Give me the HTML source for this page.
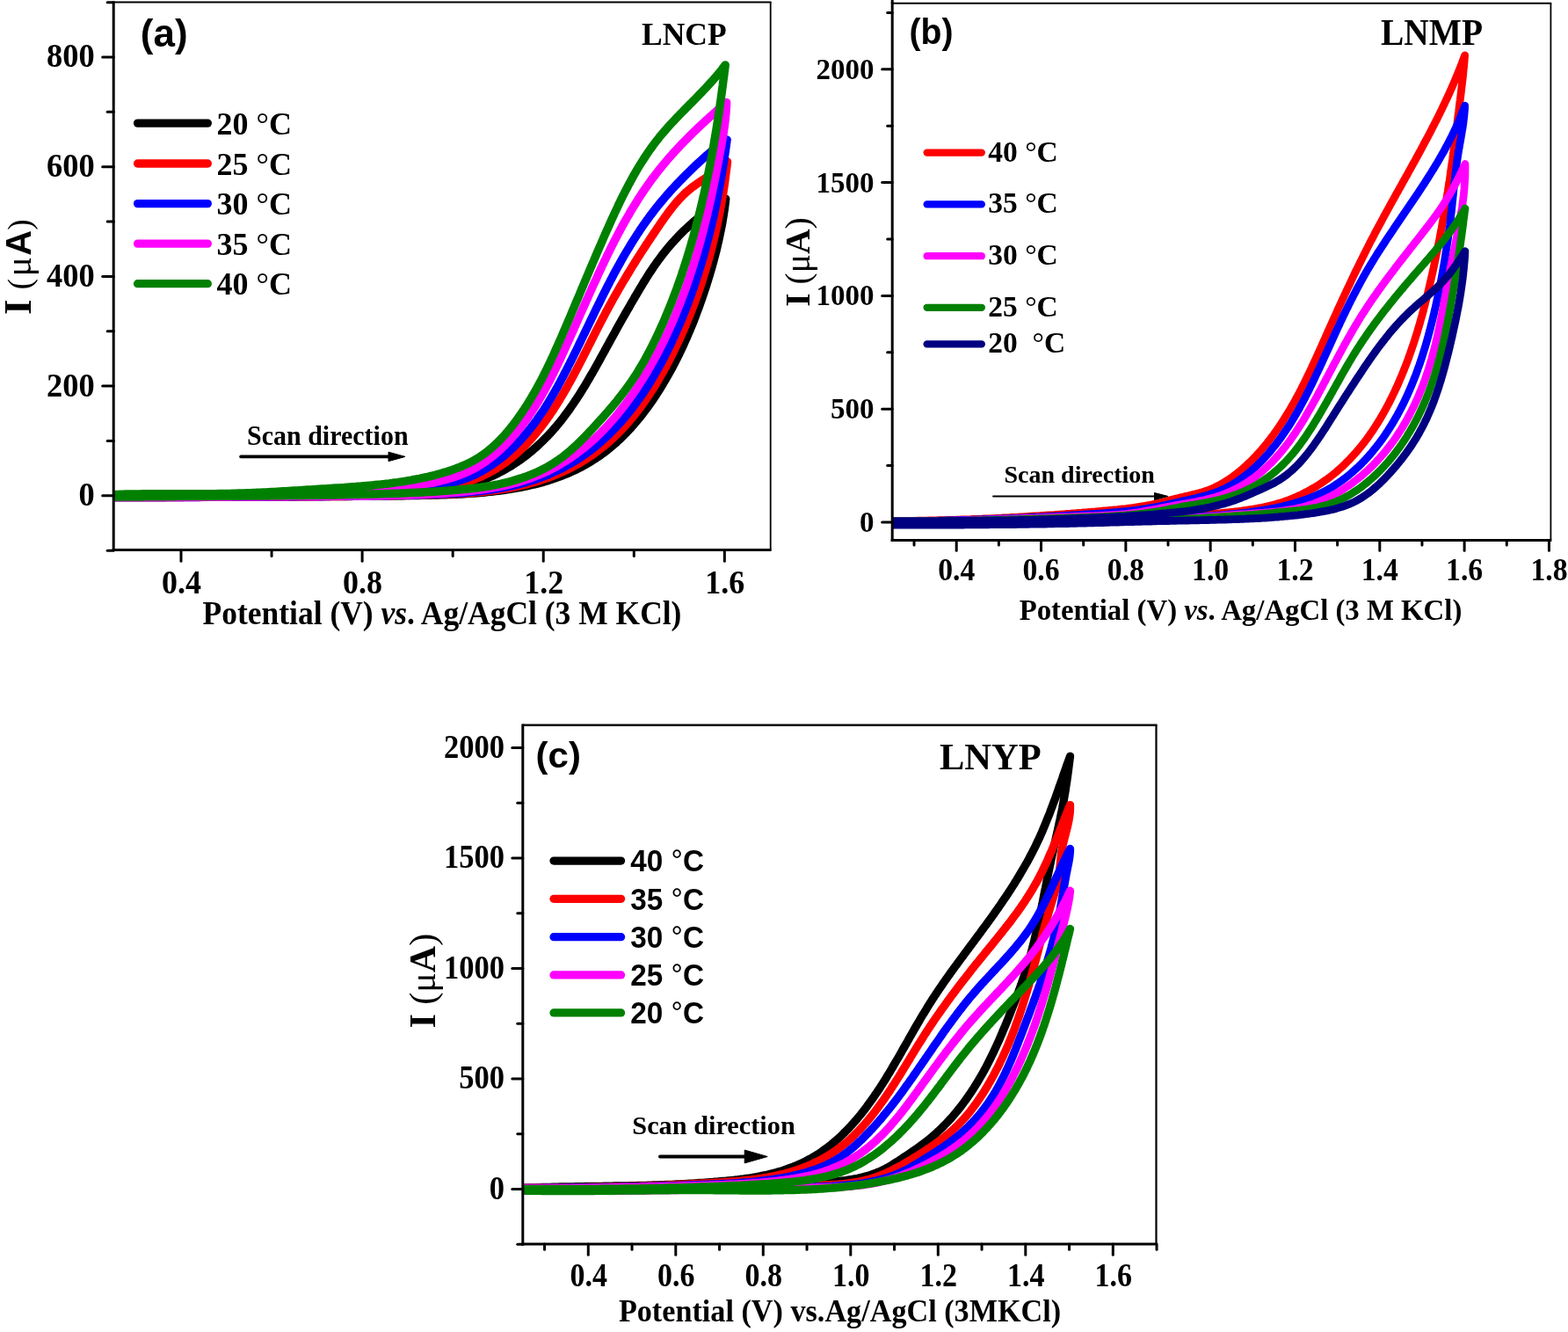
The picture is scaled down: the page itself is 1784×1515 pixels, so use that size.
<!DOCTYPE html>
<html><head><meta charset="utf-8"><title>CV plots</title>
<style>
html,body{margin:0;padding:0;background:#fff;}
body{width:1784px;height:1515px;overflow:hidden;}
svg{display:block;}
</style></head><body>
<svg width="1784" height="1515" viewBox="0 0 1784 1515">
<rect x="0" y="0" width="1784" height="1515" fill="#fff"/>
<clipPath id="clp1"><rect x="129.2" y="2.5" width="747.5" height="623.0"/></clipPath>
<g clip-path="url(#clp1)">
<path d="M130.5,565.0 L133.3,565.0 L136.2,565.0 L139.0,565.0 L141.9,565.0 L144.7,565.0 L147.6,565.0 L150.4,565.0 L153.3,565.0 L156.1,565.0 L159.0,565.0 L161.8,565.0 L164.7,565.0 L167.5,565.0 L170.4,565.0 L173.2,565.0 L176.1,565.0 L178.9,565.0 L181.8,565.0 L184.6,565.0 L187.5,565.0 L190.3,565.0 L193.2,565.0 L196.0,564.9 L198.9,564.9 L201.7,564.9 L204.6,564.9 L207.4,564.9 L210.3,564.9 L213.1,564.9 L216.0,564.9 L218.8,564.9 L221.7,564.9 L224.5,564.9 L227.4,564.9 L230.2,564.8 L233.1,564.8 L235.9,564.8 L238.8,564.8 L241.6,564.8 L244.5,564.8 L247.3,564.8 L250.2,564.8 L253.0,564.7 L255.9,564.7 L258.7,564.7 L261.6,564.7 L264.4,564.7 L267.3,564.7 L270.1,564.6 L273.0,564.6 L275.8,564.6 L278.7,564.6 L281.5,564.6 L284.4,564.6 L287.2,564.5 L290.1,564.5 L292.9,564.5 L295.8,564.5 L298.6,564.4 L301.5,564.4 L304.3,564.4 L307.2,564.4 L310.0,564.3 L312.9,564.3 L315.7,564.3 L318.6,564.3 L321.4,564.2 L324.3,564.2 L327.1,564.2 L330.0,564.1 L332.8,564.1 L335.7,564.1 L338.5,564.0 L341.4,564.0 L344.2,564.0 L347.1,563.9 L349.9,563.9 L352.8,563.9 L355.6,563.8 L358.4,563.8 L361.3,563.7 L364.1,563.7 L367.0,563.7 L369.8,563.6 L372.7,563.6 L375.5,563.5 L378.4,563.5 L381.2,563.4 L384.1,563.4 L386.9,563.3 L389.8,563.3 L392.6,563.2 L395.5,563.2 L398.3,563.1 L401.2,563.1 L404.0,563.0 L406.9,562.9 L409.7,562.9 L412.6,562.8 L415.4,562.7 L418.3,562.7 L421.1,562.6 L424.0,562.5 L426.8,562.4 L429.7,562.4 L432.5,562.3 L435.4,562.2 L438.2,562.1 L441.1,562.0 L443.9,561.9 L446.8,561.8 L449.6,561.7 L452.5,561.6 L455.3,561.5 L458.2,561.4 L461.0,561.3 L463.9,561.2 L466.7,561.0 L469.6,560.9 L472.4,560.8 L475.3,560.6 L478.1,560.4 L481.0,560.3 L483.8,560.1 L486.6,559.8 L489.5,559.6 L492.3,559.3 L495.1,559.0 L497.9,558.7 L500.8,558.4 L503.6,558.0 L506.4,557.6 L509.2,557.1 L512.0,556.6 L514.8,556.1 L517.5,555.5 L520.3,554.9 L523.1,554.3 L525.8,553.6 L528.6,552.8 L531.3,552.1 L534.0,551.3 L536.7,550.4 L539.4,549.6 L542.1,548.6 L544.8,547.7 L547.5,546.7 L550.1,545.7 L552.8,544.6 L555.4,543.5 L558.0,542.3 L560.6,541.1 L563.2,539.9 L565.7,538.7 L568.2,537.4 L570.8,536.0 L573.3,534.7 L575.8,533.3 L578.2,531.8 L580.7,530.4 L583.1,528.9 L585.5,527.3 L587.9,525.8 L590.2,524.2 L592.6,522.5 L594.9,520.8 L597.2,519.1 L599.4,517.4 L601.7,515.6 L603.9,513.8 L606.1,512.0 L608.2,510.1 L610.4,508.3 L612.5,506.3 L614.5,504.4 L616.6,502.4 L618.6,500.4 L620.6,498.4 L622.6,496.4 L624.6,494.3 L626.5,492.2 L628.4,490.1 L630.3,487.9 L632.1,485.8 L634.0,483.6 L635.8,481.4 L637.6,479.2 L639.4,477.0 L641.1,474.7 L642.8,472.4 L644.5,470.2 L646.2,467.9 L647.9,465.6 L649.5,463.2 L651.1,460.9 L652.7,458.6 L654.3,456.2 L655.9,453.8 L657.4,451.5 L659.0,449.1 L660.5,446.7 L662.0,444.2 L663.5,441.8 L665.0,439.4 L666.5,437.0 L667.9,434.5 L669.4,432.1 L670.8,429.6 L672.2,427.1 L673.7,424.7 L675.1,422.2 L676.5,419.7 L677.9,417.2 L679.3,414.7 L680.7,412.2 L682.1,409.7 L683.4,407.2 L684.8,404.7 L686.2,402.2 L687.6,399.7 L688.9,397.2 L690.3,394.7 L691.7,392.2 L693.1,389.7 L694.4,387.2 L695.8,384.7 L697.2,382.2 L698.6,379.7 L700.0,377.2 L701.3,374.8 L702.7,372.3 L704.1,369.8 L705.5,367.3 L706.9,364.8 L708.3,362.3 L709.7,359.9 L711.1,357.4 L712.5,354.9 L714.0,352.4 L715.4,350.0 L716.8,347.5 L718.2,345.0 L719.6,342.6 L721.1,340.1 L722.5,337.6 L724.0,335.2 L725.4,332.7 L726.9,330.3 L728.3,327.8 L729.8,325.4 L731.3,322.9 L732.7,320.5 L734.3,318.1 L735.8,315.6 L737.3,313.2 L738.8,310.8 L740.4,308.5 L742.0,306.1 L743.6,303.7 L745.2,301.4 L746.8,299.1 L748.5,296.8 L750.2,294.5 L751.9,292.2 L753.6,289.9 L755.3,287.7 L757.1,285.5 L758.9,283.3 L760.7,281.1 L762.6,278.9 L764.4,276.8 L766.3,274.7 L768.2,272.6 L770.2,270.5 L772.1,268.4 L774.1,266.4 L776.1,264.4 L778.1,262.4 L780.2,260.4 L782.3,258.5 L784.4,256.6 L786.5,254.7 L788.6,252.8 L790.8,250.9 L793.0,249.1 L795.2,247.3 L797.4,245.5 L799.6,243.8 L801.9,242.1 L804.2,240.3 L806.5,238.7 L808.8,237.0 L811.2,235.4 L813.5,233.8 L815.9,232.2 L818.3,230.7 L820.8,229.2 L823.2,227.7 L825.7,226.2 L825.3,229.2 L825.0,232.2 L824.6,235.1 L824.2,238.1 L823.7,241.1 L823.3,244.0 L822.8,247.0 L822.3,249.9 L821.8,252.9 L821.3,255.8 L820.7,258.7 L820.1,261.7 L819.5,264.6 L818.9,267.5 L818.3,270.4 L817.7,273.3 L817.0,276.2 L816.3,279.1 L815.7,282.0 L815.0,284.9 L814.2,287.8 L813.5,290.7 L812.7,293.6 L812.0,296.4 L811.2,299.3 L810.4,302.2 L809.6,305.0 L808.7,307.9 L807.9,310.7 L807.1,313.6 L806.2,316.4 L805.3,319.3 L804.4,322.1 L803.5,325.0 L802.6,327.8 L801.6,330.6 L800.7,333.5 L799.7,336.3 L798.8,339.1 L797.8,341.9 L796.8,344.8 L795.8,347.6 L794.8,350.4 L793.7,353.2 L792.7,356.0 L791.6,358.8 L790.6,361.6 L789.5,364.4 L788.4,367.1 L787.3,369.9 L786.1,372.7 L785.0,375.4 L783.8,378.2 L782.6,381.0 L781.5,383.7 L780.2,386.4 L779.0,389.2 L777.8,391.9 L776.5,394.6 L775.3,397.3 L774.0,400.0 L772.7,402.7 L771.3,405.4 L770.0,408.1 L768.6,410.8 L767.3,413.4 L765.9,416.1 L764.5,418.7 L763.0,421.4 L761.6,424.0 L760.1,426.6 L758.6,429.2 L757.1,431.9 L755.6,434.4 L754.1,437.0 L752.5,439.6 L750.9,442.2 L749.3,444.7 L747.7,447.2 L746.0,449.8 L744.4,452.3 L742.7,454.8 L741.0,457.2 L739.3,459.7 L737.5,462.2 L735.7,464.6 L733.9,467.0 L732.1,469.4 L730.3,471.8 L728.4,474.1 L726.5,476.4 L724.6,478.7 L722.7,481.0 L720.7,483.3 L718.8,485.5 L716.8,487.7 L714.7,489.9 L712.7,492.1 L710.6,494.2 L708.5,496.3 L706.4,498.4 L704.2,500.4 L702.1,502.4 L699.9,504.4 L697.6,506.3 L695.4,508.2 L693.1,510.1 L690.8,512.0 L688.5,513.8 L686.1,515.5 L683.7,517.3 L681.3,519.0 L678.9,520.6 L676.4,522.3 L673.9,523.8 L671.4,525.4 L668.8,526.9 L666.3,528.4 L663.7,529.8 L661.1,531.2 L658.4,532.6 L655.8,533.9 L653.1,535.2 L650.4,536.4 L647.7,537.6 L645.0,538.8 L642.2,539.9 L639.4,541.0 L636.7,542.1 L633.9,543.1 L631.1,544.1 L628.2,545.1 L625.4,546.0 L622.5,546.9 L619.7,547.7 L616.8,548.6 L613.9,549.3 L611.0,550.1 L608.1,550.8 L605.2,551.5 L602.2,552.2 L599.3,552.8 L596.4,553.4 L593.4,554.0 L590.5,554.6 L587.5,555.1 L584.6,555.6 L581.6,556.1 L578.6,556.6 L575.7,557.0 L572.7,557.5 L569.7,557.9 L566.7,558.2 L563.8,558.6 L560.8,559.0 L557.8,559.3 L554.8,559.6 L551.8,559.9 L548.9,560.2 L545.9,560.4 L542.9,560.7 L539.9,560.9 L536.9,561.1 L533.9,561.3 L530.9,561.5 L527.9,561.7 L524.9,561.9 L522.0,562.0 L519.0,562.2 L516.0,562.3 L513.0,562.4 L510.0,562.5 L507.0,562.7 L504.0,562.8 L501.0,562.8 L498.0,562.9 L495.0,563.0 L492.0,563.1 L489.0,563.2 L486.0,563.2 L483.0,563.3 L480.0,563.3 L477.1,563.4 L474.1,563.4 L471.1,563.5 L468.1,563.5 L465.1,563.6 L462.1,563.6 L459.1,563.7 L456.1,563.7 L453.1,563.7 L450.1,563.8 L447.2,563.8 L444.2,563.9 L441.2,563.9 L438.2,563.9 L435.2,564.0 L432.2,564.0 L429.2,564.1 L426.3,564.1 L423.3,564.1 L420.3,564.2 L417.3,564.2 L414.3,564.2 L411.3,564.3 L408.4,564.3 L405.4,564.3 L402.4,564.3 L399.4,564.4 L396.4,564.4 L393.5,564.4 L390.5,564.5 L387.5,564.5 L384.5,564.5 L381.5,564.5 L378.5,564.6 L375.6,564.6 L372.6,564.6 L369.6,564.6 L366.6,564.7 L363.6,564.7 L360.6,564.7 L357.7,564.7 L354.7,564.7 L351.7,564.8 L348.7,564.8 L345.7,564.8 L342.7,564.8 L339.7,564.8 L336.8,564.9 L333.8,564.9 L330.8,564.9 L327.8,564.9 L324.8,564.9 L321.8,564.9 L318.8,564.9 L315.8,565.0 L312.9,565.0 L309.9,565.0 L306.9,565.0 L303.9,565.0 L300.9,565.0 L297.9,565.0 L294.9,565.1 L291.9,565.1 L288.9,565.1 L285.9,565.1 L283.0,565.1 L280.0,565.1 L277.0,565.1 L274.0,565.1 L271.0,565.1 L268.0,565.1 L265.0,565.2 L262.0,565.2 L259.0,565.2 L256.0,565.2 L253.0,565.2 L250.0,565.2 L247.1,565.2 L244.1,565.2 L241.1,565.2 L238.1,565.2 L235.1,565.2 L232.1,565.3 L229.1,565.3 L226.1,565.3 L223.1,565.3 L220.1,565.3 L217.1,565.3 L214.2,565.3 L211.2,565.3 L208.2,565.3 L205.2,565.3 L202.2,565.3 L199.2,565.3 L196.2,565.3 L193.2,565.3 L190.2,565.3 L187.2,565.4 L184.3,565.4 L181.3,565.4 L178.3,565.4 L175.3,565.4 L172.3,565.4 L169.3,565.4 L166.3,565.4 L163.3,565.4 L160.4,565.4 L157.4,565.4 L154.4,565.4 L151.4,565.4 L148.4,565.4 L145.4,565.5 L142.4,565.5 L139.5,565.5 L136.5,565.5 L133.5,565.5 L130.5,565.5" fill="none" stroke="#000000" stroke-width="9.5" stroke-linejoin="round" stroke-linecap="round"/>
<path d="M130.5,564.5 L133.5,564.5 L136.4,564.5 L139.4,564.5 L142.3,564.5 L145.3,564.4 L148.2,564.4 L151.2,564.4 L154.1,564.4 L157.1,564.4 L160.0,564.4 L163.0,564.4 L165.9,564.4 L168.9,564.4 L171.8,564.4 L174.8,564.4 L177.7,564.4 L180.7,564.4 L183.6,564.4 L186.6,564.4 L189.5,564.4 L192.5,564.4 L195.4,564.4 L198.4,564.4 L201.3,564.4 L204.3,564.4 L207.2,564.4 L210.2,564.4 L213.1,564.4 L216.1,564.4 L219.0,564.4 L222.0,564.4 L224.9,564.4 L227.9,564.4 L230.8,564.4 L233.8,564.4 L236.7,564.4 L239.7,564.4 L242.6,564.4 L245.6,564.3 L248.5,564.3 L251.5,564.3 L254.4,564.3 L257.4,564.3 L260.3,564.3 L263.3,564.3 L266.2,564.3 L269.2,564.3 L272.1,564.3 L275.1,564.2 L278.0,564.2 L281.0,564.2 L283.9,564.2 L286.9,564.2 L289.8,564.2 L292.8,564.1 L295.7,564.1 L298.7,564.1 L301.6,564.1 L304.6,564.0 L307.5,564.0 L310.5,564.0 L313.4,563.9 L316.4,563.9 L319.3,563.9 L322.3,563.8 L325.2,563.8 L328.2,563.7 L331.1,563.7 L334.1,563.6 L337.0,563.6 L340.0,563.5 L342.9,563.5 L345.9,563.4 L348.8,563.4 L351.8,563.3 L354.7,563.2 L357.7,563.2 L360.6,563.1 L363.6,563.0 L366.5,562.9 L369.5,562.9 L372.4,562.8 L375.4,562.7 L378.3,562.6 L381.3,562.5 L384.2,562.4 L387.2,562.3 L390.1,562.2 L393.1,562.1 L396.0,562.0 L398.9,561.9 L401.9,561.8 L404.8,561.7 L407.8,561.6 L410.7,561.5 L413.7,561.4 L416.6,561.2 L419.6,561.1 L422.5,561.0 L425.5,560.8 L428.4,560.7 L431.4,560.5 L434.3,560.4 L437.3,560.2 L440.2,560.1 L443.2,559.9 L446.1,559.8 L449.1,559.6 L452.0,559.4 L454.9,559.3 L457.9,559.1 L460.8,558.9 L463.8,558.7 L466.7,558.5 L469.7,558.4 L472.6,558.2 L475.6,558.0 L478.5,557.7 L481.4,557.5 L484.4,557.2 L487.3,557.0 L490.2,556.7 L493.2,556.3 L496.1,556.0 L499.0,555.6 L501.9,555.2 L504.8,554.7 L507.7,554.2 L510.6,553.7 L513.5,553.1 L516.3,552.5 L519.2,551.8 L522.1,551.1 L524.9,550.3 L527.8,549.4 L530.6,548.5 L533.4,547.6 L536.2,546.6 L539.0,545.5 L541.7,544.4 L544.4,543.3 L547.2,542.1 L549.9,540.8 L552.5,539.5 L555.2,538.2 L557.8,536.8 L560.4,535.4 L562.9,533.9 L565.5,532.4 L567.9,530.8 L570.4,529.2 L572.8,527.5 L575.2,525.8 L577.6,524.1 L579.9,522.3 L582.2,520.5 L584.4,518.6 L586.7,516.7 L588.9,514.8 L591.0,512.8 L593.1,510.8 L595.2,508.7 L597.3,506.7 L599.4,504.6 L601.4,502.4 L603.4,500.3 L605.3,498.1 L607.2,495.9 L609.2,493.6 L611.0,491.3 L612.9,489.0 L614.7,486.7 L616.5,484.4 L618.3,482.0 L620.1,479.6 L621.8,477.2 L623.5,474.8 L625.2,472.4 L626.9,469.9 L628.5,467.5 L630.2,465.0 L631.8,462.5 L633.4,460.0 L634.9,457.5 L636.5,454.9 L638.0,452.4 L639.6,449.8 L641.1,447.3 L642.5,444.7 L644.0,442.2 L645.5,439.6 L646.9,437.0 L648.4,434.4 L649.8,431.9 L651.2,429.3 L652.6,426.7 L654.0,424.1 L655.4,421.5 L656.7,418.9 L658.1,416.2 L659.5,413.6 L660.8,411.0 L662.2,408.4 L663.5,405.8 L664.8,403.2 L666.2,400.5 L667.5,397.9 L668.8,395.3 L670.1,392.7 L671.5,390.1 L672.8,387.4 L674.1,384.8 L675.4,382.2 L676.8,379.6 L678.1,376.9 L679.4,374.3 L680.8,371.7 L682.1,369.1 L683.5,366.5 L684.8,363.9 L686.2,361.3 L687.6,358.7 L688.9,356.1 L690.3,353.5 L691.7,350.9 L693.1,348.3 L694.6,345.7 L696.0,343.1 L697.4,340.5 L698.9,337.9 L700.3,335.4 L701.8,332.8 L703.3,330.2 L704.7,327.7 L706.2,325.1 L707.7,322.6 L709.2,320.0 L710.8,317.5 L712.3,315.0 L713.8,312.4 L715.4,309.9 L716.9,307.4 L718.4,304.8 L720.0,302.3 L721.6,299.8 L723.1,297.3 L724.7,294.8 L726.3,292.3 L727.9,289.8 L729.5,287.3 L731.1,284.8 L732.7,282.4 L734.3,279.9 L735.9,277.4 L737.6,274.9 L739.2,272.5 L740.8,270.0 L742.5,267.6 L744.1,265.1 L745.8,262.7 L747.4,260.2 L749.1,257.8 L750.7,255.4 L752.4,252.9 L754.1,250.5 L755.8,248.1 L757.5,245.7 L759.2,243.4 L760.9,241.0 L762.7,238.7 L764.5,236.4 L766.3,234.1 L768.1,231.9 L770.0,229.7 L772.0,227.5 L773.9,225.4 L776.0,223.3 L778.0,221.2 L780.1,219.2 L782.3,217.3 L784.6,215.4 L786.9,213.6 L789.2,211.8 L791.6,210.1 L794.0,208.4 L796.5,206.7 L799.0,205.0 L801.5,203.4 L804.0,201.8 L806.5,200.1 L809.0,198.4 L811.5,196.8 L813.9,195.1 L816.3,193.3 L818.7,191.5 L821.0,189.7 L823.2,187.8 L825.4,185.8 L827.5,183.8 L827.2,186.9 L826.8,190.0 L826.4,193.1 L826.0,196.2 L825.6,199.3 L825.2,202.4 L824.8,205.5 L824.4,208.6 L823.9,211.7 L823.5,214.7 L823.0,217.8 L822.5,220.9 L822.0,224.0 L821.5,227.0 L820.9,230.1 L820.4,233.1 L819.8,236.2 L819.3,239.2 L818.7,242.3 L818.1,245.3 L817.5,248.4 L816.9,251.4 L816.2,254.4 L815.6,257.5 L814.9,260.5 L814.2,263.5 L813.5,266.5 L812.8,269.5 L812.1,272.6 L811.4,275.6 L810.6,278.6 L809.9,281.6 L809.1,284.6 L808.3,287.5 L807.5,290.5 L806.7,293.5 L805.8,296.5 L805.0,299.5 L804.1,302.4 L803.3,305.4 L802.4,308.4 L801.5,311.3 L800.5,314.3 L799.6,317.2 L798.7,320.2 L797.7,323.1 L796.7,326.0 L795.7,329.0 L794.7,331.9 L793.7,334.8 L792.6,337.7 L791.6,340.6 L790.5,343.5 L789.4,346.4 L788.3,349.3 L787.2,352.2 L786.1,355.1 L785.0,358.0 L783.8,360.9 L782.6,363.8 L781.4,366.6 L780.2,369.5 L779.0,372.3 L777.8,375.2 L776.5,378.1 L775.3,380.9 L774.0,383.7 L772.7,386.6 L771.4,389.4 L770.0,392.2 L768.7,395.0 L767.3,397.9 L765.9,400.7 L764.6,403.5 L763.1,406.3 L761.7,409.1 L760.3,411.8 L758.8,414.6 L757.3,417.4 L755.8,420.1 L754.3,422.9 L752.8,425.6 L751.2,428.3 L749.7,431.1 L748.1,433.8 L746.5,436.4 L744.8,439.1 L743.2,441.8 L741.5,444.4 L739.8,447.0 L738.1,449.6 L736.3,452.2 L734.6,454.8 L732.8,457.4 L731.0,459.9 L729.2,462.4 L727.3,464.9 L725.4,467.4 L723.5,469.8 L721.6,472.3 L719.6,474.7 L717.6,477.0 L715.6,479.4 L713.6,481.7 L711.5,484.0 L709.4,486.3 L707.3,488.6 L705.2,490.8 L703.0,493.0 L700.8,495.1 L698.5,497.3 L696.3,499.4 L694.0,501.4 L691.7,503.5 L689.3,505.5 L687.0,507.5 L684.6,509.4 L682.1,511.3 L679.7,513.2 L677.2,515.0 L674.7,516.8 L672.2,518.6 L669.6,520.3 L667.0,522.0 L664.4,523.6 L661.8,525.3 L659.1,526.8 L656.4,528.4 L653.7,529.9 L651.0,531.3 L648.3,532.7 L645.5,534.1 L642.7,535.4 L639.9,536.7 L637.1,537.9 L634.3,539.1 L631.4,540.3 L628.5,541.5 L625.6,542.5 L622.7,543.6 L619.8,544.6 L616.9,545.6 L613.9,546.6 L610.9,547.5 L608.0,548.4 L605.0,549.2 L602.0,550.0 L599.0,550.8 L596.0,551.5 L593.0,552.2 L589.9,552.9 L586.9,553.6 L583.9,554.2 L580.8,554.8 L577.8,555.3 L574.7,555.9 L571.6,556.4 L568.6,556.8 L565.5,557.3 L562.4,557.7 L559.3,558.1 L556.2,558.5 L553.1,558.9 L550.0,559.2 L546.9,559.5 L543.8,559.8 L540.7,560.1 L537.6,560.4 L534.5,560.6 L531.4,560.9 L528.3,561.1 L525.1,561.3 L522.0,561.5 L518.9,561.6 L515.8,561.8 L512.6,561.9 L509.5,562.1 L506.4,562.2 L503.3,562.3 L500.1,562.4 L497.0,562.6 L493.9,562.7 L490.8,562.7 L487.6,562.8 L484.5,562.9 L481.4,563.0 L478.3,563.1 L475.2,563.2 L472.1,563.2 L468.9,563.3 L465.8,563.4 L462.7,563.4 L459.6,563.5 L456.5,563.6 L453.4,563.6 L450.3,563.7 L447.2,563.7 L444.1,563.8 L441.0,563.8 L437.9,563.9 L434.8,563.9 L431.7,564.0 L428.6,564.0 L425.5,564.0 L422.4,564.1 L419.3,564.1 L416.2,564.1 L413.1,564.2 L410.0,564.2 L406.9,564.2 L403.8,564.3 L400.7,564.3 L397.6,564.3 L394.5,564.4 L391.4,564.4 L388.3,564.4 L385.2,564.4 L382.1,564.5 L379.0,564.5 L375.9,564.5 L372.8,564.5 L369.7,564.5 L366.7,564.6 L363.6,564.6 L360.5,564.6 L357.3,564.6 L354.2,564.7 L351.1,564.7 L348.0,564.7 L344.9,564.7 L341.8,564.7 L338.7,564.8 L335.6,564.8 L332.5,564.8 L329.4,564.8 L326.3,564.8 L323.2,564.8 L320.1,564.9 L317.0,564.9 L313.9,564.9 L310.8,564.9 L307.7,564.9 L304.6,565.0 L301.4,565.0 L298.3,565.0 L295.2,565.0 L292.1,565.0 L289.0,565.0 L285.9,565.0 L282.8,565.1 L279.7,565.1 L276.6,565.1 L273.5,565.1 L270.3,565.1 L267.2,565.1 L264.1,565.2 L261.0,565.2 L257.9,565.2 L254.8,565.2 L251.7,565.2 L248.6,565.2 L245.5,565.2 L242.3,565.2 L239.2,565.3 L236.1,565.3 L233.0,565.3 L229.9,565.3 L226.8,565.3 L223.7,565.3 L220.6,565.3 L217.5,565.3 L214.3,565.3 L211.2,565.3 L208.1,565.4 L205.0,565.4 L201.9,565.4 L198.8,565.4 L195.7,565.4 L192.6,565.4 L189.5,565.4 L186.4,565.4 L183.3,565.4 L180.2,565.4 L177.0,565.4 L173.9,565.4 L170.8,565.4 L167.7,565.5 L164.6,565.5 L161.5,565.5 L158.4,565.5 L155.3,565.5 L152.2,565.5 L149.1,565.5 L146.0,565.5 L142.9,565.5 L139.8,565.5 L136.7,565.5 L133.6,565.5 L130.5,565.5" fill="none" stroke="#ff0000" stroke-width="9.5" stroke-linejoin="round" stroke-linecap="round"/>
<path d="M130.5,564.0 L133.5,564.0 L136.5,564.0 L139.5,564.0 L142.5,564.0 L145.5,564.0 L148.5,564.0 L151.5,564.0 L154.5,564.0 L157.5,564.0 L160.5,564.0 L163.5,564.0 L166.5,564.0 L169.5,564.0 L172.5,564.0 L175.5,564.0 L178.5,564.0 L181.5,564.0 L184.5,564.0 L187.5,564.0 L190.5,564.0 L193.5,564.0 L196.5,564.0 L199.5,564.0 L202.5,564.0 L205.5,564.0 L208.5,564.0 L211.5,564.0 L214.5,564.0 L217.5,564.0 L220.5,564.0 L223.5,564.0 L226.5,563.9 L229.5,563.9 L232.5,563.9 L235.5,563.9 L238.5,563.9 L241.5,563.9 L244.5,563.9 L247.5,563.9 L250.5,563.9 L253.5,563.9 L256.5,563.8 L259.5,563.8 L262.5,563.8 L265.5,563.8 L268.5,563.8 L271.5,563.7 L274.5,563.7 L277.5,563.7 L280.5,563.7 L283.5,563.6 L286.5,563.6 L289.5,563.6 L292.5,563.6 L295.5,563.5 L298.5,563.5 L301.5,563.5 L304.5,563.4 L307.5,563.4 L310.5,563.3 L313.5,563.3 L316.5,563.3 L319.5,563.2 L322.5,563.2 L325.5,563.1 L328.5,563.1 L331.5,563.0 L334.5,562.9 L337.5,562.9 L340.5,562.8 L343.5,562.8 L346.5,562.7 L349.5,562.6 L352.5,562.6 L355.5,562.5 L358.5,562.4 L361.5,562.3 L364.5,562.3 L367.5,562.2 L370.4,562.1 L373.4,562.0 L376.4,561.9 L379.4,561.8 L382.4,561.7 L385.4,561.6 L388.4,561.5 L391.4,561.4 L394.4,561.3 L397.4,561.2 L400.4,561.0 L403.4,560.9 L406.4,560.8 L409.4,560.6 L412.4,560.5 L415.4,560.3 L418.4,560.2 L421.4,560.0 L424.4,559.8 L427.4,559.7 L430.4,559.5 L433.4,559.3 L436.4,559.1 L439.4,558.9 L442.3,558.6 L445.3,558.4 L448.3,558.2 L451.3,557.9 L454.3,557.7 L457.3,557.4 L460.3,557.1 L463.3,556.8 L466.3,556.5 L469.3,556.2 L472.3,555.9 L475.2,555.6 L478.2,555.3 L481.2,554.9 L484.2,554.5 L487.2,554.1 L490.2,553.7 L493.1,553.3 L496.1,552.8 L499.0,552.3 L502.0,551.8 L504.9,551.2 L507.8,550.6 L510.7,549.9 L513.6,549.2 L516.5,548.5 L519.4,547.7 L522.2,546.8 L525.1,545.9 L527.9,544.9 L530.7,543.9 L533.5,542.8 L536.2,541.6 L539.0,540.4 L541.7,539.1 L544.3,537.7 L547.0,536.3 L549.6,534.8 L552.2,533.3 L554.8,531.8 L557.4,530.1 L559.9,528.5 L562.4,526.8 L564.8,525.0 L567.3,523.2 L569.7,521.4 L572.0,519.5 L574.3,517.6 L576.6,515.6 L578.9,513.6 L581.1,511.6 L583.3,509.6 L585.4,507.5 L587.5,505.4 L589.6,503.2 L591.7,501.1 L593.7,498.9 L595.7,496.6 L597.6,494.4 L599.5,492.1 L601.4,489.8 L603.3,487.5 L605.1,485.1 L607.0,482.8 L608.7,480.4 L610.5,478.0 L612.2,475.5 L613.9,473.1 L615.6,470.6 L617.3,468.1 L619.0,465.6 L620.6,463.1 L622.2,460.5 L623.8,458.0 L625.3,455.4 L626.9,452.8 L628.4,450.2 L629.9,447.6 L631.4,445.0 L632.9,442.4 L634.4,439.8 L635.8,437.1 L637.3,434.5 L638.7,431.8 L640.1,429.2 L641.5,426.5 L642.9,423.8 L644.3,421.2 L645.7,418.5 L647.0,415.8 L648.4,413.1 L649.7,410.4 L651.1,407.8 L652.4,405.1 L653.7,402.4 L655.1,399.7 L656.4,397.0 L657.7,394.3 L659.0,391.6 L660.3,388.9 L661.6,386.2 L662.9,383.5 L664.2,380.8 L665.5,378.1 L666.8,375.4 L668.1,372.7 L669.4,370.0 L670.7,367.3 L672.0,364.6 L673.3,361.9 L674.6,359.2 L675.9,356.5 L677.2,353.8 L678.5,351.1 L679.8,348.5 L681.2,345.8 L682.5,343.1 L683.8,340.4 L685.1,337.7 L686.5,335.0 L687.8,332.4 L689.2,329.7 L690.5,327.0 L691.9,324.3 L693.3,321.7 L694.6,319.0 L696.0,316.4 L697.4,313.7 L698.8,311.1 L700.3,308.4 L701.7,305.8 L703.1,303.2 L704.6,300.6 L706.1,297.9 L707.5,295.3 L709.0,292.7 L710.5,290.1 L712.0,287.5 L713.6,285.0 L715.1,282.4 L716.7,279.8 L718.2,277.3 L719.8,274.7 L721.4,272.2 L723.0,269.7 L724.6,267.2 L726.3,264.7 L727.9,262.2 L729.6,259.7 L731.3,257.2 L733.0,254.8 L734.7,252.3 L736.5,249.9 L738.2,247.5 L740.0,245.0 L741.8,242.7 L743.6,240.3 L745.5,237.9 L747.3,235.5 L749.2,233.2 L751.1,230.9 L753.0,228.6 L755.0,226.3 L756.9,224.0 L758.9,221.7 L760.9,219.5 L762.9,217.2 L764.9,215.0 L767.0,212.8 L769.0,210.6 L771.1,208.4 L773.2,206.2 L775.3,204.1 L777.4,201.9 L779.5,199.8 L781.6,197.7 L783.8,195.6 L785.9,193.5 L788.1,191.4 L790.2,189.3 L792.4,187.3 L794.6,185.2 L796.8,183.2 L799.0,181.2 L801.2,179.2 L803.4,177.2 L805.7,175.3 L808.0,173.3 L810.3,171.4 L812.6,169.5 L814.9,167.7 L817.3,165.9 L819.7,164.1 L822.1,162.3 L824.6,160.6 L827.1,158.9 L826.7,162.0 L826.2,165.2 L825.8,168.3 L825.4,171.5 L824.9,174.6 L824.4,177.7 L824.0,180.9 L823.5,184.0 L823.0,187.1 L822.5,190.3 L822.0,193.4 L821.5,196.5 L820.9,199.6 L820.4,202.8 L819.8,205.9 L819.3,209.0 L818.7,212.1 L818.1,215.2 L817.6,218.3 L817.0,221.4 L816.4,224.5 L815.7,227.6 L815.1,230.7 L814.5,233.8 L813.8,236.9 L813.2,240.0 L812.5,243.1 L811.8,246.2 L811.1,249.3 L810.4,252.4 L809.7,255.4 L809.0,258.5 L808.2,261.6 L807.5,264.6 L806.7,267.7 L805.9,270.8 L805.1,273.8 L804.3,276.9 L803.5,279.9 L802.7,283.0 L801.9,286.0 L801.0,289.1 L800.2,292.1 L799.3,295.1 L798.4,298.2 L797.5,301.2 L796.6,304.2 L795.6,307.2 L794.7,310.2 L793.7,313.2 L792.8,316.2 L791.8,319.2 L790.8,322.2 L789.8,325.2 L788.8,328.2 L787.7,331.2 L786.7,334.2 L785.6,337.1 L784.5,340.1 L783.4,343.1 L782.3,346.0 L781.2,349.0 L780.0,351.9 L778.9,354.9 L777.7,357.8 L776.5,360.7 L775.3,363.7 L774.1,366.6 L772.8,369.5 L771.6,372.4 L770.3,375.3 L769.0,378.2 L767.7,381.1 L766.4,384.0 L765.1,386.9 L763.7,389.8 L762.4,392.7 L761.0,395.5 L759.6,398.4 L758.2,401.2 L756.7,404.1 L755.3,406.9 L753.8,409.7 L752.3,412.6 L750.8,415.4 L749.2,418.2 L747.7,420.9 L746.1,423.7 L744.5,426.5 L742.9,429.2 L741.3,431.9 L739.6,434.7 L737.9,437.4 L736.2,440.1 L734.5,442.7 L732.8,445.4 L731.0,448.0 L729.2,450.6 L727.4,453.2 L725.5,455.8 L723.7,458.4 L721.8,460.9 L719.9,463.5 L717.9,466.0 L716.0,468.4 L714.0,470.9 L712.0,473.3 L709.9,475.7 L707.9,478.1 L705.8,480.5 L703.6,482.8 L701.5,485.2 L699.3,487.5 L697.1,489.7 L694.9,492.0 L692.6,494.2 L690.3,496.4 L688.0,498.5 L685.7,500.6 L683.3,502.7 L680.9,504.8 L678.5,506.8 L676.0,508.8 L673.6,510.8 L671.1,512.7 L668.5,514.6 L666.0,516.4 L663.4,518.2 L660.8,520.0 L658.2,521.7 L655.5,523.4 L652.9,525.1 L650.1,526.7 L647.4,528.2 L644.7,529.7 L641.9,531.2 L639.1,532.7 L636.3,534.1 L633.4,535.4 L630.6,536.7 L627.7,538.0 L624.8,539.3 L621.9,540.5 L619.0,541.6 L616.1,542.7 L613.1,543.8 L610.1,544.9 L607.1,545.9 L604.1,546.8 L601.1,547.7 L598.1,548.6 L595.1,549.5 L592.0,550.3 L589.0,551.0 L585.9,551.8 L582.9,552.5 L579.8,553.2 L576.7,553.8 L573.6,554.4 L570.5,555.0 L567.4,555.5 L564.2,556.1 L561.1,556.5 L558.0,557.0 L554.8,557.5 L551.7,557.9 L548.5,558.3 L545.4,558.6 L542.2,559.0 L539.0,559.3 L535.9,559.6 L532.7,559.9 L529.5,560.2 L526.3,560.4 L523.2,560.7 L520.0,560.9 L516.8,561.1 L513.6,561.3 L510.4,561.5 L507.2,561.6 L504.0,561.8 L500.8,562.0 L497.7,562.1 L494.5,562.2 L491.3,562.4 L488.1,562.5 L484.9,562.6 L481.7,562.7 L478.6,562.8 L475.4,562.9 L472.2,563.0 L469.0,563.1 L465.9,563.2 L462.7,563.2 L459.5,563.3 L456.4,563.4 L453.2,563.5 L450.0,563.5 L446.9,563.6 L443.7,563.6 L440.5,563.7 L437.4,563.7 L434.2,563.8 L431.1,563.8 L427.9,563.9 L424.8,563.9 L421.6,564.0 L418.5,564.0 L415.3,564.0 L412.1,564.1 L409.0,564.1 L405.8,564.1 L402.7,564.2 L399.5,564.2 L396.4,564.2 L393.2,564.2 L390.1,564.3 L386.9,564.3 L383.8,564.3 L380.6,564.3 L377.4,564.3 L374.3,564.4 L371.1,564.4 L368.0,564.4 L364.8,564.4 L361.7,564.5 L358.5,564.5 L355.3,564.5 L352.2,564.5 L349.0,564.5 L345.9,564.6 L342.7,564.6 L339.5,564.6 L336.4,564.6 L333.2,564.7 L330.0,564.7 L326.9,564.7 L323.7,564.7 L320.5,564.8 L317.4,564.8 L314.2,564.8 L311.0,564.8 L307.9,564.8 L304.7,564.9 L301.5,564.9 L298.4,564.9 L295.2,564.9 L292.0,565.0 L288.9,565.0 L285.7,565.0 L282.5,565.0 L279.4,565.0 L276.2,565.1 L273.0,565.1 L269.8,565.1 L266.7,565.1 L263.5,565.1 L260.3,565.2 L257.2,565.2 L254.0,565.2 L250.8,565.2 L247.6,565.2 L244.5,565.3 L241.3,565.3 L238.1,565.3 L235.0,565.3 L231.8,565.3 L228.6,565.3 L225.5,565.4 L222.3,565.4 L219.1,565.4 L215.9,565.4 L212.8,565.4 L209.6,565.4 L206.4,565.4 L203.3,565.4 L200.1,565.5 L196.9,565.5 L193.8,565.5 L190.6,565.5 L187.4,565.5 L184.3,565.5 L181.1,565.5 L177.9,565.5 L174.8,565.5 L171.6,565.5 L168.4,565.5 L165.3,565.5 L162.1,565.5 L158.9,565.5 L155.8,565.5 L152.6,565.5 L149.5,565.5 L146.3,565.5 L143.1,565.5 L140.0,565.5 L136.8,565.5 L133.7,565.5 L130.5,565.5" fill="none" stroke="#0000ff" stroke-width="9.5" stroke-linejoin="round" stroke-linecap="round"/>
<path d="M130.5,563.5 L133.6,563.5 L136.7,563.6 L139.8,563.6 L142.9,563.6 L146.0,563.7 L149.1,563.7 L152.2,563.7 L155.3,563.7 L158.4,563.7 L161.5,563.8 L164.6,563.8 L167.7,563.8 L170.8,563.8 L173.9,563.8 L177.0,563.8 L180.1,563.8 L183.2,563.8 L186.3,563.8 L189.4,563.8 L192.5,563.8 L195.6,563.8 L198.7,563.8 L201.8,563.8 L204.9,563.8 L208.0,563.8 L211.1,563.8 L214.2,563.8 L217.3,563.8 L220.4,563.7 L223.4,563.7 L226.5,563.7 L229.6,563.7 L232.7,563.7 L235.8,563.6 L238.9,563.6 L242.0,563.6 L245.1,563.5 L248.2,563.5 L251.3,563.5 L254.4,563.4 L257.5,563.4 L260.6,563.3 L263.7,563.3 L266.8,563.3 L269.9,563.2 L273.0,563.2 L276.1,563.1 L279.1,563.1 L282.2,563.0 L285.3,562.9 L288.4,562.9 L291.5,562.8 L294.6,562.8 L297.7,562.7 L300.8,562.6 L303.9,562.6 L307.0,562.5 L310.1,562.4 L313.2,562.3 L316.3,562.3 L319.4,562.2 L322.5,562.1 L325.6,562.0 L328.7,562.0 L331.8,561.9 L334.9,561.8 L338.0,561.7 L341.1,561.6 L344.2,561.5 L347.2,561.4 L350.3,561.3 L353.4,561.2 L356.5,561.1 L359.6,561.0 L362.7,560.9 L365.8,560.8 L368.9,560.7 L372.0,560.6 L375.1,560.5 L378.2,560.4 L381.3,560.3 L384.4,560.2 L387.5,560.0 L390.6,559.9 L393.7,559.8 L396.8,559.6 L399.9,559.5 L403.0,559.3 L406.1,559.2 L409.2,559.0 L412.3,558.8 L415.4,558.6 L418.5,558.4 L421.6,558.2 L424.7,558.0 L427.8,557.8 L430.9,557.5 L434.0,557.3 L437.1,557.0 L440.1,556.7 L443.2,556.4 L446.3,556.1 L449.4,555.8 L452.5,555.4 L455.5,555.0 L458.6,554.6 L461.7,554.2 L464.8,553.8 L467.8,553.4 L470.9,552.9 L473.9,552.4 L477.0,551.9 L480.0,551.4 L483.1,550.8 L486.1,550.2 L489.2,549.6 L492.2,549.0 L495.3,548.3 L498.3,547.7 L501.3,546.9 L504.3,546.2 L507.3,545.4 L510.3,544.5 L513.2,543.7 L516.2,542.7 L519.1,541.7 L522.0,540.7 L524.9,539.6 L527.7,538.5 L530.5,537.3 L533.3,536.0 L536.1,534.7 L538.8,533.3 L541.5,531.8 L544.2,530.3 L546.8,528.7 L549.4,527.0 L551.9,525.3 L554.5,523.5 L556.9,521.7 L559.4,519.8 L561.8,517.8 L564.2,515.8 L566.5,513.8 L568.9,511.7 L571.1,509.6 L573.4,507.4 L575.6,505.2 L577.7,503.0 L579.9,500.7 L582.0,498.4 L584.0,496.1 L586.0,493.7 L588.0,491.3 L590.0,488.9 L591.9,486.5 L593.8,484.1 L595.7,481.6 L597.5,479.1 L599.3,476.6 L601.1,474.1 L602.8,471.5 L604.5,469.0 L606.2,466.4 L607.9,463.8 L609.5,461.2 L611.1,458.5 L612.7,455.9 L614.3,453.2 L615.9,450.5 L617.4,447.8 L618.9,445.1 L620.4,442.4 L621.9,439.7 L623.3,436.9 L624.7,434.2 L626.2,431.4 L627.6,428.6 L629.0,425.9 L630.3,423.1 L631.7,420.3 L633.1,417.5 L634.4,414.7 L635.7,411.9 L637.1,409.1 L638.4,406.3 L639.7,403.4 L641.0,400.6 L642.3,397.8 L643.6,395.0 L644.8,392.1 L646.1,389.3 L647.4,386.5 L648.7,383.6 L649.9,380.8 L651.2,378.0 L652.5,375.2 L653.7,372.3 L655.0,369.5 L656.2,366.7 L657.5,363.8 L658.7,361.0 L660.0,358.2 L661.2,355.4 L662.5,352.5 L663.7,349.7 L665.0,346.9 L666.3,344.0 L667.5,341.2 L668.8,338.4 L670.0,335.6 L671.3,332.8 L672.6,329.9 L673.8,327.1 L675.1,324.3 L676.4,321.5 L677.7,318.7 L679.0,315.9 L680.2,313.1 L681.5,310.2 L682.9,307.4 L684.2,304.6 L685.5,301.8 L686.8,299.1 L688.1,296.3 L689.5,293.5 L690.8,290.7 L692.2,287.9 L693.6,285.1 L694.9,282.3 L696.3,279.6 L697.7,276.8 L699.1,274.0 L700.6,271.3 L702.0,268.5 L703.4,265.8 L704.9,263.1 L706.4,260.3 L707.8,257.6 L709.3,254.9 L710.8,252.2 L712.4,249.5 L713.9,246.8 L715.5,244.1 L717.0,241.4 L718.6,238.8 L720.2,236.1 L721.8,233.5 L723.4,230.9 L725.1,228.2 L726.7,225.6 L728.4,223.0 L730.1,220.5 L731.8,217.9 L733.6,215.3 L735.3,212.8 L737.1,210.2 L738.9,207.7 L740.7,205.2 L742.6,202.7 L744.4,200.3 L746.3,197.8 L748.2,195.4 L750.1,192.9 L752.1,190.5 L754.0,188.1 L756.0,185.7 L758.0,183.4 L760.0,181.0 L762.0,178.7 L764.1,176.4 L766.2,174.0 L768.3,171.7 L770.4,169.5 L772.5,167.2 L774.6,164.9 L776.8,162.7 L778.9,160.5 L781.1,158.3 L783.3,156.1 L785.5,153.9 L787.7,151.7 L789.9,149.5 L792.2,147.4 L794.4,145.2 L796.7,143.1 L798.9,141.0 L801.2,138.9 L803.5,136.8 L805.8,134.7 L808.1,132.6 L810.4,130.6 L812.7,128.5 L815.0,126.5 L817.3,124.4 L819.6,122.4 L821.9,120.4 L824.3,118.4 L826.6,116.4 L826.5,119.7 L826.3,122.9 L826.1,126.2 L825.8,129.5 L825.5,132.7 L825.2,136.0 L824.8,139.2 L824.4,142.5 L823.9,145.7 L823.5,148.9 L823.0,152.2 L822.4,155.4 L821.9,158.6 L821.3,161.8 L820.8,165.1 L820.2,168.3 L819.6,171.5 L819.0,174.7 L818.4,178.0 L817.8,181.2 L817.2,184.4 L816.6,187.6 L815.9,190.8 L815.3,194.1 L814.7,197.3 L814.1,200.5 L813.4,203.7 L812.8,206.9 L812.1,210.1 L811.4,213.3 L810.8,216.6 L810.1,219.8 L809.4,223.0 L808.7,226.2 L808.0,229.4 L807.2,232.6 L806.5,235.8 L805.8,239.0 L805.0,242.2 L804.3,245.4 L803.5,248.6 L802.7,251.7 L801.9,254.9 L801.1,258.1 L800.3,261.3 L799.5,264.5 L798.7,267.6 L797.8,270.8 L797.0,274.0 L796.1,277.1 L795.2,280.3 L794.3,283.4 L793.4,286.6 L792.5,289.7 L791.6,292.9 L790.6,296.0 L789.6,299.1 L788.7,302.3 L787.7,305.4 L786.7,308.5 L785.7,311.6 L784.6,314.7 L783.6,317.8 L782.5,320.9 L781.5,324.0 L780.4,327.1 L779.3,330.2 L778.2,333.3 L777.0,336.4 L775.9,339.4 L774.7,342.5 L773.5,345.5 L772.3,348.6 L771.1,351.6 L769.9,354.7 L768.6,357.7 L767.4,360.7 L766.1,363.8 L764.8,366.8 L763.5,369.8 L762.1,372.8 L760.8,375.8 L759.4,378.7 L758.0,381.7 L756.6,384.7 L755.2,387.6 L753.8,390.6 L752.3,393.5 L750.8,396.4 L749.3,399.3 L747.8,402.2 L746.3,405.1 L744.7,408.0 L743.1,410.9 L741.5,413.7 L739.9,416.6 L738.3,419.4 L736.6,422.3 L734.9,425.1 L733.2,427.9 L731.5,430.7 L729.7,433.4 L728.0,436.2 L726.2,438.9 L724.4,441.7 L722.5,444.4 L720.7,447.1 L718.8,449.8 L716.9,452.4 L715.0,455.1 L713.0,457.7 L711.1,460.4 L709.1,463.0 L707.1,465.5 L705.0,468.1 L703.0,470.7 L700.9,473.2 L698.8,475.7 L696.6,478.2 L694.4,480.7 L692.2,483.1 L690.0,485.5 L687.8,487.9 L685.5,490.2 L683.2,492.6 L680.8,494.9 L678.5,497.2 L676.1,499.4 L673.6,501.6 L671.2,503.8 L668.7,505.9 L666.1,508.0 L663.6,510.1 L661.0,512.1 L658.4,514.1 L655.7,516.1 L653.1,518.0 L650.4,519.9 L647.7,521.8 L644.9,523.6 L642.1,525.3 L639.3,527.0 L636.5,528.7 L633.7,530.3 L630.8,531.9 L627.9,533.4 L625.0,534.8 L622.1,536.3 L619.1,537.6 L616.1,538.9 L613.1,540.2 L610.1,541.4 L607.1,542.6 L604.0,543.7 L601.0,544.8 L597.9,545.8 L594.8,546.8 L591.7,547.7 L588.6,548.6 L585.4,549.5 L582.3,550.3 L579.1,551.1 L575.9,551.8 L572.7,552.5 L569.5,553.2 L566.3,553.8 L563.1,554.4 L559.9,555.0 L556.6,555.5 L553.4,556.0 L550.1,556.5 L546.9,557.0 L543.6,557.4 L540.3,557.8 L537.1,558.2 L533.8,558.5 L530.5,558.9 L527.2,559.2 L523.9,559.5 L520.6,559.8 L517.3,560.1 L514.0,560.3 L510.7,560.6 L507.4,560.8 L504.2,561.0 L500.9,561.2 L497.6,561.4 L494.3,561.6 L491.0,561.8 L487.7,561.9 L484.4,562.1 L481.1,562.2 L477.9,562.4 L474.6,562.5 L471.3,562.6 L468.0,562.8 L464.7,562.9 L461.5,563.0 L458.2,563.1 L454.9,563.2 L451.6,563.3 L448.4,563.3 L445.1,563.4 L441.8,563.5 L438.6,563.6 L435.3,563.6 L432.0,563.7 L428.8,563.7 L425.5,563.8 L422.2,563.8 L418.9,563.9 L415.7,563.9 L412.4,563.9 L409.1,564.0 L405.9,564.0 L402.6,564.0 L399.3,564.1 L396.1,564.1 L392.8,564.1 L389.5,564.2 L386.3,564.2 L383.0,564.2 L379.7,564.2 L376.4,564.3 L373.2,564.3 L369.9,564.3 L366.6,564.3 L363.4,564.4 L360.1,564.4 L356.8,564.4 L353.5,564.4 L350.3,564.5 L347.0,564.5 L343.7,564.5 L340.4,564.6 L337.1,564.6 L333.9,564.6 L330.6,564.6 L327.3,564.7 L324.0,564.7 L320.7,564.7 L317.5,564.7 L314.2,564.8 L310.9,564.8 L307.6,564.8 L304.3,564.8 L301.1,564.9 L297.8,564.9 L294.5,564.9 L291.2,565.0 L287.9,565.0 L284.6,565.0 L281.4,565.0 L278.1,565.0 L274.8,565.1 L271.5,565.1 L268.2,565.1 L264.9,565.1 L261.7,565.2 L258.4,565.2 L255.1,565.2 L251.8,565.2 L248.5,565.2 L245.2,565.3 L242.0,565.3 L238.7,565.3 L235.4,565.3 L232.1,565.3 L228.8,565.4 L225.5,565.4 L222.3,565.4 L219.0,565.4 L215.7,565.4 L212.4,565.4 L209.1,565.4 L205.9,565.5 L202.6,565.5 L199.3,565.5 L196.0,565.5 L192.7,565.5 L189.5,565.5 L186.2,565.5 L182.9,565.5 L179.6,565.5 L176.3,565.5 L173.1,565.5 L169.8,565.5 L166.5,565.5 L163.2,565.5 L160.0,565.5 L156.7,565.5 L153.4,565.5 L150.1,565.5 L146.9,565.5 L143.6,565.5 L140.3,565.5 L137.0,565.5 L133.8,565.5 L130.5,565.5" fill="none" stroke="#ff00ff" stroke-width="9.5" stroke-linejoin="round" stroke-linecap="round"/>
<path d="M130.5,562.5 L133.7,562.4 L136.9,562.3 L140.0,562.2 L143.2,562.1 L146.4,562.1 L149.6,562.0 L152.8,562.0 L156.0,561.9 L159.2,561.9 L162.4,561.8 L165.5,561.8 L168.7,561.8 L171.9,561.8 L175.1,561.8 L178.3,561.8 L181.5,561.8 L184.7,561.8 L187.9,561.8 L191.1,561.8 L194.3,561.8 L197.5,561.8 L200.7,561.8 L203.9,561.8 L207.0,561.8 L210.2,561.8 L213.4,561.8 L216.6,561.8 L219.8,561.8 L223.0,561.8 L226.2,561.8 L229.4,561.8 L232.6,561.8 L235.8,561.8 L239.0,561.7 L242.2,561.7 L245.4,561.7 L248.5,561.6 L251.7,561.6 L254.9,561.5 L258.1,561.5 L261.3,561.4 L264.5,561.3 L267.7,561.2 L270.9,561.1 L274.0,561.0 L277.2,560.9 L280.4,560.8 L283.6,560.7 L286.8,560.6 L289.9,560.4 L293.1,560.3 L296.3,560.2 L299.5,560.0 L302.7,559.9 L305.9,559.7 L309.0,559.5 L312.2,559.4 L315.4,559.2 L318.6,559.0 L321.8,558.8 L324.9,558.7 L328.1,558.5 L331.3,558.3 L334.5,558.1 L337.7,557.9 L340.8,557.7 L344.0,557.5 L347.2,557.3 L350.4,557.1 L353.6,556.9 L356.7,556.7 L359.9,556.5 L363.1,556.3 L366.3,556.1 L369.5,555.9 L372.7,555.7 L375.9,555.5 L379.0,555.3 L382.2,555.1 L385.4,554.9 L388.6,554.7 L391.8,554.5 L395.0,554.2 L398.2,554.0 L401.3,553.8 L404.5,553.6 L407.7,553.3 L410.9,553.1 L414.1,552.8 L417.3,552.5 L420.4,552.2 L423.6,551.9 L426.8,551.6 L430.0,551.3 L433.2,551.0 L436.3,550.6 L439.5,550.2 L442.7,549.9 L445.8,549.5 L449.0,549.0 L452.1,548.6 L455.3,548.1 L458.4,547.7 L461.6,547.2 L464.7,546.6 L467.9,546.1 L471.0,545.5 L474.2,544.9 L477.3,544.3 L480.4,543.6 L483.5,543.0 L486.6,542.3 L489.8,541.5 L492.9,540.8 L496.0,540.0 L499.1,539.2 L502.2,538.3 L505.2,537.4 L508.3,536.5 L511.3,535.5 L514.4,534.5 L517.4,533.4 L520.4,532.3 L523.4,531.2 L526.3,529.9 L529.2,528.7 L532.1,527.3 L534.9,525.9 L537.7,524.5 L540.5,522.9 L543.2,521.3 L545.8,519.7 L548.4,517.9 L551.0,516.1 L553.5,514.2 L556.0,512.2 L558.4,510.2 L560.8,508.1 L563.2,506.0 L565.5,503.8 L567.7,501.6 L569.9,499.3 L572.1,497.0 L574.3,494.6 L576.4,492.2 L578.4,489.8 L580.5,487.3 L582.5,484.8 L584.4,482.3 L586.4,479.7 L588.3,477.1 L590.1,474.5 L592.0,471.9 L593.8,469.3 L595.6,466.7 L597.3,464.0 L599.1,461.3 L600.8,458.6 L602.4,455.9 L604.1,453.2 L605.7,450.4 L607.3,447.7 L608.9,444.9 L610.5,442.1 L612.0,439.3 L613.5,436.5 L615.0,433.7 L616.5,430.9 L618.0,428.0 L619.4,425.2 L620.8,422.3 L622.2,419.5 L623.6,416.6 L625.0,413.7 L626.4,410.8 L627.7,407.9 L629.1,405.0 L630.4,402.1 L631.7,399.2 L633.0,396.3 L634.3,393.4 L635.6,390.4 L636.9,387.5 L638.2,384.6 L639.5,381.6 L640.7,378.7 L642.0,375.8 L643.3,372.8 L644.5,369.9 L645.8,367.0 L647.0,364.0 L648.3,361.1 L649.5,358.2 L650.7,355.2 L652.0,352.3 L653.2,349.4 L654.4,346.4 L655.7,343.5 L656.9,340.6 L658.2,337.6 L659.4,334.7 L660.6,331.8 L661.8,328.8 L663.1,325.9 L664.3,323.0 L665.5,320.0 L666.8,317.1 L668.0,314.2 L669.3,311.2 L670.5,308.3 L671.7,305.4 L673.0,302.5 L674.2,299.5 L675.5,296.6 L676.7,293.7 L678.0,290.8 L679.2,287.8 L680.5,284.9 L681.7,282.0 L683.0,279.1 L684.3,276.1 L685.6,273.2 L686.8,270.3 L688.1,267.4 L689.4,264.4 L690.7,261.5 L692.0,258.6 L693.3,255.7 L694.6,252.8 L695.9,249.8 L697.3,246.9 L698.6,244.0 L699.9,241.1 L701.3,238.2 L702.7,235.3 L704.0,232.4 L705.4,229.5 L706.8,226.7 L708.2,223.8 L709.7,220.9 L711.1,218.1 L712.6,215.2 L714.1,212.4 L715.5,209.6 L717.1,206.8 L718.6,204.0 L720.1,201.2 L721.7,198.4 L723.3,195.6 L724.9,192.9 L726.5,190.2 L728.2,187.4 L729.9,184.7 L731.6,182.1 L733.3,179.4 L735.0,176.8 L736.8,174.1 L738.6,171.5 L740.5,168.9 L742.3,166.4 L744.2,163.8 L746.1,161.3 L748.1,158.8 L750.0,156.3 L752.0,153.8 L754.1,151.4 L756.2,149.0 L758.3,146.6 L760.4,144.2 L762.5,141.8 L764.7,139.5 L766.9,137.2 L769.0,134.9 L771.3,132.5 L773.5,130.2 L775.7,128.0 L778.0,125.7 L780.2,123.4 L782.5,121.1 L784.7,118.8 L787.0,116.6 L789.2,114.3 L791.5,112.0 L793.7,109.7 L795.9,107.4 L798.2,105.1 L800.4,102.8 L802.6,100.5 L804.7,98.2 L806.9,95.8 L809.0,93.5 L811.2,91.1 L813.3,88.7 L815.3,86.3 L817.4,83.9 L819.4,81.4 L821.4,78.9 L823.3,76.4 L825.2,73.9 L824.8,77.2 L824.4,80.5 L824.0,83.8 L823.6,87.1 L823.1,90.5 L822.7,93.8 L822.3,97.1 L821.8,100.5 L821.4,103.8 L820.9,107.2 L820.5,110.5 L820.0,113.9 L819.5,117.2 L819.1,120.6 L818.6,123.9 L818.1,127.3 L817.6,130.6 L817.1,134.0 L816.6,137.4 L816.0,140.7 L815.5,144.0 L815.0,147.4 L814.4,150.7 L813.9,154.1 L813.3,157.4 L812.7,160.7 L812.2,164.1 L811.6,167.4 L811.0,170.7 L810.4,174.1 L809.8,177.4 L809.1,180.7 L808.5,184.0 L807.9,187.4 L807.2,190.7 L806.6,194.0 L805.9,197.3 L805.2,200.6 L804.5,204.0 L803.8,207.3 L803.1,210.6 L802.4,213.9 L801.7,217.2 L801.0,220.5 L800.2,223.8 L799.5,227.1 L798.7,230.5 L797.9,233.8 L797.1,237.1 L796.3,240.3 L795.5,243.6 L794.7,246.9 L793.8,250.2 L793.0,253.5 L792.1,256.8 L791.3,260.1 L790.4,263.3 L789.5,266.6 L788.6,269.9 L787.7,273.1 L786.7,276.4 L785.8,279.7 L784.9,282.9 L783.9,286.2 L782.9,289.4 L781.9,292.6 L780.9,295.9 L779.9,299.1 L778.8,302.3 L777.8,305.5 L776.7,308.7 L775.7,312.0 L774.6,315.2 L773.5,318.4 L772.4,321.5 L771.2,324.7 L770.1,327.9 L768.9,331.1 L767.7,334.2 L766.5,337.4 L765.3,340.6 L764.1,343.7 L762.9,346.9 L761.6,350.0 L760.3,353.1 L759.0,356.3 L757.7,359.4 L756.4,362.5 L755.1,365.6 L753.7,368.7 L752.3,371.8 L750.9,374.9 L749.5,378.0 L748.1,381.0 L746.6,384.1 L745.1,387.2 L743.6,390.2 L742.1,393.3 L740.6,396.3 L739.0,399.3 L737.4,402.3 L735.8,405.3 L734.2,408.3 L732.5,411.3 L730.8,414.2 L729.1,417.1 L727.3,420.0 L725.6,422.9 L723.8,425.8 L721.9,428.6 L720.1,431.4 L718.2,434.2 L716.2,437.0 L714.3,439.7 L712.3,442.5 L710.3,445.2 L708.2,447.8 L706.2,450.5 L704.1,453.1 L702.0,455.8 L699.9,458.4 L697.7,461.0 L695.5,463.6 L693.3,466.1 L691.1,468.7 L688.9,471.2 L686.6,473.8 L684.4,476.3 L682.1,478.8 L679.8,481.3 L677.5,483.9 L675.2,486.4 L672.9,488.9 L670.5,491.4 L668.2,493.9 L665.8,496.3 L663.4,498.8 L661.0,501.2 L658.6,503.6 L656.1,505.9 L653.6,508.2 L651.1,510.5 L648.6,512.7 L646.0,514.9 L643.4,517.1 L640.7,519.2 L638.0,521.2 L635.3,523.1 L632.5,525.0 L629.7,526.9 L626.8,528.6 L623.9,530.3 L621.0,532.0 L618.0,533.5 L615.0,535.0 L612.0,536.5 L608.9,537.9 L605.8,539.2 L602.7,540.4 L599.5,541.7 L596.3,542.8 L593.1,543.9 L589.9,544.9 L586.7,545.9 L583.4,546.9 L580.1,547.8 L576.9,548.6 L573.6,549.4 L570.3,550.2 L567.0,550.9 L563.6,551.5 L560.3,552.2 L557.0,552.7 L553.6,553.3 L550.3,553.8 L546.9,554.3 L543.6,554.7 L540.2,555.2 L536.8,555.6 L533.5,555.9 L530.1,556.3 L526.7,556.6 L523.3,556.9 L519.9,557.2 L516.6,557.5 L513.2,557.8 L509.8,558.1 L506.4,558.3 L503.0,558.6 L499.6,558.8 L496.3,559.0 L492.9,559.2 L489.5,559.4 L486.1,559.6 L482.7,559.8 L479.3,560.0 L476.0,560.2 L472.6,560.3 L469.2,560.5 L465.8,560.6 L462.4,560.8 L459.0,560.9 L455.7,561.1 L452.3,561.2 L448.9,561.3 L445.5,561.4 L442.1,561.5 L438.7,561.6 L435.3,561.7 L432.0,561.8 L428.6,561.9 L425.2,562.0 L421.8,562.1 L418.4,562.2 L415.0,562.2 L411.7,562.3 L408.3,562.4 L404.9,562.4 L401.5,562.5 L398.1,562.6 L394.7,562.6 L391.3,562.7 L388.0,562.8 L384.6,562.8 L381.2,562.9 L377.8,562.9 L374.4,563.0 L371.0,563.0 L367.6,563.1 L364.3,563.1 L360.9,563.2 L357.5,563.2 L354.1,563.3 L350.7,563.3 L347.3,563.4 L343.9,563.4 L340.5,563.4 L337.2,563.5 L333.8,563.5 L330.4,563.6 L327.0,563.6 L323.6,563.6 L320.2,563.7 L316.8,563.7 L313.4,563.8 L310.1,563.8 L306.7,563.8 L303.3,563.9 L299.9,563.9 L296.5,563.9 L293.1,564.0 L289.7,564.0 L286.3,564.0 L283.0,564.1 L279.6,564.1 L276.2,564.1 L272.8,564.2 L269.4,564.2 L266.0,564.2 L262.6,564.2 L259.2,564.3 L255.8,564.3 L252.5,564.3 L249.1,564.3 L245.7,564.4 L242.3,564.4 L238.9,564.4 L235.5,564.4 L232.1,564.5 L228.7,564.5 L225.3,564.5 L222.0,564.5 L218.6,564.5 L215.2,564.6 L211.8,564.6 L208.4,564.6 L205.0,564.6 L201.6,564.6 L198.2,564.7 L194.9,564.7 L191.5,564.7 L188.1,564.7 L184.7,564.7 L181.3,564.8 L177.9,564.8 L174.5,564.8 L171.1,564.8 L167.8,564.8 L164.4,564.8 L161.0,564.9 L157.6,564.9 L154.2,564.9 L150.8,564.9 L147.4,564.9 L144.0,564.9 L140.7,565.0 L137.3,565.0 L133.9,565.0 L130.5,565.0" fill="none" stroke="#008000" stroke-width="9.5" stroke-linejoin="round" stroke-linecap="round"/>
</g>
<line x1="129.20" y1="1.40" x2="129.20" y2="627.00" stroke="#000" stroke-width="3.0" stroke-linecap="butt"/>
<line x1="127.70" y1="625.50" x2="877.60" y2="625.50" stroke="#000" stroke-width="3.0" stroke-linecap="butt"/>
<line x1="129.20" y1="2.50" x2="877.60" y2="2.50" stroke="#000" stroke-width="2.2" stroke-linecap="butt"/>
<line x1="876.70" y1="2.50" x2="876.70" y2="625.50" stroke="#000" stroke-width="1.8" stroke-linecap="butt"/>
<line x1="116.70" y1="563.80" x2="129.20" y2="563.80" stroke="#000" stroke-width="3.0" stroke-linecap="round"/>
<line x1="116.70" y1="439.10" x2="129.20" y2="439.10" stroke="#000" stroke-width="3.0" stroke-linecap="round"/>
<line x1="116.70" y1="314.40" x2="129.20" y2="314.40" stroke="#000" stroke-width="3.0" stroke-linecap="round"/>
<line x1="116.70" y1="189.70" x2="129.20" y2="189.70" stroke="#000" stroke-width="3.0" stroke-linecap="round"/>
<line x1="116.70" y1="65.00" x2="129.20" y2="65.00" stroke="#000" stroke-width="3.0" stroke-linecap="round"/>
<line x1="122.20" y1="626.15" x2="129.20" y2="626.15" stroke="#000" stroke-width="3.0" stroke-linecap="round"/>
<line x1="122.20" y1="501.45" x2="129.20" y2="501.45" stroke="#000" stroke-width="3.0" stroke-linecap="round"/>
<line x1="122.20" y1="376.75" x2="129.20" y2="376.75" stroke="#000" stroke-width="3.0" stroke-linecap="round"/>
<line x1="122.20" y1="252.05" x2="129.20" y2="252.05" stroke="#000" stroke-width="3.0" stroke-linecap="round"/>
<line x1="122.20" y1="127.35" x2="129.20" y2="127.35" stroke="#000" stroke-width="3.0" stroke-linecap="round"/>
<line x1="122.20" y1="2.65" x2="129.20" y2="2.65" stroke="#000" stroke-width="3.0" stroke-linecap="round"/>
<line x1="206.00" y1="625.50" x2="206.00" y2="638.20" stroke="#000" stroke-width="3.0" stroke-linecap="round"/>
<line x1="412.12" y1="625.50" x2="412.12" y2="638.20" stroke="#000" stroke-width="3.0" stroke-linecap="round"/>
<line x1="618.24" y1="625.50" x2="618.24" y2="638.20" stroke="#000" stroke-width="3.0" stroke-linecap="round"/>
<line x1="824.36" y1="625.50" x2="824.36" y2="638.20" stroke="#000" stroke-width="3.0" stroke-linecap="round"/>
<line x1="309.06" y1="625.50" x2="309.06" y2="632.50" stroke="#000" stroke-width="3.0" stroke-linecap="round"/>
<line x1="515.18" y1="625.50" x2="515.18" y2="632.50" stroke="#000" stroke-width="3.0" stroke-linecap="round"/>
<line x1="721.30" y1="625.50" x2="721.30" y2="632.50" stroke="#000" stroke-width="3.0" stroke-linecap="round"/>
<text transform="translate(107.60,575.20) scale(1.0,1.04)" font-family="'Liberation Serif', 'Times New Roman', serif" font-size="36.4" font-weight="bold" font-style="normal" text-anchor="end" >0</text>
<text transform="translate(107.60,450.50) scale(1.0,1.04)" font-family="'Liberation Serif', 'Times New Roman', serif" font-size="36.4" font-weight="bold" font-style="normal" text-anchor="end" >200</text>
<text transform="translate(107.60,325.80) scale(1.0,1.04)" font-family="'Liberation Serif', 'Times New Roman', serif" font-size="36.4" font-weight="bold" font-style="normal" text-anchor="end" >400</text>
<text transform="translate(107.60,201.10) scale(1.0,1.04)" font-family="'Liberation Serif', 'Times New Roman', serif" font-size="36.4" font-weight="bold" font-style="normal" text-anchor="end" >600</text>
<text transform="translate(107.60,76.40) scale(1.0,1.04)" font-family="'Liberation Serif', 'Times New Roman', serif" font-size="36.4" font-weight="bold" font-style="normal" text-anchor="end" >800</text>
<text transform="translate(206.40,675.40) scale(1.0,1.065)" font-family="'Liberation Serif', 'Times New Roman', serif" font-size="36" font-weight="bold" font-style="normal" text-anchor="middle" >0.4</text>
<text transform="translate(412.52,675.40) scale(1.0,1.065)" font-family="'Liberation Serif', 'Times New Roman', serif" font-size="36" font-weight="bold" font-style="normal" text-anchor="middle" >0.8</text>
<text transform="translate(618.64,675.40) scale(1.0,1.065)" font-family="'Liberation Serif', 'Times New Roman', serif" font-size="36" font-weight="bold" font-style="normal" text-anchor="middle" >1.2</text>
<text transform="translate(824.76,675.40) scale(1.0,1.065)" font-family="'Liberation Serif', 'Times New Roman', serif" font-size="36" font-weight="bold" font-style="normal" text-anchor="middle" >1.6</text>
<text transform="translate(503.00,709.90) scale(1.0,1.05)" font-family="'Liberation Serif', 'Times New Roman', serif" font-size="35.5" font-weight="bold" font-style="normal" text-anchor="middle" >Potential (V) <tspan font-style="italic">vs</tspan>. Ag/AgCl (3 M KCl)</text>
<text transform="translate(35.4,358) rotate(-90)" font-family="'Liberation Serif', 'Times New Roman', serif" font-size="45" font-weight="bold" text-anchor="start">I <tspan font-weight="normal" font-size="37">(</tspan><tspan font-weight="normal" font-size="42" dx="2.5">μ</tspan><tspan font-family="'Liberation Sans', Arial, sans-serif" font-size="40" dx="1.2">A</tspan><tspan font-weight="normal" font-size="37">)</tspan></text>
<text x="159.80" y="53.30" font-family="'Liberation Sans', Arial, sans-serif" font-size="44" font-weight="bold" font-style="normal" text-anchor="start" >(a)</text>
<text transform="translate(730.00,50.60) scale(1.0,1.03)" font-family="'Liberation Serif', 'Times New Roman', serif" font-size="35.5" font-weight="bold" font-style="normal" text-anchor="start" >LNCP</text>
<line x1="156.55" y1="140.10" x2="236.35" y2="140.10" stroke="#000000" stroke-width="9.3" stroke-linecap="round"/>
<text transform="translate(246.50,152.80) scale(1.0,1.02)" font-family="'Liberation Serif', 'Times New Roman', serif" font-size="36" font-weight="bold" font-style="normal" text-anchor="start" >20 <tspan font-weight="normal">°</tspan>C</text>
<line x1="156.55" y1="186.00" x2="236.35" y2="186.00" stroke="#ff0000" stroke-width="9.3" stroke-linecap="round"/>
<text transform="translate(246.50,198.70) scale(1.0,1.02)" font-family="'Liberation Serif', 'Times New Roman', serif" font-size="36" font-weight="bold" font-style="normal" text-anchor="start" >25 <tspan font-weight="normal">°</tspan>C</text>
<line x1="156.55" y1="231.60" x2="236.35" y2="231.60" stroke="#0000ff" stroke-width="9.3" stroke-linecap="round"/>
<text transform="translate(246.50,244.30) scale(1.0,1.02)" font-family="'Liberation Serif', 'Times New Roman', serif" font-size="36" font-weight="bold" font-style="normal" text-anchor="start" >30 <tspan font-weight="normal">°</tspan>C</text>
<line x1="156.55" y1="277.10" x2="236.35" y2="277.10" stroke="#ff00ff" stroke-width="9.3" stroke-linecap="round"/>
<text transform="translate(246.50,289.80) scale(1.0,1.02)" font-family="'Liberation Serif', 'Times New Roman', serif" font-size="36" font-weight="bold" font-style="normal" text-anchor="start" >35 <tspan font-weight="normal">°</tspan>C</text>
<line x1="156.55" y1="322.70" x2="236.35" y2="322.70" stroke="#008000" stroke-width="9.3" stroke-linecap="round"/>
<text transform="translate(246.50,335.40) scale(1.0,1.02)" font-family="'Liberation Serif', 'Times New Roman', serif" font-size="36" font-weight="bold" font-style="normal" text-anchor="start" >40 <tspan font-weight="normal">°</tspan>C</text>
<text transform="translate(281.00,505.80) scale(1.0,1.05)" font-family="'Liberation Serif', 'Times New Roman', serif" font-size="30" font-weight="bold" font-style="normal" text-anchor="start" >Scan direction</text>
<line x1="274.00" y1="519.40" x2="443.00" y2="519.40" stroke="#000" stroke-width="3.6" stroke-linecap="round"/>
<polygon points="442.00,514.15 461.00,519.40 442.00,524.65" fill="#000" stroke="#000" stroke-width="1" stroke-linejoin="round"/>
<clipPath id="clp2"><rect x="1015.2" y="3.8" width="749.2" height="610.7"/></clipPath>
<g clip-path="url(#clp2)">
<path d="M1016.0,592.5 L1019.2,592.5 L1022.3,592.5 L1025.5,592.4 L1028.6,592.4 L1031.8,592.4 L1034.9,592.4 L1038.1,592.3 L1041.3,592.3 L1044.4,592.2 L1047.6,592.2 L1050.7,592.1 L1053.9,592.1 L1057.1,592.0 L1060.2,591.9 L1063.4,591.9 L1066.5,591.8 L1069.7,591.7 L1072.9,591.7 L1076.0,591.6 L1079.2,591.5 L1082.3,591.4 L1085.5,591.3 L1088.6,591.2 L1091.8,591.1 L1095.0,591.0 L1098.1,590.9 L1101.3,590.8 L1104.4,590.7 L1107.6,590.5 L1110.7,590.4 L1113.9,590.3 L1117.1,590.2 L1120.2,590.0 L1123.4,589.9 L1126.5,589.8 L1129.7,589.6 L1132.8,589.5 L1136.0,589.3 L1139.2,589.2 L1142.3,589.0 L1145.5,588.8 L1148.6,588.7 L1151.8,588.5 L1154.9,588.3 L1158.1,588.2 L1161.3,588.0 L1164.4,587.8 L1167.6,587.6 L1170.7,587.4 L1173.9,587.2 L1177.0,587.0 L1180.2,586.8 L1183.3,586.6 L1186.5,586.4 L1189.6,586.2 L1192.8,586.0 L1195.9,585.8 L1199.1,585.6 L1202.2,585.3 L1205.4,585.1 L1208.5,584.9 L1211.7,584.7 L1214.8,584.4 L1218.0,584.2 L1221.1,583.9 L1224.3,583.7 L1227.4,583.4 L1230.6,583.2 L1233.7,582.9 L1236.9,582.7 L1240.0,582.4 L1243.2,582.1 L1246.3,581.9 L1249.5,581.6 L1252.6,581.3 L1255.8,581.0 L1258.9,580.8 L1262.1,580.5 L1265.2,580.2 L1268.3,579.9 L1271.5,579.6 L1274.6,579.2 L1277.8,578.9 L1280.9,578.6 L1284.0,578.2 L1287.2,577.8 L1290.3,577.4 L1293.4,576.9 L1296.5,576.4 L1299.6,575.9 L1302.7,575.4 L1305.8,574.8 L1308.9,574.2 L1312.0,573.6 L1315.1,572.9 L1318.2,572.2 L1321.3,571.5 L1324.3,570.7 L1327.4,569.9 L1330.4,569.1 L1333.5,568.2 L1336.6,567.4 L1339.7,566.7 L1342.7,565.9 L1345.8,565.2 L1348.9,564.4 L1352.0,563.8 L1355.1,563.1 L1358.2,562.3 L1361.3,561.6 L1364.3,560.8 L1367.3,559.9 L1370.3,559.0 L1373.3,558.0 L1376.2,556.9 L1379.1,555.7 L1381.9,554.4 L1384.7,553.0 L1387.5,551.6 L1390.2,550.1 L1392.9,548.5 L1395.6,546.9 L1398.2,545.1 L1400.8,543.4 L1403.3,541.5 L1405.9,539.6 L1408.3,537.7 L1410.8,535.7 L1413.2,533.7 L1415.6,531.6 L1417.9,529.5 L1420.2,527.3 L1422.5,525.1 L1424.8,522.9 L1427.0,520.7 L1429.1,518.4 L1431.3,516.0 L1433.4,513.7 L1435.5,511.3 L1437.5,508.9 L1439.6,506.5 L1441.6,504.0 L1443.5,501.5 L1445.5,499.0 L1447.4,496.5 L1449.2,494.0 L1451.1,491.4 L1452.9,488.8 L1454.7,486.2 L1456.5,483.6 L1458.2,481.0 L1459.9,478.3 L1461.6,475.6 L1463.3,473.0 L1464.9,470.3 L1466.6,467.6 L1468.2,464.9 L1469.7,462.1 L1471.3,459.4 L1472.9,456.7 L1474.4,453.9 L1475.9,451.1 L1477.4,448.4 L1478.8,445.6 L1480.3,442.8 L1481.7,440.0 L1483.2,437.1 L1484.6,434.3 L1486.0,431.5 L1487.3,428.6 L1488.7,425.8 L1490.1,423.0 L1491.4,420.1 L1492.8,417.2 L1494.1,414.4 L1495.4,411.5 L1496.8,408.6 L1498.1,405.7 L1499.4,402.9 L1500.7,400.0 L1502.0,397.1 L1503.3,394.2 L1504.6,391.3 L1505.9,388.4 L1507.2,385.5 L1508.5,382.6 L1509.7,379.8 L1511.0,376.9 L1512.3,374.0 L1513.6,371.1 L1514.9,368.2 L1516.2,365.3 L1517.5,362.4 L1518.8,359.6 L1520.1,356.7 L1521.4,353.8 L1522.7,350.9 L1524.0,348.0 L1525.4,345.2 L1526.7,342.3 L1528.0,339.4 L1529.3,336.6 L1530.7,333.7 L1532.0,330.8 L1533.3,328.0 L1534.7,325.1 L1536.0,322.3 L1537.4,319.4 L1538.7,316.6 L1540.1,313.7 L1541.4,310.9 L1542.8,308.0 L1544.2,305.2 L1545.6,302.3 L1547.0,299.5 L1548.4,296.7 L1549.8,293.8 L1551.2,291.0 L1552.6,288.2 L1554.0,285.4 L1555.4,282.6 L1556.9,279.7 L1558.3,276.9 L1559.7,274.1 L1561.2,271.3 L1562.7,268.5 L1564.1,265.7 L1565.6,262.9 L1567.1,260.2 L1568.6,257.4 L1570.1,254.6 L1571.6,251.8 L1573.1,249.0 L1574.6,246.2 L1576.1,243.5 L1577.6,240.7 L1579.2,237.9 L1580.7,235.2 L1582.2,232.4 L1583.7,229.6 L1585.3,226.9 L1586.8,224.1 L1588.3,221.3 L1589.9,218.6 L1591.4,215.8 L1593.0,213.1 L1594.5,210.3 L1596.0,207.5 L1597.6,204.8 L1599.1,202.0 L1600.7,199.3 L1602.2,196.5 L1603.7,193.7 L1605.3,191.0 L1606.8,188.2 L1608.3,185.4 L1609.9,182.7 L1611.4,179.9 L1612.9,177.1 L1614.4,174.3 L1615.9,171.6 L1617.4,168.8 L1618.9,166.0 L1620.4,163.2 L1621.9,160.4 L1623.4,157.6 L1624.9,154.9 L1626.3,152.1 L1627.8,149.3 L1629.2,146.5 L1630.7,143.7 L1632.1,140.8 L1633.6,138.0 L1635.0,135.2 L1636.4,132.4 L1637.8,129.6 L1639.2,126.7 L1640.6,123.9 L1641.9,121.0 L1643.3,118.2 L1644.6,115.3 L1646.0,112.5 L1647.3,109.6 L1648.6,106.8 L1649.9,103.9 L1651.2,101.0 L1652.5,98.1 L1653.7,95.2 L1655.0,92.3 L1656.2,89.4 L1657.4,86.5 L1658.6,83.6 L1659.8,80.6 L1661.0,77.7 L1662.1,74.8 L1663.3,71.8 L1664.4,68.8 L1665.5,65.9 L1666.6,62.9 L1666.3,66.3 L1666.1,69.6 L1665.8,73.0 L1665.5,76.4 L1665.1,79.8 L1664.8,83.1 L1664.5,86.5 L1664.1,89.9 L1663.7,93.3 L1663.3,96.6 L1662.9,100.0 L1662.5,103.4 L1662.1,106.8 L1661.7,110.2 L1661.3,113.6 L1660.8,116.9 L1660.4,120.3 L1660.0,123.7 L1659.6,127.1 L1659.1,130.5 L1658.7,133.9 L1658.3,137.3 L1657.9,140.6 L1657.4,144.0 L1657.0,147.4 L1656.6,150.8 L1656.1,154.2 L1655.7,157.6 L1655.3,161.0 L1654.8,164.4 L1654.4,167.8 L1653.9,171.1 L1653.5,174.5 L1653.0,177.9 L1652.6,181.3 L1652.1,184.7 L1651.6,188.1 L1651.1,191.5 L1650.6,194.8 L1650.2,198.2 L1649.7,201.6 L1649.2,205.0 L1648.6,208.4 L1648.1,211.8 L1647.6,215.1 L1647.1,218.5 L1646.5,221.9 L1646.0,225.3 L1645.4,228.7 L1644.9,232.0 L1644.3,235.4 L1643.8,238.8 L1643.2,242.1 L1642.6,245.5 L1642.0,248.9 L1641.4,252.3 L1640.8,255.6 L1640.2,259.0 L1639.6,262.4 L1638.9,265.7 L1638.3,269.1 L1637.7,272.4 L1637.0,275.8 L1636.3,279.1 L1635.7,282.5 L1635.0,285.9 L1634.3,289.2 L1633.6,292.5 L1632.9,295.9 L1632.2,299.2 L1631.5,302.6 L1630.8,305.9 L1630.1,309.3 L1629.3,312.6 L1628.6,315.9 L1627.8,319.2 L1627.0,322.6 L1626.3,325.9 L1625.5,329.2 L1624.7,332.5 L1623.9,335.9 L1623.0,339.2 L1622.2,342.5 L1621.4,345.8 L1620.5,349.1 L1619.6,352.4 L1618.8,355.7 L1617.9,359.0 L1616.9,362.2 L1616.0,365.5 L1615.1,368.8 L1614.1,372.1 L1613.1,375.3 L1612.2,378.6 L1611.1,381.9 L1610.1,385.1 L1609.1,388.3 L1608.0,391.6 L1606.9,394.8 L1605.8,398.0 L1604.7,401.3 L1603.5,404.5 L1602.4,407.7 L1601.2,410.9 L1600.0,414.1 L1598.7,417.3 L1597.5,420.5 L1596.2,423.6 L1594.9,426.8 L1593.6,429.9 L1592.2,433.1 L1590.9,436.2 L1589.5,439.4 L1588.0,442.5 L1586.6,445.6 L1585.1,448.7 L1583.6,451.8 L1582.0,454.9 L1580.5,458.0 L1578.9,461.0 L1577.3,464.0 L1575.6,467.1 L1573.9,470.1 L1572.2,473.0 L1570.5,476.0 L1568.7,478.9 L1566.9,481.9 L1565.1,484.7 L1563.2,487.6 L1561.3,490.5 L1559.3,493.3 L1557.4,496.1 L1555.4,498.8 L1553.3,501.6 L1551.3,504.3 L1549.1,507.0 L1547.0,509.6 L1544.8,512.2 L1542.6,514.8 L1540.3,517.3 L1538.0,519.8 L1535.7,522.3 L1533.3,524.7 L1530.9,527.1 L1528.5,529.5 L1526.0,531.8 L1523.4,534.0 L1520.9,536.3 L1518.3,538.5 L1515.6,540.6 L1512.9,542.7 L1510.2,544.7 L1507.4,546.7 L1504.6,548.7 L1501.7,550.6 L1498.9,552.4 L1495.9,554.2 L1493.0,555.9 L1490.0,557.6 L1487.0,559.3 L1484.0,560.8 L1480.9,562.4 L1477.8,563.8 L1474.7,565.2 L1471.5,566.6 L1468.4,567.8 L1465.2,569.0 L1462.0,570.2 L1458.7,571.3 L1455.5,572.3 L1452.2,573.3 L1448.9,574.2 L1445.7,575.0 L1442.3,575.8 L1439.0,576.6 L1435.7,577.3 L1432.3,577.9 L1429.0,578.5 L1425.6,579.1 L1422.3,579.6 L1418.9,580.1 L1415.5,580.6 L1412.1,581.1 L1408.7,581.5 L1405.3,581.9 L1401.9,582.3 L1398.5,582.7 L1395.1,583.0 L1391.7,583.3 L1388.3,583.7 L1384.9,584.0 L1381.5,584.3 L1378.1,584.6 L1374.7,584.9 L1371.2,585.1 L1367.8,585.4 L1364.4,585.6 L1361.0,585.9 L1357.6,586.1 L1354.2,586.3 L1350.8,586.5 L1347.4,586.7 L1344.0,586.9 L1340.5,587.1 L1337.1,587.3 L1333.7,587.5 L1330.3,587.6 L1326.9,587.8 L1323.5,587.9 L1320.1,588.1 L1316.7,588.2 L1313.2,588.4 L1309.8,588.5 L1306.4,588.6 L1303.0,588.8 L1299.6,588.9 L1296.2,589.0 L1292.7,589.1 L1289.3,589.2 L1285.9,589.3 L1282.5,589.4 L1279.1,589.5 L1275.7,589.7 L1272.2,589.8 L1268.8,589.9 L1265.4,590.0 L1262.0,590.1 L1258.6,590.2 L1255.2,590.3 L1251.8,590.4 L1248.3,590.5 L1244.9,590.6 L1241.5,590.7 L1238.1,590.8 L1234.7,590.9 L1231.3,591.0 L1227.8,591.1 L1224.4,591.2 L1221.0,591.3 L1217.6,591.3 L1214.2,591.4 L1210.8,591.5 L1207.3,591.6 L1203.9,591.7 L1200.5,591.8 L1197.1,591.9 L1193.7,592.0 L1190.3,592.1 L1186.8,592.2 L1183.4,592.3 L1180.0,592.3 L1176.6,592.4 L1173.2,592.5 L1169.8,592.6 L1166.3,592.7 L1162.9,592.8 L1159.5,592.8 L1156.1,592.9 L1152.7,593.0 L1149.3,593.1 L1145.9,593.2 L1142.4,593.2 L1139.0,593.3 L1135.6,593.4 L1132.2,593.5 L1128.8,593.5 L1125.4,593.6 L1121.9,593.7 L1118.5,593.8 L1115.1,593.8 L1111.7,593.9 L1108.3,594.0 L1104.9,594.0 L1101.4,594.1 L1098.0,594.2 L1094.6,594.2 L1091.2,594.3 L1087.8,594.4 L1084.3,594.4 L1080.9,594.5 L1077.5,594.6 L1074.1,594.6 L1070.7,594.7 L1067.3,594.7 L1063.8,594.8 L1060.4,594.8 L1057.0,594.9 L1053.6,595.0 L1050.2,595.0 L1046.8,595.1 L1043.3,595.1 L1039.9,595.2 L1036.5,595.2 L1033.1,595.3 L1029.7,595.3 L1026.3,595.4 L1022.8,595.4 L1019.4,595.5 L1016.0,595.5" fill="none" stroke="#ff0000" stroke-width="8.8" stroke-linejoin="round" stroke-linecap="round"/>
<path d="M1016.0,592.8 L1019.0,592.8 L1022.0,592.8 L1025.0,592.8 L1028.1,592.7 L1031.1,592.7 L1034.1,592.7 L1037.1,592.7 L1040.1,592.6 L1043.1,592.6 L1046.1,592.5 L1049.1,592.5 L1052.2,592.5 L1055.2,592.4 L1058.2,592.4 L1061.2,592.3 L1064.2,592.3 L1067.2,592.2 L1070.2,592.1 L1073.3,592.1 L1076.3,592.0 L1079.3,591.9 L1082.3,591.9 L1085.3,591.8 L1088.3,591.7 L1091.3,591.6 L1094.3,591.5 L1097.4,591.5 L1100.4,591.4 L1103.4,591.3 L1106.4,591.2 L1109.4,591.1 L1112.4,591.0 L1115.4,590.9 L1118.4,590.8 L1121.5,590.7 L1124.5,590.6 L1127.5,590.5 L1130.5,590.4 L1133.5,590.2 L1136.5,590.1 L1139.5,590.0 L1142.5,589.9 L1145.6,589.8 L1148.6,589.6 L1151.6,589.5 L1154.6,589.4 L1157.6,589.2 L1160.6,589.1 L1163.6,589.0 L1166.6,588.8 L1169.6,588.7 L1172.7,588.5 L1175.7,588.4 L1178.7,588.2 L1181.7,588.1 L1184.7,587.9 L1187.7,587.8 L1190.7,587.6 L1193.7,587.5 L1196.7,587.3 L1199.7,587.1 L1202.8,587.0 L1205.8,586.8 L1208.8,586.6 L1211.8,586.5 L1214.8,586.3 L1217.8,586.1 L1220.8,585.9 L1223.8,585.8 L1226.8,585.6 L1229.8,585.4 L1232.8,585.2 L1235.8,585.0 L1238.9,584.8 L1241.9,584.6 L1244.9,584.5 L1247.9,584.3 L1250.9,584.1 L1253.9,583.9 L1256.9,583.7 L1259.9,583.4 L1262.9,583.2 L1265.9,583.0 L1268.9,582.7 L1271.9,582.5 L1274.9,582.2 L1277.9,581.9 L1280.9,581.6 L1283.9,581.3 L1286.9,581.0 L1289.9,580.6 L1292.8,580.2 L1295.8,579.8 L1298.8,579.4 L1301.8,578.9 L1304.7,578.5 L1307.7,577.9 L1310.7,577.4 L1313.6,576.9 L1316.6,576.3 L1319.6,575.7 L1322.5,575.1 L1325.5,574.5 L1328.4,573.9 L1331.4,573.2 L1334.3,572.6 L1337.3,571.9 L1340.2,571.3 L1343.2,570.6 L1346.1,569.9 L1349.1,569.2 L1352.0,568.5 L1355.0,567.9 L1357.9,567.2 L1360.8,566.5 L1363.8,565.8 L1366.7,565.1 L1369.6,564.3 L1372.5,563.6 L1375.4,562.7 L1378.2,561.8 L1381.0,560.9 L1383.8,559.9 L1386.6,558.8 L1389.3,557.6 L1392.0,556.4 L1394.7,555.1 L1397.3,553.7 L1399.9,552.3 L1402.5,550.8 L1405.1,549.2 L1407.6,547.6 L1410.1,545.9 L1412.5,544.2 L1414.9,542.4 L1417.3,540.5 L1419.7,538.7 L1422.0,536.7 L1424.3,534.7 L1426.6,532.7 L1428.8,530.7 L1431.0,528.6 L1433.2,526.4 L1435.3,524.3 L1437.4,522.1 L1439.5,519.8 L1441.5,517.6 L1443.5,515.3 L1445.5,513.0 L1447.4,510.6 L1449.3,508.3 L1451.2,505.9 L1453.1,503.5 L1454.9,501.1 L1456.7,498.7 L1458.4,496.3 L1460.1,493.8 L1461.8,491.3 L1463.5,488.8 L1465.2,486.3 L1466.8,483.8 L1468.4,481.3 L1470.0,478.7 L1471.5,476.2 L1473.1,473.6 L1474.6,471.0 L1476.1,468.4 L1477.6,465.8 L1479.0,463.2 L1480.4,460.5 L1481.9,457.9 L1483.3,455.2 L1484.7,452.6 L1486.0,449.9 L1487.4,447.2 L1488.8,444.5 L1490.1,441.8 L1491.4,439.1 L1492.8,436.4 L1494.1,433.7 L1495.4,431.0 L1496.6,428.3 L1497.9,425.5 L1499.2,422.8 L1500.5,420.1 L1501.8,417.3 L1503.0,414.6 L1504.3,411.8 L1505.5,409.1 L1506.8,406.3 L1508.0,403.6 L1509.3,400.8 L1510.6,398.1 L1511.8,395.4 L1513.1,392.6 L1514.3,389.9 L1515.6,387.1 L1516.8,384.4 L1518.1,381.6 L1519.3,378.9 L1520.6,376.1 L1521.9,373.4 L1523.2,370.7 L1524.4,367.9 L1525.7,365.2 L1527.0,362.5 L1528.3,359.7 L1529.6,357.0 L1530.9,354.3 L1532.2,351.6 L1533.6,348.9 L1534.9,346.2 L1536.2,343.5 L1537.6,340.8 L1539.0,338.1 L1540.3,335.4 L1541.7,332.8 L1543.1,330.1 L1544.5,327.4 L1545.9,324.8 L1547.4,322.1 L1548.8,319.5 L1550.3,316.8 L1551.7,314.2 L1553.2,311.6 L1554.7,309.0 L1556.2,306.4 L1557.8,303.8 L1559.3,301.2 L1560.9,298.7 L1562.4,296.1 L1564.0,293.5 L1565.6,291.0 L1567.2,288.4 L1568.8,285.9 L1570.5,283.3 L1572.1,280.8 L1573.8,278.3 L1575.4,275.8 L1577.1,273.2 L1578.7,270.7 L1580.4,268.2 L1582.1,265.7 L1583.8,263.2 L1585.5,260.7 L1587.1,258.2 L1588.8,255.7 L1590.5,253.2 L1592.2,250.7 L1593.9,248.2 L1595.6,245.7 L1597.3,243.2 L1599.0,240.8 L1600.7,238.3 L1602.4,235.8 L1604.1,233.3 L1605.8,230.8 L1607.5,228.3 L1609.2,225.8 L1610.9,223.3 L1612.6,220.8 L1614.2,218.3 L1615.9,215.8 L1617.6,213.2 L1619.2,210.7 L1620.9,208.2 L1622.5,205.7 L1624.1,203.1 L1625.7,200.6 L1627.3,198.0 L1628.9,195.5 L1630.5,192.9 L1632.1,190.4 L1633.6,187.8 L1635.2,185.2 L1636.7,182.6 L1638.2,180.0 L1639.7,177.4 L1641.2,174.8 L1642.7,172.2 L1644.1,169.6 L1645.5,166.9 L1647.0,164.3 L1648.4,161.6 L1649.7,158.9 L1651.1,156.3 L1652.4,153.6 L1653.7,150.9 L1655.0,148.1 L1656.3,145.4 L1657.5,142.7 L1658.8,139.9 L1660.0,137.1 L1661.1,134.3 L1662.3,131.5 L1663.4,128.7 L1664.5,125.9 L1665.6,123.1 L1666.6,120.2 L1666.5,123.4 L1666.3,126.7 L1666.0,129.9 L1665.7,133.1 L1665.3,136.3 L1664.9,139.6 L1664.5,142.8 L1664.0,146.0 L1663.4,149.2 L1662.9,152.4 L1662.3,155.7 L1661.8,158.9 L1661.2,162.1 L1660.6,165.3 L1660.1,168.5 L1659.5,171.8 L1659.0,175.0 L1658.5,178.2 L1658.0,181.5 L1657.5,184.7 L1657.1,188.0 L1656.7,191.2 L1656.3,194.5 L1655.9,197.7 L1655.5,201.0 L1655.2,204.2 L1654.8,207.5 L1654.5,210.7 L1654.1,214.0 L1653.8,217.3 L1653.5,220.5 L1653.1,223.8 L1652.8,227.0 L1652.4,230.3 L1652.1,233.6 L1651.8,236.8 L1651.4,240.1 L1651.0,243.3 L1650.6,246.6 L1650.3,249.8 L1649.9,253.1 L1649.5,256.3 L1649.0,259.6 L1648.6,262.8 L1648.2,266.1 L1647.7,269.3 L1647.3,272.6 L1646.8,275.8 L1646.3,279.0 L1645.8,282.3 L1645.3,285.5 L1644.8,288.7 L1644.3,292.0 L1643.8,295.2 L1643.3,298.4 L1642.7,301.7 L1642.1,304.9 L1641.6,308.1 L1641.0,311.3 L1640.4,314.5 L1639.8,317.8 L1639.2,321.0 L1638.5,324.2 L1637.9,327.4 L1637.2,330.6 L1636.6,333.8 L1635.9,337.0 L1635.2,340.2 L1634.5,343.4 L1633.8,346.6 L1633.1,349.8 L1632.3,353.0 L1631.6,356.2 L1630.8,359.4 L1630.1,362.6 L1629.3,365.8 L1628.5,368.9 L1627.7,372.1 L1626.9,375.3 L1626.0,378.5 L1625.2,381.6 L1624.3,384.8 L1623.4,387.9 L1622.5,391.1 L1621.6,394.2 L1620.6,397.4 L1619.6,400.5 L1618.7,403.6 L1617.7,406.8 L1616.6,409.9 L1615.6,413.0 L1614.5,416.1 L1613.4,419.1 L1612.3,422.2 L1611.2,425.3 L1610.0,428.3 L1608.8,431.4 L1607.6,434.4 L1606.4,437.5 L1605.1,440.5 L1603.8,443.5 L1602.5,446.5 L1601.2,449.5 L1599.8,452.4 L1598.4,455.4 L1597.0,458.3 L1595.5,461.3 L1594.0,464.2 L1592.5,467.1 L1590.9,470.0 L1589.4,472.9 L1587.7,475.7 L1586.1,478.6 L1584.4,481.4 L1582.7,484.2 L1580.9,487.0 L1579.1,489.8 L1577.3,492.5 L1575.5,495.3 L1573.6,498.0 L1571.7,500.6 L1569.7,503.3 L1567.7,505.9 L1565.7,508.5 L1563.6,511.1 L1561.6,513.6 L1559.4,516.1 L1557.3,518.6 L1555.1,521.0 L1552.9,523.4 L1550.6,525.8 L1548.3,528.1 L1546.0,530.4 L1543.6,532.6 L1541.2,534.8 L1538.8,536.9 L1536.3,539.0 L1533.8,541.1 L1531.3,543.1 L1528.7,545.1 L1526.1,547.0 L1523.4,548.9 L1520.7,550.7 L1518.0,552.5 L1515.3,554.2 L1512.5,555.8 L1509.7,557.4 L1506.8,558.9 L1503.9,560.4 L1501.0,561.8 L1498.0,563.2 L1495.0,564.5 L1492.0,565.8 L1489.0,567.0 L1485.9,568.1 L1482.8,569.2 L1479.7,570.3 L1476.5,571.3 L1473.4,572.2 L1470.2,573.1 L1467.0,574.0 L1463.8,574.8 L1460.6,575.6 L1457.4,576.4 L1454.2,577.1 L1450.9,577.8 L1447.7,578.4 L1444.4,579.1 L1441.2,579.6 L1438.0,580.2 L1434.7,580.7 L1431.5,581.2 L1428.2,581.7 L1425.0,582.1 L1421.8,582.6 L1418.5,583.0 L1415.3,583.4 L1412.0,583.7 L1408.8,584.1 L1405.5,584.4 L1402.3,584.7 L1399.0,585.0 L1395.8,585.3 L1392.5,585.6 L1389.3,585.8 L1386.0,586.1 L1382.7,586.3 L1379.5,586.6 L1376.2,586.8 L1373.0,587.0 L1369.7,587.2 L1366.4,587.4 L1363.2,587.7 L1359.9,587.8 L1356.6,588.0 L1353.4,588.2 L1350.1,588.4 L1346.8,588.6 L1343.6,588.7 L1340.3,588.9 L1337.0,589.1 L1333.7,589.2 L1330.5,589.4 L1327.2,589.5 L1323.9,589.6 L1320.7,589.8 L1317.4,589.9 L1314.1,590.0 L1310.8,590.1 L1307.6,590.3 L1304.3,590.4 L1301.0,590.5 L1297.7,590.6 L1294.4,590.7 L1291.2,590.8 L1287.9,590.9 L1284.6,591.0 L1281.3,591.1 L1278.1,591.2 L1274.8,591.3 L1271.5,591.4 L1268.2,591.5 L1264.9,591.6 L1261.7,591.6 L1258.4,591.7 L1255.1,591.8 L1251.8,591.9 L1248.6,592.0 L1245.3,592.0 L1242.0,592.1 L1238.7,592.2 L1235.5,592.3 L1232.2,592.4 L1228.9,592.4 L1225.6,592.5 L1222.4,592.6 L1219.1,592.6 L1215.8,592.7 L1212.5,592.8 L1209.2,592.8 L1206.0,592.9 L1202.7,593.0 L1199.4,593.0 L1196.1,593.1 L1192.9,593.2 L1189.6,593.2 L1186.3,593.3 L1183.0,593.4 L1179.8,593.4 L1176.5,593.5 L1173.2,593.5 L1169.9,593.6 L1166.7,593.7 L1163.4,593.7 L1160.1,593.8 L1156.9,593.8 L1153.6,593.9 L1150.3,593.9 L1147.0,594.0 L1143.8,594.1 L1140.5,594.1 L1137.2,594.2 L1133.9,594.2 L1130.7,594.3 L1127.4,594.3 L1124.1,594.4 L1120.8,594.4 L1117.6,594.5 L1114.3,594.5 L1111.0,594.6 L1107.7,594.6 L1104.5,594.7 L1101.2,594.7 L1097.9,594.8 L1094.6,594.8 L1091.4,594.9 L1088.1,594.9 L1084.8,595.0 L1081.5,595.0 L1078.3,595.1 L1075.0,595.1 L1071.7,595.2 L1068.4,595.2 L1065.2,595.3 L1061.9,595.3 L1058.6,595.4 L1055.3,595.4 L1052.0,595.5 L1048.8,595.5 L1045.5,595.5 L1042.2,595.6 L1038.9,595.6 L1035.7,595.7 L1032.4,595.7 L1029.1,595.8 L1025.8,595.8 L1022.6,595.9 L1019.3,595.9 L1016.0,596.0" fill="none" stroke="#0000ff" stroke-width="8.8" stroke-linejoin="round" stroke-linecap="round"/>
<path d="M1016.0,593.0 L1018.8,593.0 L1021.7,593.0 L1024.5,593.0 L1027.4,593.0 L1030.2,593.0 L1033.1,593.0 L1035.9,593.0 L1038.8,593.0 L1041.6,593.0 L1044.5,593.0 L1047.3,592.9 L1050.2,592.9 L1053.0,592.9 L1055.9,592.8 L1058.7,592.8 L1061.5,592.8 L1064.4,592.7 L1067.2,592.7 L1070.1,592.6 L1072.9,592.6 L1075.8,592.5 L1078.6,592.4 L1081.5,592.4 L1084.3,592.3 L1087.1,592.2 L1090.0,592.2 L1092.8,592.1 L1095.7,592.0 L1098.5,591.9 L1101.4,591.9 L1104.2,591.8 L1107.0,591.7 L1109.9,591.6 L1112.7,591.5 L1115.6,591.4 L1118.4,591.3 L1121.3,591.2 L1124.1,591.1 L1126.9,591.0 L1129.8,590.9 L1132.6,590.9 L1135.5,590.7 L1138.3,590.6 L1141.2,590.5 L1144.0,590.4 L1146.8,590.3 L1149.7,590.2 L1152.5,590.1 L1155.4,590.0 L1158.2,589.9 L1161.1,589.8 L1163.9,589.7 L1166.7,589.6 L1169.6,589.5 L1172.4,589.4 L1175.3,589.3 L1178.1,589.2 L1181.0,589.0 L1183.8,588.9 L1186.7,588.8 L1189.5,588.7 L1192.3,588.6 L1195.2,588.5 L1198.0,588.4 L1200.9,588.3 L1203.7,588.2 L1206.6,588.1 L1209.4,588.0 L1212.3,587.9 L1215.1,587.8 L1218.0,587.7 L1220.8,587.6 L1223.7,587.5 L1226.5,587.4 L1229.4,587.3 L1232.2,587.2 L1235.1,587.1 L1237.9,587.0 L1240.8,586.9 L1243.6,586.8 L1246.5,586.7 L1249.3,586.6 L1252.1,586.5 L1255.0,586.4 L1257.8,586.2 L1260.7,586.1 L1263.5,585.9 L1266.3,585.7 L1269.2,585.6 L1272.0,585.3 L1274.8,585.1 L1277.7,584.8 L1280.5,584.6 L1283.3,584.3 L1286.1,583.9 L1288.9,583.6 L1291.7,583.2 L1294.5,582.8 L1297.3,582.3 L1300.1,581.9 L1302.9,581.4 L1305.7,580.9 L1308.5,580.4 L1311.3,579.9 L1314.1,579.3 L1316.8,578.8 L1319.6,578.2 L1322.4,577.7 L1325.2,577.2 L1328.0,576.6 L1330.8,576.1 L1333.6,575.6 L1336.4,575.0 L1339.2,574.5 L1342.0,574.0 L1344.9,573.5 L1347.7,573.0 L1350.5,572.5 L1353.3,572.0 L1356.1,571.5 L1358.9,571.0 L1361.7,570.5 L1364.5,569.9 L1367.3,569.3 L1370.1,568.7 L1372.9,568.0 L1375.6,567.4 L1378.4,566.6 L1381.1,565.9 L1383.8,565.1 L1386.5,564.2 L1389.2,563.3 L1391.9,562.3 L1394.5,561.3 L1397.1,560.2 L1399.7,559.1 L1402.3,557.9 L1404.9,556.7 L1407.4,555.4 L1409.9,554.1 L1412.4,552.7 L1414.8,551.2 L1417.3,549.7 L1419.7,548.2 L1422.0,546.6 L1424.4,545.0 L1426.7,543.4 L1428.9,541.7 L1431.2,539.9 L1433.4,538.2 L1435.6,536.3 L1437.7,534.5 L1439.8,532.6 L1441.9,530.7 L1443.9,528.7 L1445.9,526.8 L1447.9,524.8 L1449.8,522.7 L1451.7,520.6 L1453.6,518.6 L1455.5,516.4 L1457.3,514.3 L1459.1,512.1 L1460.9,509.9 L1462.6,507.7 L1464.4,505.4 L1466.1,503.2 L1467.8,500.9 L1469.4,498.6 L1471.0,496.2 L1472.7,493.9 L1474.3,491.5 L1475.8,489.1 L1477.4,486.7 L1478.9,484.3 L1480.5,481.9 L1482.0,479.5 L1483.5,477.0 L1484.9,474.6 L1486.4,472.1 L1487.8,469.6 L1489.3,467.1 L1490.7,464.6 L1492.1,462.1 L1493.5,459.6 L1494.9,457.1 L1496.3,454.6 L1497.7,452.1 L1499.1,449.6 L1500.4,447.0 L1501.8,444.5 L1503.1,442.0 L1504.5,439.5 L1505.8,436.9 L1507.2,434.4 L1508.5,431.9 L1509.8,429.4 L1511.2,426.9 L1512.5,424.3 L1513.8,421.8 L1515.2,419.3 L1516.5,416.8 L1517.8,414.3 L1519.1,411.8 L1520.5,409.3 L1521.8,406.8 L1523.2,404.3 L1524.5,401.8 L1525.9,399.3 L1527.2,396.8 L1528.6,394.3 L1529.9,391.8 L1531.3,389.3 L1532.7,386.9 L1534.1,384.4 L1535.5,381.9 L1536.9,379.5 L1538.3,377.0 L1539.7,374.6 L1541.2,372.1 L1542.6,369.7 L1544.1,367.3 L1545.5,364.9 L1547.0,362.4 L1548.5,360.0 L1550.0,357.6 L1551.6,355.3 L1553.1,352.9 L1554.7,350.5 L1556.2,348.1 L1557.8,345.8 L1559.4,343.4 L1561.0,341.1 L1562.6,338.7 L1564.3,336.4 L1565.9,334.1 L1567.5,331.7 L1569.2,329.4 L1570.9,327.1 L1572.5,324.8 L1574.2,322.5 L1575.9,320.2 L1577.6,317.9 L1579.3,315.6 L1581.0,313.3 L1582.7,311.1 L1584.5,308.8 L1586.2,306.5 L1587.9,304.3 L1589.7,302.0 L1591.4,299.7 L1593.1,297.5 L1594.9,295.2 L1596.6,293.0 L1598.4,290.7 L1600.1,288.5 L1601.9,286.2 L1603.7,284.0 L1605.4,281.7 L1607.2,279.5 L1608.9,277.3 L1610.7,275.0 L1612.5,272.8 L1614.2,270.5 L1616.0,268.3 L1617.7,266.1 L1619.5,263.8 L1621.2,261.6 L1623.0,259.3 L1624.7,257.1 L1626.4,254.8 L1628.1,252.6 L1629.8,250.3 L1631.5,248.0 L1633.2,245.7 L1634.8,243.4 L1636.5,241.1 L1638.1,238.8 L1639.7,236.5 L1641.3,234.1 L1642.8,231.7 L1644.3,229.4 L1645.8,226.9 L1647.3,224.5 L1648.8,222.1 L1650.2,219.6 L1651.6,217.1 L1653.0,214.6 L1654.3,212.1 L1655.7,209.6 L1657.0,207.1 L1658.3,204.5 L1659.6,202.0 L1660.8,199.4 L1662.1,196.8 L1663.3,194.3 L1664.5,191.7 L1665.7,189.1 L1666.9,186.5 L1667.0,189.6 L1667.0,192.7 L1666.9,195.8 L1666.9,198.9 L1666.8,202.0 L1666.6,205.1 L1666.4,208.2 L1666.2,211.3 L1666.0,214.4 L1665.7,217.5 L1665.4,220.5 L1665.1,223.6 L1664.7,226.7 L1664.3,229.7 L1663.9,232.8 L1663.5,235.9 L1663.0,238.9 L1662.5,242.0 L1662.0,245.0 L1661.5,248.1 L1661.0,251.1 L1660.4,254.2 L1659.9,257.2 L1659.3,260.3 L1658.7,263.3 L1658.1,266.3 L1657.5,269.4 L1656.9,272.4 L1656.3,275.5 L1655.7,278.5 L1655.1,281.5 L1654.4,284.6 L1653.8,287.6 L1653.2,290.7 L1652.6,293.7 L1652.0,296.7 L1651.3,299.8 L1650.7,302.8 L1650.1,305.9 L1649.6,308.9 L1649.0,311.9 L1648.4,315.0 L1647.8,318.0 L1647.3,321.1 L1646.7,324.1 L1646.2,327.2 L1645.6,330.2 L1645.0,333.2 L1644.5,336.3 L1643.9,339.3 L1643.4,342.4 L1642.8,345.4 L1642.2,348.4 L1641.7,351.5 L1641.1,354.5 L1640.5,357.5 L1639.9,360.6 L1639.3,363.6 L1638.7,366.6 L1638.1,369.7 L1637.5,372.7 L1636.8,375.7 L1636.2,378.7 L1635.5,381.7 L1634.8,384.7 L1634.1,387.7 L1633.4,390.7 L1632.7,393.7 L1631.9,396.7 L1631.1,399.7 L1630.3,402.7 L1629.5,405.7 L1628.7,408.7 L1627.8,411.6 L1626.9,414.6 L1626.0,417.6 L1625.1,420.5 L1624.1,423.5 L1623.1,426.4 L1622.1,429.4 L1621.1,432.3 L1620.0,435.2 L1618.9,438.1 L1617.8,441.0 L1616.6,443.9 L1615.4,446.8 L1614.2,449.7 L1613.0,452.5 L1611.7,455.4 L1610.4,458.2 L1609.1,461.0 L1607.7,463.8 L1606.3,466.6 L1604.9,469.4 L1603.5,472.1 L1602.0,474.9 L1600.5,477.6 L1599.0,480.3 L1597.4,483.0 L1595.8,485.7 L1594.2,488.3 L1592.5,490.9 L1590.8,493.5 L1589.1,496.1 L1587.4,498.7 L1585.6,501.2 L1583.8,503.7 L1581.9,506.2 L1580.0,508.7 L1578.1,511.1 L1576.2,513.5 L1574.2,515.9 L1572.2,518.2 L1570.1,520.6 L1568.0,522.9 L1565.9,525.1 L1563.8,527.4 L1561.6,529.6 L1559.4,531.7 L1557.2,533.9 L1554.9,536.0 L1552.6,538.0 L1550.3,540.1 L1547.9,542.1 L1545.5,544.0 L1543.1,545.9 L1540.6,547.8 L1538.1,549.7 L1535.6,551.5 L1533.1,553.2 L1530.5,554.9 L1528.0,556.6 L1525.3,558.2 L1522.7,559.8 L1520.0,561.3 L1517.4,562.8 L1514.6,564.2 L1511.9,565.6 L1509.1,566.9 L1506.3,568.2 L1503.5,569.4 L1500.7,570.6 L1497.9,571.7 L1495.0,572.8 L1492.1,573.8 L1489.2,574.7 L1486.2,575.6 L1483.3,576.5 L1480.3,577.2 L1477.3,577.9 L1474.2,578.6 L1471.2,579.2 L1468.2,579.7 L1465.1,580.2 L1462.0,580.7 L1458.9,581.1 L1455.8,581.5 L1452.7,581.9 L1449.6,582.2 L1446.5,582.5 L1443.3,582.8 L1440.2,583.0 L1437.1,583.3 L1434.0,583.5 L1430.8,583.7 L1427.7,583.9 L1424.6,584.1 L1421.5,584.4 L1418.3,584.6 L1415.2,584.8 L1412.1,585.0 L1409.0,585.3 L1405.9,585.5 L1402.9,585.7 L1399.8,586.0 L1396.7,586.2 L1393.6,586.4 L1390.5,586.7 L1387.4,586.9 L1384.4,587.1 L1381.3,587.3 L1378.2,587.6 L1375.1,587.8 L1372.1,588.0 L1369.0,588.2 L1365.9,588.4 L1362.8,588.6 L1359.7,588.8 L1356.7,589.0 L1353.6,589.2 L1350.5,589.3 L1347.4,589.5 L1344.3,589.7 L1341.2,589.8 L1338.1,590.0 L1335.0,590.1 L1332.0,590.3 L1328.9,590.4 L1325.8,590.6 L1322.7,590.7 L1319.6,590.8 L1316.5,590.9 L1313.4,591.1 L1310.3,591.2 L1307.2,591.3 L1304.1,591.4 L1301.0,591.5 L1297.9,591.6 L1294.8,591.7 L1291.7,591.8 L1288.6,591.9 L1285.5,592.0 L1282.4,592.1 L1279.3,592.2 L1276.2,592.3 L1273.1,592.4 L1270.0,592.5 L1266.9,592.5 L1263.8,592.6 L1260.7,592.7 L1257.6,592.8 L1254.5,592.8 L1251.4,592.9 L1248.3,593.0 L1245.2,593.1 L1242.1,593.1 L1239.0,593.2 L1235.9,593.3 L1232.8,593.3 L1229.7,593.4 L1226.6,593.5 L1223.5,593.5 L1220.4,593.6 L1217.3,593.7 L1214.2,593.7 L1211.1,593.8 L1208.0,593.8 L1204.9,593.9 L1201.8,594.0 L1198.7,594.0 L1195.6,594.1 L1192.6,594.1 L1189.5,594.2 L1186.4,594.2 L1183.3,594.3 L1180.2,594.4 L1177.1,594.4 L1174.0,594.5 L1170.9,594.5 L1167.8,594.6 L1164.7,594.6 L1161.6,594.7 L1158.5,594.7 L1155.4,594.7 L1152.3,594.8 L1149.2,594.8 L1146.1,594.9 L1143.0,594.9 L1139.9,595.0 L1136.8,595.0 L1133.7,595.1 L1130.6,595.1 L1127.5,595.1 L1124.4,595.2 L1121.3,595.2 L1118.2,595.3 L1115.1,595.3 L1112.0,595.4 L1108.9,595.4 L1105.8,595.4 L1102.7,595.5 L1099.6,595.5 L1096.6,595.5 L1093.5,595.6 L1090.4,595.6 L1087.3,595.7 L1084.2,595.7 L1081.1,595.7 L1078.0,595.8 L1074.9,595.8 L1071.8,595.8 L1068.7,595.9 L1065.6,595.9 L1062.5,596.0 L1059.4,596.0 L1056.3,596.0 L1053.2,596.1 L1050.1,596.1 L1047.0,596.1 L1043.9,596.2 L1040.8,596.2 L1037.7,596.2 L1034.6,596.3 L1031.5,596.3 L1028.4,596.4 L1025.3,596.4 L1022.2,596.4 L1019.1,596.5 L1016.0,596.5" fill="none" stroke="#ff00ff" stroke-width="8.8" stroke-linejoin="round" stroke-linecap="round"/>
<path d="M1016.0,593.0 L1018.7,593.0 L1021.5,593.0 L1024.2,593.0 L1026.9,593.0 L1029.6,593.0 L1032.4,593.0 L1035.1,593.0 L1037.8,593.0 L1040.6,593.0 L1043.3,593.0 L1046.0,593.0 L1048.7,592.9 L1051.5,592.9 L1054.2,592.9 L1056.9,592.9 L1059.6,592.8 L1062.4,592.8 L1065.1,592.8 L1067.8,592.8 L1070.6,592.7 L1073.3,592.7 L1076.0,592.6 L1078.7,592.6 L1081.5,592.6 L1084.2,592.5 L1086.9,592.5 L1089.6,592.4 L1092.4,592.4 L1095.1,592.3 L1097.8,592.3 L1100.5,592.2 L1103.3,592.1 L1106.0,592.1 L1108.7,592.0 L1111.4,592.0 L1114.2,591.9 L1116.9,591.8 L1119.6,591.8 L1122.4,591.7 L1125.1,591.6 L1127.8,591.6 L1130.5,591.5 L1133.3,591.4 L1136.0,591.4 L1138.7,591.3 L1141.4,591.2 L1144.2,591.1 L1146.9,591.1 L1149.6,591.0 L1152.3,590.9 L1155.1,590.8 L1157.8,590.8 L1160.5,590.7 L1163.2,590.6 L1166.0,590.5 L1168.7,590.4 L1171.4,590.4 L1174.1,590.3 L1176.9,590.2 L1179.6,590.1 L1182.3,590.0 L1185.1,590.0 L1187.8,589.9 L1190.5,589.8 L1193.2,589.7 L1196.0,589.6 L1198.7,589.6 L1201.4,589.5 L1204.1,589.4 L1206.9,589.3 L1209.6,589.2 L1212.3,589.1 L1215.1,589.1 L1217.8,589.0 L1220.5,588.9 L1223.2,588.8 L1226.0,588.7 L1228.7,588.7 L1231.4,588.6 L1234.2,588.5 L1236.9,588.4 L1239.6,588.3 L1242.3,588.2 L1245.1,588.1 L1247.8,588.0 L1250.5,587.9 L1253.2,587.8 L1256.0,587.7 L1258.7,587.5 L1261.4,587.4 L1264.1,587.2 L1266.9,587.1 L1269.6,586.9 L1272.3,586.7 L1275.0,586.5 L1277.7,586.3 L1280.4,586.1 L1283.1,585.9 L1285.9,585.7 L1288.6,585.4 L1291.3,585.1 L1294.0,584.8 L1296.7,584.5 L1299.4,584.2 L1302.1,583.9 L1304.8,583.5 L1307.5,583.2 L1310.2,582.8 L1312.9,582.4 L1315.6,581.9 L1318.2,581.5 L1320.9,581.0 L1323.6,580.5 L1326.3,580.0 L1329.0,579.5 L1331.6,578.9 L1334.3,578.4 L1337.0,577.8 L1339.7,577.3 L1342.3,576.8 L1345.0,576.2 L1347.7,575.7 L1350.4,575.3 L1353.1,574.8 L1355.7,574.4 L1358.4,574.0 L1361.1,573.5 L1363.8,573.1 L1366.5,572.7 L1369.2,572.2 L1371.8,571.7 L1374.5,571.2 L1377.2,570.7 L1379.9,570.1 L1382.5,569.5 L1385.2,568.9 L1387.9,568.2 L1390.5,567.5 L1393.1,566.8 L1395.8,566.0 L1398.4,565.2 L1401.0,564.4 L1403.5,563.5 L1406.1,562.6 L1408.7,561.6 L1411.2,560.6 L1413.7,559.6 L1416.2,558.5 L1418.6,557.3 L1421.1,556.1 L1423.5,554.9 L1425.9,553.6 L1428.3,552.3 L1430.6,550.9 L1432.9,549.5 L1435.2,548.0 L1437.5,546.5 L1439.7,544.9 L1441.9,543.4 L1444.1,541.7 L1446.3,540.1 L1448.4,538.4 L1450.5,536.6 L1452.6,534.8 L1454.6,533.0 L1456.6,531.2 L1458.6,529.3 L1460.5,527.4 L1462.4,525.5 L1464.3,523.5 L1466.1,521.5 L1467.9,519.4 L1469.7,517.4 L1471.5,515.3 L1473.2,513.2 L1474.9,511.1 L1476.5,508.9 L1478.2,506.7 L1479.8,504.6 L1481.4,502.3 L1483.0,500.1 L1484.6,497.9 L1486.1,495.6 L1487.6,493.3 L1489.1,491.1 L1490.6,488.8 L1492.1,486.5 L1493.6,484.2 L1495.0,481.8 L1496.4,479.5 L1497.9,477.2 L1499.3,474.8 L1500.7,472.5 L1502.1,470.1 L1503.4,467.8 L1504.8,465.4 L1506.2,463.0 L1507.5,460.7 L1508.9,458.3 L1510.2,455.9 L1511.6,453.5 L1512.9,451.2 L1514.2,448.8 L1515.6,446.4 L1516.9,444.0 L1518.2,441.6 L1519.6,439.2 L1520.9,436.8 L1522.2,434.5 L1523.6,432.1 L1524.9,429.7 L1526.2,427.3 L1527.6,424.9 L1528.9,422.6 L1530.3,420.2 L1531.7,417.8 L1533.0,415.5 L1534.4,413.1 L1535.8,410.8 L1537.2,408.5 L1538.6,406.1 L1540.0,403.8 L1541.4,401.5 L1542.9,399.2 L1544.3,396.9 L1545.8,394.6 L1547.3,392.3 L1548.8,390.0 L1550.3,387.8 L1551.8,385.5 L1553.4,383.3 L1554.9,381.0 L1556.4,378.8 L1558.0,376.6 L1559.6,374.3 L1561.2,372.1 L1562.8,369.9 L1564.4,367.7 L1566.0,365.5 L1567.6,363.4 L1569.3,361.2 L1570.9,359.0 L1572.6,356.8 L1574.2,354.7 L1575.9,352.5 L1577.6,350.4 L1579.3,348.3 L1581.0,346.1 L1582.7,344.0 L1584.4,341.9 L1586.1,339.8 L1587.8,337.6 L1589.6,335.5 L1591.3,333.4 L1593.1,331.3 L1594.8,329.2 L1596.6,327.2 L1598.3,325.1 L1600.1,323.0 L1601.9,320.9 L1603.7,318.9 L1605.5,316.8 L1607.3,314.7 L1609.0,312.7 L1610.8,310.6 L1612.6,308.6 L1614.4,306.5 L1616.2,304.5 L1618.0,302.4 L1619.8,300.4 L1621.6,298.3 L1623.4,296.2 L1625.2,294.2 L1627.0,292.1 L1628.7,290.0 L1630.5,288.0 L1632.3,285.9 L1634.0,283.8 L1635.7,281.7 L1637.5,279.6 L1639.2,277.5 L1640.9,275.4 L1642.6,273.2 L1644.2,271.1 L1645.9,268.9 L1647.5,266.7 L1649.2,264.6 L1650.8,262.4 L1652.3,260.1 L1653.9,257.9 L1655.4,255.7 L1657.0,253.4 L1658.5,251.1 L1659.9,248.8 L1661.4,246.5 L1662.8,244.1 L1664.2,241.8 L1665.6,239.4 L1666.9,237.0 L1666.5,239.9 L1666.2,242.9 L1665.8,245.8 L1665.4,248.7 L1665.0,251.7 L1664.7,254.6 L1664.3,257.5 L1663.9,260.5 L1663.5,263.4 L1663.1,266.3 L1662.7,269.3 L1662.3,272.2 L1661.9,275.2 L1661.5,278.1 L1661.1,281.0 L1660.7,284.0 L1660.2,286.9 L1659.8,289.8 L1659.4,292.8 L1658.9,295.7 L1658.5,298.7 L1658.1,301.6 L1657.6,304.5 L1657.2,307.5 L1656.7,310.4 L1656.2,313.3 L1655.8,316.3 L1655.3,319.2 L1654.8,322.1 L1654.4,325.0 L1653.9,328.0 L1653.4,330.9 L1652.9,333.8 L1652.4,336.8 L1651.9,339.7 L1651.4,342.6 L1650.9,345.5 L1650.4,348.5 L1649.8,351.4 L1649.3,354.3 L1648.8,357.2 L1648.2,360.1 L1647.7,363.1 L1647.1,366.0 L1646.6,368.9 L1646.0,371.8 L1645.4,374.7 L1644.8,377.6 L1644.2,380.5 L1643.6,383.4 L1642.9,386.3 L1642.3,389.2 L1641.6,392.1 L1640.9,394.9 L1640.2,397.8 L1639.5,400.7 L1638.8,403.6 L1638.1,406.4 L1637.3,409.3 L1636.5,412.1 L1635.7,415.0 L1634.9,417.8 L1634.1,420.7 L1633.2,423.5 L1632.4,426.3 L1631.5,429.1 L1630.5,431.9 L1629.6,434.7 L1628.6,437.5 L1627.7,440.3 L1626.6,443.1 L1625.6,445.9 L1624.5,448.6 L1623.4,451.4 L1622.3,454.1 L1621.2,456.9 L1620.0,459.6 L1618.8,462.3 L1617.6,465.0 L1616.3,467.7 L1615.0,470.4 L1613.7,473.1 L1612.4,475.7 L1611.0,478.4 L1609.6,481.0 L1608.2,483.6 L1606.7,486.2 L1605.2,488.8 L1603.7,491.4 L1602.1,493.9 L1600.6,496.5 L1599.0,499.0 L1597.3,501.5 L1595.7,503.9 L1594.0,506.4 L1592.3,508.8 L1590.5,511.2 L1588.7,513.6 L1586.9,516.0 L1585.1,518.3 L1583.2,520.6 L1581.3,522.9 L1579.4,525.2 L1577.4,527.4 L1575.4,529.6 L1573.4,531.8 L1571.3,534.0 L1569.2,536.1 L1567.1,538.2 L1565.0,540.2 L1562.8,542.3 L1560.6,544.3 L1558.3,546.2 L1556.1,548.1 L1553.8,550.0 L1551.4,551.9 L1549.1,553.7 L1546.7,555.5 L1544.3,557.2 L1541.8,558.8 L1539.3,560.4 L1536.8,562.0 L1534.3,563.5 L1531.7,564.9 L1529.1,566.3 L1526.5,567.6 L1523.8,568.9 L1521.2,570.1 L1518.5,571.2 L1515.7,572.2 L1513.0,573.2 L1510.2,574.1 L1507.4,574.9 L1504.6,575.6 L1501.8,576.3 L1498.9,577.0 L1496.0,577.6 L1493.1,578.1 L1490.2,578.6 L1487.3,579.1 L1484.4,579.5 L1481.4,579.9 L1478.5,580.3 L1475.6,580.6 L1472.6,581.0 L1469.6,581.3 L1466.7,581.6 L1463.7,581.9 L1460.7,582.2 L1457.8,582.5 L1454.8,582.7 L1451.9,583.0 L1448.9,583.3 L1445.9,583.6 L1443.0,583.8 L1440.0,584.1 L1437.0,584.4 L1434.1,584.6 L1431.1,584.9 L1428.2,585.1 L1425.2,585.3 L1422.2,585.6 L1419.3,585.8 L1416.3,586.0 L1413.3,586.3 L1410.4,586.5 L1407.4,586.7 L1404.5,586.9 L1401.5,587.1 L1398.5,587.3 L1395.6,587.5 L1392.6,587.7 L1389.6,587.9 L1386.7,588.1 L1383.7,588.3 L1380.7,588.5 L1377.8,588.7 L1374.8,588.8 L1371.9,589.0 L1368.9,589.2 L1365.9,589.3 L1363.0,589.5 L1360.0,589.7 L1357.0,589.8 L1354.1,590.0 L1351.1,590.1 L1348.2,590.3 L1345.2,590.4 L1342.2,590.6 L1339.3,590.7 L1336.3,590.8 L1333.3,591.0 L1330.4,591.1 L1327.4,591.2 L1324.4,591.3 L1321.5,591.5 L1318.5,591.6 L1315.5,591.7 L1312.6,591.8 L1309.6,591.9 L1306.7,592.0 L1303.7,592.1 L1300.7,592.2 L1297.8,592.3 L1294.8,592.4 L1291.8,592.5 L1288.9,592.6 L1285.9,592.7 L1282.9,592.8 L1280.0,592.9 L1277.0,593.0 L1274.0,593.0 L1271.1,593.1 L1268.1,593.2 L1265.1,593.3 L1262.2,593.4 L1259.2,593.4 L1256.3,593.5 L1253.3,593.6 L1250.3,593.6 L1247.4,593.7 L1244.4,593.8 L1241.4,593.8 L1238.5,593.9 L1235.5,593.9 L1232.5,594.0 L1229.6,594.0 L1226.6,594.1 L1223.6,594.2 L1220.7,594.2 L1217.7,594.3 L1214.7,594.3 L1211.8,594.3 L1208.8,594.4 L1205.8,594.4 L1202.9,594.5 L1199.9,594.5 L1197.0,594.6 L1194.0,594.6 L1191.0,594.6 L1188.1,594.7 L1185.1,594.7 L1182.1,594.8 L1179.2,594.8 L1176.2,594.8 L1173.2,594.9 L1170.3,594.9 L1167.3,594.9 L1164.3,595.0 L1161.4,595.0 L1158.4,595.0 L1155.4,595.1 L1152.5,595.1 L1149.5,595.1 L1146.5,595.2 L1143.6,595.2 L1140.6,595.2 L1137.6,595.3 L1134.7,595.3 L1131.7,595.3 L1128.7,595.3 L1125.8,595.4 L1122.8,595.4 L1119.8,595.4 L1116.9,595.5 L1113.9,595.5 L1110.9,595.5 L1108.0,595.5 L1105.0,595.6 L1102.0,595.6 L1099.1,595.6 L1096.1,595.7 L1093.1,595.7 L1090.2,595.7 L1087.2,595.8 L1084.2,595.8 L1081.3,595.8 L1078.3,595.9 L1075.3,595.9 L1072.4,595.9 L1069.4,596.0 L1066.4,596.0 L1063.5,596.0 L1060.5,596.1 L1057.5,596.1 L1054.6,596.2 L1051.6,596.2 L1048.6,596.3 L1045.7,596.3 L1042.7,596.3 L1039.7,596.4 L1036.8,596.4 L1033.8,596.5 L1030.8,596.5 L1027.9,596.6 L1024.9,596.6 L1021.9,596.7 L1019.0,596.7 L1016.0,596.8" fill="none" stroke="#008000" stroke-width="8.8" stroke-linejoin="round" stroke-linecap="round"/>
<path d="M1016.0,593.0 L1018.6,593.0 L1021.2,593.0 L1023.9,593.0 L1026.5,593.0 L1029.1,593.0 L1031.7,592.9 L1034.3,592.9 L1037.0,592.9 L1039.6,592.9 L1042.2,592.9 L1044.8,592.9 L1047.5,592.9 L1050.1,592.9 L1052.7,592.8 L1055.3,592.8 L1057.9,592.8 L1060.6,592.8 L1063.2,592.8 L1065.8,592.8 L1068.4,592.7 L1071.1,592.7 L1073.7,592.7 L1076.3,592.7 L1078.9,592.7 L1081.6,592.6 L1084.2,592.6 L1086.8,592.6 L1089.4,592.6 L1092.0,592.5 L1094.7,592.5 L1097.3,592.5 L1099.9,592.5 L1102.5,592.4 L1105.2,592.4 L1107.8,592.4 L1110.4,592.3 L1113.0,592.3 L1115.7,592.3 L1118.3,592.2 L1120.9,592.2 L1123.5,592.2 L1126.2,592.1 L1128.8,592.1 L1131.4,592.1 L1134.0,592.0 L1136.6,592.0 L1139.3,591.9 L1141.9,591.9 L1144.5,591.8 L1147.1,591.8 L1149.8,591.7 L1152.4,591.7 L1155.0,591.6 L1157.6,591.6 L1160.3,591.5 L1162.9,591.5 L1165.5,591.4 L1168.1,591.4 L1170.7,591.3 L1173.4,591.3 L1176.0,591.2 L1178.6,591.1 L1181.2,591.1 L1183.8,591.0 L1186.5,590.9 L1189.1,590.9 L1191.7,590.8 L1194.3,590.7 L1197.0,590.7 L1199.6,590.6 L1202.2,590.5 L1204.8,590.4 L1207.4,590.3 L1210.1,590.3 L1212.7,590.2 L1215.3,590.1 L1217.9,590.0 L1220.5,589.9 L1223.2,589.8 L1225.8,589.7 L1228.4,589.6 L1231.0,589.5 L1233.6,589.4 L1236.3,589.3 L1238.9,589.2 L1241.5,589.1 L1244.1,589.0 L1246.7,588.9 L1249.3,588.8 L1252.0,588.7 L1254.6,588.6 L1257.2,588.4 L1259.8,588.3 L1262.4,588.2 L1265.1,588.1 L1267.7,587.9 L1270.3,587.8 L1272.9,587.6 L1275.5,587.5 L1278.1,587.3 L1280.8,587.2 L1283.4,587.0 L1286.0,586.9 L1288.6,586.7 L1291.2,586.5 L1293.9,586.4 L1296.5,586.2 L1299.1,586.0 L1301.7,585.8 L1304.3,585.6 L1306.9,585.5 L1309.6,585.3 L1312.2,585.1 L1314.8,584.8 L1317.4,584.6 L1320.0,584.4 L1322.7,584.2 L1325.3,584.0 L1327.9,583.7 L1330.5,583.5 L1333.1,583.2 L1335.7,583.0 L1338.4,582.7 L1341.0,582.4 L1343.6,582.1 L1346.2,581.8 L1348.8,581.5 L1351.4,581.1 L1354.0,580.8 L1356.6,580.4 L1359.1,580.0 L1361.7,579.6 L1364.3,579.1 L1366.9,578.7 L1369.4,578.2 L1372.0,577.7 L1374.6,577.2 L1377.1,576.7 L1379.7,576.1 L1382.2,575.5 L1384.7,574.9 L1387.3,574.3 L1389.8,573.6 L1392.3,572.9 L1394.8,572.2 L1397.3,571.4 L1399.8,570.7 L1402.3,569.8 L1404.7,569.0 L1407.2,568.1 L1409.6,567.2 L1412.1,566.3 L1414.5,565.3 L1417.0,564.3 L1419.4,563.3 L1421.8,562.2 L1424.2,561.2 L1426.6,560.1 L1429.0,559.0 L1431.4,557.9 L1433.9,556.9 L1436.3,555.8 L1438.7,554.7 L1441.1,553.6 L1443.5,552.4 L1445.8,551.3 L1448.2,550.1 L1450.5,548.8 L1452.7,547.5 L1455.0,546.2 L1457.2,544.8 L1459.3,543.4 L1461.4,541.8 L1463.5,540.3 L1465.5,538.7 L1467.5,537.0 L1469.5,535.3 L1471.4,533.6 L1473.3,531.8 L1475.1,530.0 L1477.0,528.1 L1478.8,526.2 L1480.5,524.3 L1482.2,522.3 L1483.9,520.3 L1485.6,518.3 L1487.3,516.2 L1488.9,514.2 L1490.5,512.1 L1492.1,510.0 L1493.7,507.9 L1495.2,505.8 L1496.7,503.6 L1498.2,501.5 L1499.7,499.3 L1501.2,497.1 L1502.7,494.9 L1504.1,492.7 L1505.5,490.5 L1507.0,488.3 L1508.4,486.1 L1509.8,483.9 L1511.2,481.7 L1512.6,479.4 L1514.0,477.2 L1515.4,475.0 L1516.8,472.8 L1518.2,470.5 L1519.6,468.3 L1521.0,466.1 L1522.4,463.9 L1523.8,461.7 L1525.2,459.5 L1526.6,457.3 L1528.0,455.1 L1529.4,452.9 L1530.8,450.7 L1532.2,448.5 L1533.7,446.3 L1535.1,444.1 L1536.5,441.9 L1537.9,439.7 L1539.4,437.5 L1540.8,435.3 L1542.2,433.1 L1543.7,430.9 L1545.1,428.7 L1546.6,426.6 L1548.0,424.4 L1549.5,422.2 L1550.9,420.0 L1552.4,417.8 L1553.9,415.6 L1555.4,413.5 L1556.9,411.3 L1558.4,409.1 L1559.9,407.0 L1561.4,404.8 L1562.9,402.7 L1564.4,400.6 L1566.0,398.4 L1567.5,396.3 L1569.1,394.2 L1570.7,392.1 L1572.3,390.0 L1573.9,387.9 L1575.5,385.9 L1577.1,383.8 L1578.8,381.8 L1580.4,379.7 L1582.1,377.7 L1583.8,375.7 L1585.5,373.7 L1587.2,371.8 L1589.0,369.8 L1590.7,367.9 L1592.5,365.9 L1594.3,364.0 L1596.1,362.1 L1597.9,360.2 L1599.8,358.4 L1601.6,356.6 L1603.5,354.7 L1605.4,352.9 L1607.3,351.2 L1609.3,349.4 L1611.3,347.7 L1613.2,345.9 L1615.2,344.2 L1617.2,342.5 L1619.2,340.8 L1621.2,339.1 L1623.2,337.4 L1625.1,335.7 L1627.1,333.9 L1629.1,332.2 L1631.0,330.5 L1632.9,328.7 L1634.9,326.9 L1636.7,325.1 L1638.6,323.3 L1640.4,321.4 L1642.2,319.5 L1643.9,317.6 L1645.6,315.6 L1647.3,313.6 L1649.0,311.6 L1650.6,309.5 L1652.2,307.5 L1653.7,305.4 L1655.3,303.2 L1656.8,301.1 L1658.3,298.9 L1659.7,296.8 L1661.2,294.6 L1662.6,292.4 L1664.1,290.1 L1665.5,287.9 L1666.9,285.7 L1666.7,288.5 L1666.6,291.4 L1666.4,294.2 L1666.2,297.1 L1665.9,299.9 L1665.7,302.7 L1665.4,305.5 L1665.1,308.4 L1664.8,311.2 L1664.5,314.0 L1664.2,316.8 L1663.8,319.6 L1663.4,322.5 L1663.0,325.3 L1662.6,328.1 L1662.2,330.9 L1661.8,333.7 L1661.3,336.5 L1660.9,339.3 L1660.4,342.1 L1659.9,344.9 L1659.4,347.7 L1658.9,350.5 L1658.3,353.3 L1657.8,356.1 L1657.2,358.9 L1656.7,361.7 L1656.1,364.5 L1655.5,367.3 L1654.9,370.0 L1654.3,372.8 L1653.7,375.6 L1653.1,378.4 L1652.5,381.2 L1651.9,384.0 L1651.2,386.7 L1650.6,389.5 L1649.9,392.3 L1649.3,395.1 L1648.6,397.8 L1647.9,400.6 L1647.2,403.4 L1646.5,406.2 L1645.8,408.9 L1645.1,411.7 L1644.4,414.5 L1643.7,417.2 L1642.9,420.0 L1642.2,422.7 L1641.4,425.5 L1640.6,428.2 L1639.8,430.9 L1639.0,433.7 L1638.1,436.4 L1637.3,439.1 L1636.4,441.8 L1635.5,444.5 L1634.6,447.2 L1633.7,449.9 L1632.7,452.5 L1631.8,455.2 L1630.8,457.8 L1629.7,460.5 L1628.7,463.1 L1627.6,465.7 L1626.5,468.3 L1625.4,470.9 L1624.2,473.5 L1623.1,476.1 L1621.8,478.6 L1620.6,481.2 L1619.3,483.7 L1618.0,486.2 L1616.7,488.7 L1615.3,491.2 L1614.0,493.7 L1612.5,496.1 L1611.1,498.6 L1609.6,501.0 L1608.0,503.4 L1606.5,505.8 L1604.9,508.2 L1603.3,510.5 L1601.6,512.9 L1600.0,515.2 L1598.3,517.5 L1596.5,519.8 L1594.8,522.1 L1593.0,524.3 L1591.2,526.6 L1589.4,528.8 L1587.5,531.0 L1585.6,533.2 L1583.7,535.3 L1581.8,537.5 L1579.8,539.6 L1577.9,541.7 L1575.9,543.8 L1573.9,545.8 L1571.8,547.9 L1569.8,549.9 L1567.7,551.8 L1565.6,553.7 L1563.4,555.6 L1561.3,557.4 L1559.1,559.2 L1556.8,560.9 L1554.5,562.5 L1552.2,564.1 L1549.9,565.7 L1547.5,567.1 L1545.1,568.5 L1542.7,569.9 L1540.2,571.1 L1537.7,572.3 L1535.1,573.4 L1532.5,574.4 L1529.9,575.4 L1527.3,576.3 L1524.6,577.1 L1521.9,577.9 L1519.2,578.7 L1516.4,579.4 L1513.7,580.0 L1510.9,580.6 L1508.1,581.2 L1505.3,581.7 L1502.5,582.2 L1499.7,582.7 L1496.9,583.1 L1494.0,583.6 L1491.2,584.0 L1488.3,584.4 L1485.5,584.7 L1482.7,585.1 L1479.8,585.4 L1477.0,585.8 L1474.1,586.1 L1471.3,586.4 L1468.4,586.7 L1465.6,587.0 L1462.7,587.2 L1459.9,587.5 L1457.1,587.7 L1454.2,588.0 L1451.4,588.2 L1448.5,588.4 L1445.7,588.6 L1442.8,588.8 L1440.0,589.0 L1437.1,589.1 L1434.3,589.3 L1431.4,589.5 L1428.6,589.6 L1425.7,589.8 L1422.9,589.9 L1420.1,590.0 L1417.2,590.2 L1414.4,590.3 L1411.5,590.4 L1408.7,590.5 L1405.8,590.6 L1403.0,590.7 L1400.2,590.8 L1397.3,590.9 L1394.5,591.0 L1391.6,591.1 L1388.8,591.2 L1385.9,591.2 L1383.1,591.3 L1380.3,591.4 L1377.4,591.4 L1374.6,591.5 L1371.7,591.6 L1368.9,591.6 L1366.1,591.7 L1363.2,591.8 L1360.4,591.8 L1357.5,591.9 L1354.7,591.9 L1351.8,592.0 L1349.0,592.0 L1346.2,592.1 L1343.3,592.2 L1340.5,592.2 L1337.6,592.3 L1334.8,592.3 L1331.9,592.4 L1329.1,592.5 L1326.3,592.5 L1323.4,592.6 L1320.6,592.7 L1317.7,592.7 L1314.9,592.8 L1312.0,592.9 L1309.2,593.0 L1306.3,593.0 L1303.5,593.1 L1300.6,593.2 L1297.8,593.3 L1295.0,593.3 L1292.1,593.4 L1289.3,593.5 L1286.4,593.6 L1283.6,593.7 L1280.7,593.7 L1277.9,593.8 L1275.0,593.9 L1272.2,594.0 L1269.3,594.1 L1266.5,594.2 L1263.6,594.2 L1260.8,594.3 L1257.9,594.4 L1255.1,594.5 L1252.2,594.5 L1249.4,594.6 L1246.6,594.7 L1243.7,594.8 L1240.9,594.9 L1238.0,594.9 L1235.2,595.0 L1232.3,595.1 L1229.5,595.1 L1226.6,595.2 L1223.8,595.3 L1220.9,595.3 L1218.1,595.4 L1215.2,595.5 L1212.4,595.5 L1209.5,595.6 L1206.7,595.6 L1203.9,595.7 L1201.0,595.7 L1198.2,595.8 L1195.3,595.9 L1192.5,595.9 L1189.6,596.0 L1186.8,596.0 L1183.9,596.0 L1181.1,596.1 L1178.2,596.1 L1175.4,596.2 L1172.5,596.2 L1169.7,596.3 L1166.9,596.3 L1164.0,596.3 L1161.2,596.4 L1158.3,596.4 L1155.5,596.5 L1152.6,596.5 L1149.8,596.5 L1146.9,596.6 L1144.1,596.6 L1141.2,596.6 L1138.4,596.6 L1135.6,596.7 L1132.7,596.7 L1129.9,596.7 L1127.0,596.7 L1124.2,596.8 L1121.3,596.8 L1118.5,596.8 L1115.6,596.8 L1112.8,596.9 L1109.9,596.9 L1107.1,596.9 L1104.3,596.9 L1101.4,596.9 L1098.6,596.9 L1095.7,597.0 L1092.9,597.0 L1090.0,597.0 L1087.2,597.0 L1084.3,597.0 L1081.5,597.0 L1078.6,597.0 L1075.8,597.0 L1072.9,597.0 L1070.1,597.0 L1067.3,597.0 L1064.4,597.0 L1061.6,597.0 L1058.7,597.1 L1055.9,597.1 L1053.0,597.1 L1050.2,597.1 L1047.3,597.1 L1044.5,597.1 L1041.6,597.0 L1038.8,597.0 L1035.9,597.0 L1033.1,597.0 L1030.2,597.0 L1027.4,597.0 L1024.5,597.0 L1021.7,597.0 L1018.8,597.0 L1016.0,597.0" fill="none" stroke="#000080" stroke-width="8.8" stroke-linejoin="round" stroke-linecap="round"/>
</g>
<line x1="1015.20" y1="2.80" x2="1015.20" y2="616.00" stroke="#000" stroke-width="3.0" stroke-linecap="butt"/>
<line x1="1013.70" y1="614.50" x2="1765.30" y2="614.50" stroke="#000" stroke-width="3.0" stroke-linecap="butt"/>
<line x1="1015.20" y1="3.80" x2="1765.30" y2="3.80" stroke="#000" stroke-width="2.0" stroke-linecap="butt"/>
<line x1="1764.40" y1="3.80" x2="1764.40" y2="614.50" stroke="#000" stroke-width="1.8" stroke-linecap="butt"/>
<line x1="1015.20" y1="0.00" x2="1015.20" y2="3.80" stroke="#000" stroke-width="3.0" stroke-linecap="butt"/>
<line x1="1003.70" y1="594.00" x2="1015.20" y2="594.00" stroke="#000" stroke-width="3.0" stroke-linecap="round"/>
<line x1="1003.70" y1="465.20" x2="1015.20" y2="465.20" stroke="#000" stroke-width="3.0" stroke-linecap="round"/>
<line x1="1003.70" y1="336.40" x2="1015.20" y2="336.40" stroke="#000" stroke-width="3.0" stroke-linecap="round"/>
<line x1="1003.70" y1="207.60" x2="1015.20" y2="207.60" stroke="#000" stroke-width="3.0" stroke-linecap="round"/>
<line x1="1003.70" y1="78.80" x2="1015.20" y2="78.80" stroke="#000" stroke-width="3.0" stroke-linecap="round"/>
<line x1="1009.70" y1="529.60" x2="1015.20" y2="529.60" stroke="#000" stroke-width="3.0" stroke-linecap="round"/>
<line x1="1009.70" y1="400.80" x2="1015.20" y2="400.80" stroke="#000" stroke-width="3.0" stroke-linecap="round"/>
<line x1="1009.70" y1="272.00" x2="1015.20" y2="272.00" stroke="#000" stroke-width="3.0" stroke-linecap="round"/>
<line x1="1009.70" y1="143.20" x2="1015.20" y2="143.20" stroke="#000" stroke-width="3.0" stroke-linecap="round"/>
<line x1="1009.70" y1="14.40" x2="1015.20" y2="14.40" stroke="#000" stroke-width="3.0" stroke-linecap="round"/>
<line x1="1088.20" y1="614.50" x2="1088.20" y2="626.30" stroke="#000" stroke-width="3.0" stroke-linecap="round"/>
<line x1="1184.52" y1="614.50" x2="1184.52" y2="626.30" stroke="#000" stroke-width="3.0" stroke-linecap="round"/>
<line x1="1280.84" y1="614.50" x2="1280.84" y2="626.30" stroke="#000" stroke-width="3.0" stroke-linecap="round"/>
<line x1="1377.16" y1="614.50" x2="1377.16" y2="626.30" stroke="#000" stroke-width="3.0" stroke-linecap="round"/>
<line x1="1473.48" y1="614.50" x2="1473.48" y2="626.30" stroke="#000" stroke-width="3.0" stroke-linecap="round"/>
<line x1="1569.80" y1="614.50" x2="1569.80" y2="626.30" stroke="#000" stroke-width="3.0" stroke-linecap="round"/>
<line x1="1666.12" y1="614.50" x2="1666.12" y2="626.30" stroke="#000" stroke-width="3.0" stroke-linecap="round"/>
<line x1="1762.44" y1="614.50" x2="1762.44" y2="626.30" stroke="#000" stroke-width="3.0" stroke-linecap="round"/>
<line x1="1040.04" y1="614.50" x2="1040.04" y2="620.00" stroke="#000" stroke-width="3.0" stroke-linecap="round"/>
<line x1="1136.36" y1="614.50" x2="1136.36" y2="620.00" stroke="#000" stroke-width="3.0" stroke-linecap="round"/>
<line x1="1232.68" y1="614.50" x2="1232.68" y2="620.00" stroke="#000" stroke-width="3.0" stroke-linecap="round"/>
<line x1="1329.00" y1="614.50" x2="1329.00" y2="620.00" stroke="#000" stroke-width="3.0" stroke-linecap="round"/>
<line x1="1425.32" y1="614.50" x2="1425.32" y2="620.00" stroke="#000" stroke-width="3.0" stroke-linecap="round"/>
<line x1="1521.64" y1="614.50" x2="1521.64" y2="620.00" stroke="#000" stroke-width="3.0" stroke-linecap="round"/>
<line x1="1617.96" y1="614.50" x2="1617.96" y2="620.00" stroke="#000" stroke-width="3.0" stroke-linecap="round"/>
<line x1="1714.28" y1="614.50" x2="1714.28" y2="620.00" stroke="#000" stroke-width="3.0" stroke-linecap="round"/>
<text x="994.50" y="605.00" font-family="'Liberation Serif', 'Times New Roman', serif" font-size="33" font-weight="bold" font-style="normal" text-anchor="end" >0</text>
<text x="994.50" y="476.20" font-family="'Liberation Serif', 'Times New Roman', serif" font-size="33" font-weight="bold" font-style="normal" text-anchor="end" >500</text>
<text x="994.50" y="347.40" font-family="'Liberation Serif', 'Times New Roman', serif" font-size="33" font-weight="bold" font-style="normal" text-anchor="end" >1000</text>
<text x="994.50" y="218.60" font-family="'Liberation Serif', 'Times New Roman', serif" font-size="33" font-weight="bold" font-style="normal" text-anchor="end" >1500</text>
<text x="994.50" y="89.80" font-family="'Liberation Serif', 'Times New Roman', serif" font-size="33" font-weight="bold" font-style="normal" text-anchor="end" >2000</text>
<text transform="translate(1088.20,660.40) scale(1.0,1.04)" font-family="'Liberation Serif', 'Times New Roman', serif" font-size="33.7" font-weight="bold" font-style="normal" text-anchor="middle" >0.4</text>
<text transform="translate(1184.52,660.40) scale(1.0,1.04)" font-family="'Liberation Serif', 'Times New Roman', serif" font-size="33.7" font-weight="bold" font-style="normal" text-anchor="middle" >0.6</text>
<text transform="translate(1280.84,660.40) scale(1.0,1.04)" font-family="'Liberation Serif', 'Times New Roman', serif" font-size="33.7" font-weight="bold" font-style="normal" text-anchor="middle" >0.8</text>
<text transform="translate(1377.16,660.40) scale(1.0,1.04)" font-family="'Liberation Serif', 'Times New Roman', serif" font-size="33.7" font-weight="bold" font-style="normal" text-anchor="middle" >1.0</text>
<text transform="translate(1473.48,660.40) scale(1.0,1.04)" font-family="'Liberation Serif', 'Times New Roman', serif" font-size="33.7" font-weight="bold" font-style="normal" text-anchor="middle" >1.2</text>
<text transform="translate(1569.80,660.40) scale(1.0,1.04)" font-family="'Liberation Serif', 'Times New Roman', serif" font-size="33.7" font-weight="bold" font-style="normal" text-anchor="middle" >1.4</text>
<text transform="translate(1666.12,660.40) scale(1.0,1.04)" font-family="'Liberation Serif', 'Times New Roman', serif" font-size="33.7" font-weight="bold" font-style="normal" text-anchor="middle" >1.6</text>
<text transform="translate(1762.44,660.40) scale(1.0,1.04)" font-family="'Liberation Serif', 'Times New Roman', serif" font-size="33.7" font-weight="bold" font-style="normal" text-anchor="middle" >1.8</text>
<text transform="translate(1411.50,705.40) scale(1.0,1.04)" font-family="'Liberation Serif', 'Times New Roman', serif" font-size="32.8" font-weight="bold" font-style="normal" text-anchor="middle" >Potential (V) <tspan font-style="italic">vs</tspan>. Ag/AgCl (3 M KCl)</text>
<text transform="translate(920.7,298) rotate(-90)" font-family="'Liberation Serif', 'Times New Roman', serif" font-size="39.5" font-weight="bold" text-anchor="middle">I <tspan font-weight="normal">(μ</tspan>A<tspan font-weight="normal">)</tspan></text>
<text transform="translate(1034.40,49.80) scale(1.0,1.057)" font-family="'Liberation Sans', Arial, sans-serif" font-size="39.2" font-weight="bold" font-style="normal" text-anchor="start" >(b)</text>
<text transform="translate(1571.00,50.70) scale(1.0,1.067)" font-family="'Liberation Serif', 'Times New Roman', serif" font-size="39.4" font-weight="bold" font-style="normal" text-anchor="start" >LNMP</text>
<line x1="1054.65" y1="173.60" x2="1116.85" y2="173.60" stroke="#ff0000" stroke-width="8.3" stroke-linecap="round"/>
<text x="1124.30" y="183.50" font-family="'Liberation Serif', 'Times New Roman', serif" font-size="33.5" font-weight="bold" font-style="normal" text-anchor="start" >40 <tspan font-weight="normal">°</tspan>C</text>
<line x1="1054.65" y1="232.40" x2="1116.85" y2="232.40" stroke="#0000ff" stroke-width="8.3" stroke-linecap="round"/>
<text x="1124.30" y="242.30" font-family="'Liberation Serif', 'Times New Roman', serif" font-size="33.5" font-weight="bold" font-style="normal" text-anchor="start" >35 <tspan font-weight="normal">°</tspan>C</text>
<line x1="1054.65" y1="291.20" x2="1116.85" y2="291.20" stroke="#ff00ff" stroke-width="8.3" stroke-linecap="round"/>
<text x="1124.30" y="301.10" font-family="'Liberation Serif', 'Times New Roman', serif" font-size="33.5" font-weight="bold" font-style="normal" text-anchor="start" >30 <tspan font-weight="normal">°</tspan>C</text>
<line x1="1054.65" y1="349.80" x2="1116.85" y2="349.80" stroke="#008000" stroke-width="8.3" stroke-linecap="round"/>
<text x="1124.30" y="359.70" font-family="'Liberation Serif', 'Times New Roman', serif" font-size="33.5" font-weight="bold" font-style="normal" text-anchor="start" >25 <tspan font-weight="normal">°</tspan>C</text>
<line x1="1054.65" y1="391.40" x2="1116.85" y2="391.40" stroke="#000080" stroke-width="8.3" stroke-linecap="round"/>
<text x="1124.30" y="401.30" font-family="'Liberation Serif', 'Times New Roman', serif" font-size="33.5" font-weight="bold" font-style="normal" text-anchor="start" >20 &#160;<tspan font-weight="normal">°</tspan>C</text>
<text x="1142.50" y="549.00" font-family="'Liberation Serif', 'Times New Roman', serif" font-size="28" font-weight="bold" font-style="normal" text-anchor="start" >Scan direction</text>
<line x1="1130.00" y1="564.50" x2="1314.50" y2="564.50" stroke="#000" stroke-width="1.8" stroke-linecap="round"/>
<polygon points="1313.50,560.50 1329.00,564.50 1313.50,568.50" fill="#000" stroke="#000" stroke-width="1" stroke-linejoin="round"/>
<clipPath id="clp3"><rect x="594.8" y="824.8" width="720.7" height="590.2"/></clipPath>
<g clip-path="url(#clp3)">
<path d="M596.0,1351.2 L599.0,1351.1 L601.9,1351.0 L604.9,1350.9 L607.8,1350.8 L610.8,1350.7 L613.7,1350.6 L616.7,1350.5 L619.6,1350.5 L622.6,1350.4 L625.5,1350.3 L628.5,1350.2 L631.4,1350.2 L634.4,1350.1 L637.3,1350.0 L640.3,1350.0 L643.2,1349.9 L646.2,1349.9 L649.1,1349.8 L652.1,1349.8 L655.0,1349.7 L658.0,1349.7 L660.9,1349.6 L663.9,1349.6 L666.8,1349.5 L669.7,1349.5 L672.7,1349.4 L675.6,1349.4 L678.6,1349.4 L681.5,1349.3 L684.4,1349.3 L687.4,1349.2 L690.3,1349.2 L693.3,1349.1 L696.2,1349.1 L699.1,1349.0 L702.1,1349.0 L705.0,1348.9 L708.0,1348.9 L710.9,1348.8 L713.8,1348.8 L716.8,1348.7 L719.7,1348.6 L722.7,1348.6 L725.6,1348.5 L728.5,1348.4 L731.5,1348.3 L734.4,1348.3 L737.4,1348.2 L740.3,1348.1 L743.2,1348.0 L746.2,1347.9 L749.1,1347.8 L752.1,1347.7 L755.0,1347.6 L757.9,1347.5 L760.9,1347.4 L763.8,1347.3 L766.8,1347.1 L769.7,1347.0 L772.7,1346.9 L775.6,1346.7 L778.6,1346.6 L781.5,1346.4 L784.5,1346.2 L787.4,1346.1 L790.3,1345.9 L793.3,1345.7 L796.2,1345.5 L799.2,1345.3 L802.2,1345.1 L805.1,1344.9 L808.1,1344.7 L811.0,1344.5 L814.0,1344.2 L816.9,1344.0 L819.9,1343.7 L822.8,1343.4 L825.8,1343.2 L828.8,1342.9 L831.7,1342.6 L834.7,1342.3 L837.6,1342.0 L840.6,1341.6 L843.5,1341.2 L846.5,1340.9 L849.4,1340.4 L852.4,1340.0 L855.3,1339.6 L858.2,1339.1 L861.1,1338.6 L864.0,1338.0 L866.9,1337.4 L869.8,1336.8 L872.7,1336.2 L875.6,1335.5 L878.5,1334.8 L881.3,1334.1 L884.1,1333.3 L887.0,1332.4 L889.8,1331.6 L892.6,1330.7 L895.4,1329.7 L898.1,1328.7 L900.9,1327.7 L903.6,1326.6 L906.3,1325.5 L909.0,1324.3 L911.6,1323.1 L914.3,1321.9 L916.9,1320.6 L919.5,1319.2 L922.0,1317.9 L924.5,1316.4 L927.0,1315.0 L929.5,1313.4 L932.0,1311.9 L934.4,1310.3 L936.7,1308.6 L939.1,1306.9 L941.4,1305.2 L943.7,1303.4 L946.0,1301.6 L948.2,1299.7 L950.4,1297.9 L952.6,1295.9 L954.8,1294.0 L956.9,1292.0 L959.1,1289.9 L961.1,1287.9 L963.2,1285.8 L965.2,1283.7 L967.3,1281.5 L969.2,1279.4 L971.2,1277.2 L973.2,1274.9 L975.1,1272.7 L977.0,1270.4 L978.9,1268.1 L980.7,1265.8 L982.6,1263.4 L984.4,1261.1 L986.2,1258.7 L987.9,1256.3 L989.7,1253.9 L991.4,1251.5 L993.2,1249.0 L994.9,1246.6 L996.5,1244.1 L998.2,1241.7 L999.9,1239.2 L1001.5,1236.7 L1003.1,1234.2 L1004.7,1231.7 L1006.3,1229.2 L1007.9,1226.7 L1009.4,1224.1 L1011.0,1221.6 L1012.5,1219.1 L1014.0,1216.5 L1015.5,1214.0 L1017.0,1211.4 L1018.5,1208.9 L1020.0,1206.3 L1021.5,1203.8 L1023.0,1201.2 L1024.4,1198.7 L1025.9,1196.1 L1027.3,1193.5 L1028.8,1191.0 L1030.3,1188.4 L1031.7,1185.9 L1033.2,1183.3 L1034.6,1180.7 L1036.1,1178.2 L1037.5,1175.6 L1039.0,1173.1 L1040.4,1170.5 L1041.9,1168.0 L1043.4,1165.4 L1044.9,1162.9 L1046.3,1160.4 L1047.8,1157.8 L1049.3,1155.3 L1050.9,1152.8 L1052.4,1150.3 L1053.9,1147.8 L1055.4,1145.3 L1057.0,1142.8 L1058.6,1140.3 L1060.1,1137.8 L1061.7,1135.4 L1063.3,1132.9 L1065.0,1130.5 L1066.6,1128.0 L1068.2,1125.6 L1069.9,1123.1 L1071.6,1120.7 L1073.2,1118.3 L1074.9,1115.9 L1076.6,1113.5 L1078.3,1111.1 L1080.0,1108.7 L1081.7,1106.3 L1083.5,1103.9 L1085.2,1101.5 L1086.9,1099.1 L1088.7,1096.8 L1090.4,1094.4 L1092.2,1092.0 L1093.9,1089.6 L1095.7,1087.3 L1097.4,1084.9 L1099.2,1082.5 L1101.0,1080.2 L1102.7,1077.8 L1104.5,1075.4 L1106.3,1073.0 L1108.0,1070.7 L1109.8,1068.3 L1111.6,1065.9 L1113.3,1063.6 L1115.1,1061.2 L1116.8,1058.8 L1118.6,1056.4 L1120.3,1054.1 L1122.1,1051.7 L1123.8,1049.3 L1125.6,1046.9 L1127.3,1044.5 L1129.0,1042.1 L1130.7,1039.7 L1132.4,1037.3 L1134.1,1034.9 L1135.8,1032.5 L1137.5,1030.0 L1139.2,1027.6 L1140.8,1025.2 L1142.5,1022.7 L1144.1,1020.3 L1145.8,1017.8 L1147.4,1015.4 L1149.0,1012.9 L1150.6,1010.4 L1152.2,1008.0 L1153.8,1005.5 L1155.3,1003.0 L1156.9,1000.5 L1158.4,998.0 L1159.9,995.5 L1161.4,992.9 L1162.9,990.4 L1164.4,987.9 L1165.9,985.3 L1167.3,982.8 L1168.8,980.2 L1170.2,977.6 L1171.6,975.0 L1172.9,972.5 L1174.3,969.9 L1175.6,967.2 L1177.0,964.6 L1178.3,962.0 L1179.5,959.3 L1180.8,956.7 L1182.1,954.0 L1183.3,951.3 L1184.5,948.6 L1185.7,946.0 L1186.8,943.2 L1188.0,940.5 L1189.1,937.8 L1190.2,935.1 L1191.3,932.3 L1192.4,929.6 L1193.5,926.9 L1194.6,924.1 L1195.6,921.3 L1196.7,918.6 L1197.7,915.8 L1198.7,913.0 L1199.8,910.2 L1200.8,907.5 L1201.8,904.7 L1202.8,901.9 L1203.8,899.1 L1204.8,896.3 L1205.7,893.5 L1206.7,890.8 L1207.7,888.0 L1208.7,885.2 L1209.6,882.4 L1210.6,879.6 L1211.6,876.8 L1212.6,874.0 L1213.5,871.3 L1214.5,868.5 L1215.5,865.7 L1216.5,863.0 L1217.5,860.2 L1217.1,863.3 L1216.7,866.4 L1216.3,869.5 L1215.9,872.6 L1215.5,875.8 L1215.1,878.9 L1214.7,882.0 L1214.2,885.2 L1213.8,888.3 L1213.3,891.4 L1212.8,894.6 L1212.4,897.7 L1211.9,900.8 L1211.3,904.0 L1210.8,907.1 L1210.3,910.2 L1209.7,913.3 L1209.1,916.5 L1208.6,919.6 L1208.0,922.7 L1207.3,925.8 L1206.7,928.9 L1206.1,932.0 L1205.4,935.1 L1204.7,938.2 L1204.1,941.3 L1203.4,944.4 L1202.7,947.4 L1202.0,950.5 L1201.3,953.6 L1200.6,956.7 L1199.9,959.8 L1199.2,962.9 L1198.5,966.0 L1197.9,969.0 L1197.2,972.1 L1196.5,975.2 L1195.8,978.3 L1195.2,981.4 L1194.5,984.5 L1193.9,987.6 L1193.3,990.7 L1192.6,993.8 L1192.0,996.9 L1191.4,1000.1 L1190.8,1003.2 L1190.2,1006.3 L1189.6,1009.4 L1188.9,1012.5 L1188.3,1015.6 L1187.7,1018.7 L1187.1,1021.8 L1186.5,1025.0 L1185.9,1028.1 L1185.2,1031.2 L1184.6,1034.3 L1184.0,1037.4 L1183.3,1040.5 L1182.7,1043.6 L1182.0,1046.7 L1181.3,1049.8 L1180.7,1052.9 L1180.0,1056.0 L1179.3,1059.1 L1178.6,1062.2 L1177.8,1065.2 L1177.1,1068.3 L1176.4,1071.4 L1175.6,1074.5 L1174.8,1077.5 L1174.0,1080.6 L1173.2,1083.6 L1172.3,1086.7 L1171.5,1089.7 L1170.6,1092.8 L1169.7,1095.8 L1168.8,1098.8 L1167.8,1101.9 L1166.9,1104.9 L1165.9,1107.9 L1164.9,1110.9 L1163.9,1113.9 L1162.8,1116.9 L1161.8,1119.9 L1160.7,1122.8 L1159.6,1125.8 L1158.6,1128.8 L1157.4,1131.8 L1156.3,1134.7 L1155.2,1137.7 L1154.1,1140.6 L1152.9,1143.6 L1151.7,1146.5 L1150.6,1149.5 L1149.4,1152.4 L1148.2,1155.4 L1147.1,1158.3 L1145.9,1161.3 L1144.7,1164.2 L1143.5,1167.1 L1142.2,1170.0 L1141.0,1172.9 L1139.8,1175.9 L1138.5,1178.8 L1137.3,1181.7 L1136.0,1184.6 L1134.7,1187.4 L1133.4,1190.3 L1132.0,1193.2 L1130.7,1196.1 L1129.3,1198.9 L1127.9,1201.8 L1126.5,1204.6 L1125.1,1207.4 L1123.6,1210.3 L1122.2,1213.1 L1120.7,1215.9 L1119.1,1218.7 L1117.6,1221.4 L1116.0,1224.2 L1114.4,1226.9 L1112.8,1229.7 L1111.1,1232.4 L1109.5,1235.1 L1107.8,1237.8 L1106.0,1240.4 L1104.3,1243.1 L1102.5,1245.7 L1100.7,1248.3 L1098.8,1250.9 L1097.0,1253.4 L1095.1,1256.0 L1093.2,1258.5 L1091.2,1261.0 L1089.2,1263.4 L1087.2,1265.9 L1085.2,1268.3 L1083.1,1270.7 L1081.0,1273.0 L1078.9,1275.3 L1076.7,1277.6 L1074.5,1279.9 L1072.3,1282.1 L1070.0,1284.3 L1067.7,1286.5 L1065.4,1288.6 L1063.1,1290.7 L1060.7,1292.8 L1058.3,1294.8 L1055.8,1296.8 L1053.3,1298.8 L1050.8,1300.7 L1048.2,1302.6 L1045.7,1304.4 L1043.1,1306.3 L1040.4,1308.1 L1037.8,1309.9 L1035.2,1311.7 L1032.5,1313.5 L1029.9,1315.3 L1027.2,1317.0 L1024.5,1318.8 L1021.9,1320.6 L1019.2,1322.3 L1016.5,1324.0 L1013.8,1325.7 L1011.0,1327.3 L1008.2,1328.8 L1005.4,1330.3 L1002.6,1331.6 L999.7,1332.9 L996.8,1334.1 L993.9,1335.2 L991.0,1336.2 L988.0,1337.1 L984.9,1338.0 L981.9,1338.8 L978.9,1339.5 L975.8,1340.2 L972.7,1340.8 L969.6,1341.4 L966.4,1341.9 L963.3,1342.4 L960.2,1342.8 L957.0,1343.2 L953.8,1343.6 L950.7,1344.0 L947.5,1344.4 L944.4,1344.7 L941.2,1345.0 L938.0,1345.3 L934.9,1345.6 L931.7,1345.9 L928.5,1346.2 L925.4,1346.5 L922.2,1346.7 L919.0,1347.0 L915.9,1347.2 L912.7,1347.4 L909.6,1347.6 L906.4,1347.8 L903.2,1348.0 L900.1,1348.2 L896.9,1348.4 L893.7,1348.5 L890.6,1348.7 L887.4,1348.8 L884.2,1349.0 L881.1,1349.1 L877.9,1349.3 L874.8,1349.4 L871.6,1349.5 L868.4,1349.6 L865.3,1349.7 L862.1,1349.8 L858.9,1349.9 L855.8,1350.0 L852.6,1350.1 L849.4,1350.2 L846.3,1350.3 L843.1,1350.4 L839.9,1350.5 L836.8,1350.6 L833.6,1350.6 L830.4,1350.7 L827.3,1350.8 L824.1,1350.9 L820.9,1351.0 L817.8,1351.0 L814.6,1351.1 L811.4,1351.2 L808.3,1351.3 L805.1,1351.4 L801.9,1351.4 L798.8,1351.5 L795.6,1351.6 L792.4,1351.7 L789.3,1351.7 L786.1,1351.8 L782.9,1351.9 L779.8,1352.0 L776.6,1352.0 L773.4,1352.1 L770.3,1352.2 L767.1,1352.2 L763.9,1352.3 L760.8,1352.4 L757.6,1352.4 L754.4,1352.5 L751.3,1352.6 L748.1,1352.6 L744.9,1352.7 L741.8,1352.8 L738.6,1352.8 L735.4,1352.9 L732.2,1352.9 L729.1,1353.0 L725.9,1353.0 L722.7,1353.1 L719.6,1353.2 L716.4,1353.2 L713.2,1353.3 L710.1,1353.3 L706.9,1353.4 L703.7,1353.4 L700.6,1353.4 L697.4,1353.5 L694.2,1353.5 L691.1,1353.6 L687.9,1353.6 L684.7,1353.7 L681.5,1353.7 L678.4,1353.7 L675.2,1353.8 L672.0,1353.8 L668.9,1353.8 L665.7,1353.8 L662.5,1353.9 L659.4,1353.9 L656.2,1353.9 L653.0,1353.9 L649.9,1354.0 L646.7,1354.0 L643.5,1354.0 L640.4,1354.0 L637.2,1354.0 L634.0,1354.0 L630.8,1354.0 L627.7,1354.0 L624.5,1354.1 L621.3,1354.1 L618.2,1354.1 L615.0,1354.1 L611.8,1354.1 L608.7,1354.0 L605.5,1354.0 L602.3,1354.0 L599.2,1354.0 L596.0,1354.0" fill="none" stroke="#000000" stroke-width="9.3" stroke-linejoin="round" stroke-linecap="round"/>
<path d="M596.0,1351.2 L598.8,1351.2 L601.7,1351.2 L604.5,1351.2 L607.3,1351.2 L610.1,1351.1 L613.0,1351.1 L615.8,1351.1 L618.6,1351.1 L621.4,1351.1 L624.3,1351.1 L627.1,1351.0 L629.9,1351.0 L632.7,1351.0 L635.5,1351.0 L638.3,1350.9 L641.1,1350.9 L643.9,1350.9 L646.8,1350.8 L649.6,1350.8 L652.4,1350.8 L655.2,1350.7 L658.0,1350.7 L660.8,1350.7 L663.6,1350.6 L666.4,1350.6 L669.2,1350.5 L672.0,1350.5 L674.8,1350.4 L677.6,1350.4 L680.4,1350.3 L683.2,1350.3 L686.0,1350.2 L688.8,1350.1 L691.6,1350.1 L694.4,1350.0 L697.2,1349.9 L700.0,1349.9 L702.8,1349.8 L705.6,1349.7 L708.4,1349.7 L711.2,1349.6 L714.0,1349.5 L716.8,1349.4 L719.6,1349.4 L722.4,1349.3 L725.2,1349.2 L728.0,1349.1 L730.8,1349.0 L733.6,1348.9 L736.4,1348.8 L739.2,1348.7 L742.0,1348.6 L744.8,1348.5 L747.6,1348.4 L750.4,1348.3 L753.2,1348.2 L756.0,1348.1 L758.8,1348.0 L761.6,1347.8 L764.4,1347.7 L767.2,1347.6 L770.0,1347.5 L772.8,1347.4 L775.6,1347.2 L778.5,1347.1 L781.3,1347.0 L784.1,1346.8 L786.9,1346.7 L789.7,1346.5 L792.5,1346.4 L795.4,1346.3 L798.2,1346.1 L801.0,1345.9 L803.8,1345.8 L806.7,1345.6 L809.5,1345.5 L812.3,1345.3 L815.1,1345.1 L818.0,1345.0 L820.8,1344.8 L823.6,1344.6 L826.5,1344.4 L829.3,1344.2 L832.1,1344.0 L835.0,1343.8 L837.8,1343.5 L840.6,1343.3 L843.4,1343.0 L846.2,1342.7 L849.1,1342.4 L851.9,1342.1 L854.7,1341.8 L857.5,1341.4 L860.3,1341.1 L863.0,1340.7 L865.8,1340.2 L868.6,1339.8 L871.4,1339.3 L874.1,1338.9 L876.9,1338.3 L879.6,1337.8 L882.4,1337.2 L885.1,1336.6 L887.8,1336.0 L890.6,1335.4 L893.3,1334.7 L895.9,1333.9 L898.6,1333.2 L901.3,1332.4 L904.0,1331.6 L906.6,1330.7 L909.2,1329.8 L911.9,1328.8 L914.5,1327.9 L917.1,1326.8 L919.7,1325.8 L922.2,1324.7 L924.8,1323.5 L927.3,1322.3 L929.8,1321.1 L932.3,1319.9 L934.8,1318.6 L937.2,1317.2 L939.6,1315.8 L942.0,1314.4 L944.4,1313.0 L946.8,1311.4 L949.1,1309.9 L951.4,1308.3 L953.7,1306.7 L955.9,1305.0 L958.1,1303.3 L960.3,1301.6 L962.5,1299.8 L964.6,1298.0 L966.7,1296.1 L968.8,1294.2 L970.8,1292.3 L972.8,1290.3 L974.8,1288.3 L976.8,1286.3 L978.7,1284.3 L980.6,1282.2 L982.5,1280.1 L984.4,1278.0 L986.2,1275.9 L988.0,1273.7 L989.8,1271.5 L991.6,1269.3 L993.3,1267.1 L995.1,1264.9 L996.8,1262.6 L998.5,1260.4 L1000.1,1258.1 L1001.8,1255.8 L1003.4,1253.6 L1005.1,1251.3 L1006.7,1248.9 L1008.3,1246.6 L1009.8,1244.3 L1011.4,1242.0 L1013.0,1239.6 L1014.5,1237.2 L1016.0,1234.9 L1017.6,1232.5 L1019.1,1230.1 L1020.6,1227.8 L1022.1,1225.4 L1023.6,1223.0 L1025.1,1220.6 L1026.5,1218.2 L1028.0,1215.8 L1029.5,1213.4 L1031.0,1211.0 L1032.4,1208.6 L1033.9,1206.2 L1035.4,1203.8 L1036.8,1201.3 L1038.3,1198.9 L1039.8,1196.5 L1041.2,1194.1 L1042.7,1191.7 L1044.2,1189.3 L1045.7,1186.9 L1047.2,1184.6 L1048.7,1182.2 L1050.2,1179.8 L1051.7,1177.4 L1053.2,1175.1 L1054.7,1172.7 L1056.3,1170.4 L1057.8,1168.0 L1059.4,1165.7 L1060.9,1163.4 L1062.5,1161.0 L1064.1,1158.7 L1065.7,1156.4 L1067.3,1154.1 L1068.9,1151.8 L1070.5,1149.5 L1072.1,1147.2 L1073.8,1144.9 L1075.4,1142.7 L1077.0,1140.4 L1078.7,1138.1 L1080.3,1135.9 L1082.0,1133.6 L1083.7,1131.3 L1085.4,1129.1 L1087.0,1126.9 L1088.7,1124.6 L1090.4,1122.4 L1092.1,1120.2 L1093.8,1117.9 L1095.5,1115.7 L1097.3,1113.5 L1099.0,1111.3 L1100.7,1109.1 L1102.5,1106.8 L1104.2,1104.6 L1105.9,1102.4 L1107.7,1100.2 L1109.4,1098.0 L1111.2,1095.8 L1113.0,1093.7 L1114.7,1091.5 L1116.5,1089.3 L1118.3,1087.1 L1120.1,1084.9 L1121.8,1082.7 L1123.6,1080.5 L1125.4,1078.4 L1127.2,1076.2 L1129.0,1074.0 L1130.7,1071.8 L1132.5,1069.6 L1134.3,1067.4 L1136.1,1065.2 L1137.8,1063.0 L1139.6,1060.9 L1141.3,1058.6 L1143.1,1056.4 L1144.8,1054.2 L1146.5,1052.0 L1148.3,1049.8 L1150.0,1047.6 L1151.7,1045.3 L1153.3,1043.1 L1155.0,1040.8 L1156.7,1038.6 L1158.3,1036.3 L1159.9,1034.0 L1161.6,1031.7 L1163.1,1029.4 L1164.7,1027.1 L1166.3,1024.8 L1167.8,1022.4 L1169.3,1020.1 L1170.8,1017.7 L1172.3,1015.4 L1173.8,1013.0 L1175.2,1010.6 L1176.6,1008.1 L1178.0,1005.7 L1179.4,1003.3 L1180.7,1000.8 L1182.0,998.3 L1183.3,995.8 L1184.6,993.3 L1185.9,990.8 L1187.1,988.3 L1188.3,985.8 L1189.5,983.2 L1190.7,980.7 L1191.9,978.1 L1193.0,975.5 L1194.1,972.9 L1195.3,970.3 L1196.4,967.8 L1197.5,965.2 L1198.6,962.5 L1199.7,959.9 L1200.7,957.3 L1201.8,954.7 L1202.9,952.1 L1203.9,949.5 L1205.0,946.9 L1206.0,944.2 L1207.0,941.6 L1208.1,939.0 L1209.1,936.4 L1210.2,933.8 L1211.2,931.2 L1212.2,928.6 L1213.3,926.0 L1214.3,923.4 L1215.4,920.8 L1216.4,918.2 L1217.5,915.6 L1217.5,918.6 L1217.4,921.7 L1217.2,924.7 L1216.9,927.6 L1216.4,930.6 L1215.9,933.6 L1215.3,936.5 L1214.6,939.4 L1213.9,942.4 L1213.2,945.3 L1212.4,948.2 L1211.7,951.1 L1210.9,954.1 L1210.2,957.0 L1209.5,959.9 L1208.9,962.9 L1208.3,965.9 L1207.8,968.9 L1207.4,971.9 L1207.1,974.9 L1206.8,977.9 L1206.5,981.0 L1206.2,984.0 L1205.9,987.0 L1205.6,990.0 L1205.2,993.0 L1204.8,996.0 L1204.3,999.0 L1203.7,1001.9 L1203.0,1004.9 L1202.3,1007.8 L1201.5,1010.7 L1200.6,1013.6 L1199.7,1016.4 L1198.8,1019.3 L1197.9,1022.2 L1197.0,1025.0 L1196.1,1027.9 L1195.2,1030.8 L1194.4,1033.7 L1193.5,1036.6 L1192.6,1039.5 L1191.8,1042.4 L1191.0,1045.3 L1190.1,1048.2 L1189.3,1051.1 L1188.5,1054.0 L1187.7,1056.9 L1186.9,1059.8 L1186.1,1062.8 L1185.4,1065.7 L1184.6,1068.6 L1183.8,1071.5 L1183.0,1074.4 L1182.2,1077.3 L1181.5,1080.3 L1180.7,1083.2 L1179.9,1086.1 L1179.2,1089.0 L1178.4,1091.9 L1177.6,1094.8 L1176.8,1097.8 L1176.0,1100.7 L1175.2,1103.6 L1174.4,1106.5 L1173.6,1109.4 L1172.8,1112.3 L1172.0,1115.2 L1171.2,1118.1 L1170.4,1121.0 L1169.5,1123.9 L1168.7,1126.8 L1167.8,1129.7 L1166.9,1132.6 L1166.0,1135.5 L1165.1,1138.4 L1164.2,1141.3 L1163.3,1144.1 L1162.4,1147.0 L1161.4,1149.9 L1160.5,1152.8 L1159.5,1155.6 L1158.5,1158.5 L1157.5,1161.3 L1156.4,1164.2 L1155.4,1167.0 L1154.4,1169.9 L1153.3,1172.7 L1152.2,1175.5 L1151.1,1178.4 L1150.0,1181.2 L1148.8,1184.0 L1147.7,1186.8 L1146.5,1189.6 L1145.3,1192.3 L1144.1,1195.1 L1142.8,1197.9 L1141.6,1200.6 L1140.3,1203.4 L1139.0,1206.1 L1137.7,1208.8 L1136.4,1211.6 L1135.0,1214.3 L1133.6,1216.9 L1132.2,1219.6 L1130.8,1222.3 L1129.4,1224.9 L1127.9,1227.6 L1126.4,1230.2 L1124.9,1232.8 L1123.4,1235.4 L1121.8,1238.0 L1120.2,1240.6 L1118.6,1243.2 L1117.0,1245.7 L1115.3,1248.2 L1113.6,1250.7 L1111.9,1253.2 L1110.1,1255.7 L1108.3,1258.1 L1106.5,1260.5 L1104.7,1262.9 L1102.8,1265.3 L1100.9,1267.6 L1098.9,1269.9 L1097.0,1272.1 L1094.9,1274.4 L1092.9,1276.6 L1090.8,1278.7 L1088.7,1280.8 L1086.5,1282.9 L1084.3,1285.0 L1082.0,1287.0 L1079.8,1288.9 L1077.4,1290.9 L1075.1,1292.8 L1072.7,1294.6 L1070.3,1296.5 L1067.9,1298.3 L1065.4,1300.1 L1063.0,1301.8 L1060.5,1303.5 L1058.0,1305.3 L1055.4,1307.0 L1052.9,1308.6 L1050.3,1310.3 L1047.8,1311.9 L1045.2,1313.6 L1042.6,1315.2 L1040.0,1316.8 L1037.4,1318.4 L1034.8,1320.0 L1032.2,1321.5 L1029.5,1323.0 L1026.9,1324.6 L1024.3,1326.0 L1021.6,1327.5 L1018.9,1328.9 L1016.2,1330.3 L1013.6,1331.6 L1010.8,1332.9 L1008.1,1334.2 L1005.4,1335.4 L1002.6,1336.5 L999.8,1337.6 L997.0,1338.7 L994.2,1339.6 L991.4,1340.5 L988.5,1341.4 L985.7,1342.1 L982.8,1342.9 L979.8,1343.5 L976.9,1344.1 L973.9,1344.6 L971.0,1345.1 L968.0,1345.5 L965.0,1345.9 L962.0,1346.3 L959.0,1346.6 L956.0,1346.8 L952.9,1347.1 L949.9,1347.3 L946.8,1347.5 L943.8,1347.7 L940.8,1347.8 L937.7,1348.0 L934.7,1348.1 L931.6,1348.2 L928.6,1348.4 L925.5,1348.5 L922.5,1348.6 L919.4,1348.7 L916.4,1348.8 L913.3,1349.0 L910.3,1349.1 L907.3,1349.2 L904.2,1349.3 L901.2,1349.4 L898.2,1349.5 L895.2,1349.6 L892.1,1349.7 L889.1,1349.8 L886.1,1349.9 L883.1,1350.0 L880.0,1350.1 L877.0,1350.2 L874.0,1350.3 L871.0,1350.4 L868.0,1350.5 L865.0,1350.5 L861.9,1350.6 L858.9,1350.7 L855.9,1350.8 L852.9,1350.9 L849.9,1350.9 L846.9,1351.0 L843.9,1351.1 L840.8,1351.2 L837.8,1351.2 L834.8,1351.3 L831.8,1351.4 L828.8,1351.4 L825.8,1351.5 L822.8,1351.6 L819.7,1351.6 L816.7,1351.7 L813.7,1351.8 L810.7,1351.8 L807.7,1351.9 L804.7,1352.0 L801.6,1352.0 L798.6,1352.1 L795.6,1352.1 L792.6,1352.2 L789.6,1352.2 L786.5,1352.3 L783.5,1352.4 L780.5,1352.4 L777.5,1352.5 L774.4,1352.5 L771.4,1352.6 L768.4,1352.6 L765.4,1352.7 L762.3,1352.7 L759.3,1352.7 L756.3,1352.8 L753.3,1352.8 L750.2,1352.9 L747.2,1352.9 L744.2,1353.0 L741.2,1353.0 L738.1,1353.0 L735.1,1353.1 L732.1,1353.1 L729.1,1353.2 L726.0,1353.2 L723.0,1353.2 L720.0,1353.3 L717.0,1353.3 L713.9,1353.3 L710.9,1353.4 L707.9,1353.4 L704.8,1353.4 L701.8,1353.4 L698.8,1353.5 L695.8,1353.5 L692.7,1353.5 L689.7,1353.6 L686.7,1353.6 L683.7,1353.6 L680.6,1353.6 L677.6,1353.7 L674.6,1353.7 L671.6,1353.7 L668.5,1353.7 L665.5,1353.7 L662.5,1353.8 L659.5,1353.8 L656.4,1353.8 L653.4,1353.8 L650.4,1353.8 L647.4,1353.8 L644.3,1353.9 L641.3,1353.9 L638.3,1353.9 L635.3,1353.9 L632.2,1353.9 L629.2,1353.9 L626.2,1353.9 L623.2,1353.9 L620.1,1353.9 L617.1,1354.0 L614.1,1354.0 L611.1,1354.0 L608.1,1354.0 L605.1,1354.0 L602.0,1354.0 L599.0,1354.0 L596.0,1354.0" fill="none" stroke="#ff0000" stroke-width="9.3" stroke-linejoin="round" stroke-linecap="round"/>
<path d="M596.0,1351.3 L598.7,1351.3 L601.4,1351.3 L604.1,1351.3 L606.8,1351.3 L609.5,1351.3 L612.2,1351.3 L614.9,1351.3 L617.6,1351.3 L620.3,1351.2 L623.0,1351.2 L625.7,1351.2 L628.4,1351.2 L631.1,1351.2 L633.8,1351.2 L636.5,1351.1 L639.2,1351.1 L641.9,1351.1 L644.6,1351.1 L647.3,1351.0 L650.0,1351.0 L652.7,1351.0 L655.3,1351.0 L658.0,1350.9 L660.7,1350.9 L663.4,1350.9 L666.1,1350.8 L668.8,1350.8 L671.5,1350.8 L674.2,1350.7 L676.9,1350.7 L679.6,1350.6 L682.3,1350.6 L685.0,1350.6 L687.6,1350.5 L690.3,1350.5 L693.0,1350.4 L695.7,1350.4 L698.4,1350.3 L701.1,1350.3 L703.8,1350.2 L706.5,1350.2 L709.2,1350.1 L711.9,1350.0 L714.5,1350.0 L717.2,1349.9 L719.9,1349.9 L722.6,1349.8 L725.3,1349.7 L728.0,1349.7 L730.7,1349.6 L733.4,1349.5 L736.1,1349.5 L738.8,1349.4 L741.4,1349.3 L744.1,1349.3 L746.8,1349.2 L749.5,1349.1 L752.2,1349.0 L754.9,1349.0 L757.6,1348.9 L760.3,1348.8 L763.0,1348.7 L765.7,1348.6 L768.4,1348.6 L771.1,1348.5 L773.8,1348.4 L776.5,1348.3 L779.1,1348.2 L781.8,1348.1 L784.5,1348.0 L787.2,1347.9 L789.9,1347.8 L792.6,1347.7 L795.3,1347.6 L798.0,1347.5 L800.7,1347.4 L803.4,1347.3 L806.1,1347.2 L808.8,1347.1 L811.5,1347.0 L814.2,1346.9 L816.9,1346.8 L819.6,1346.7 L822.3,1346.5 L825.0,1346.4 L827.7,1346.3 L830.4,1346.1 L833.1,1346.0 L835.8,1345.8 L838.5,1345.6 L841.2,1345.4 L843.9,1345.2 L846.6,1345.0 L849.3,1344.8 L852.0,1344.6 L854.7,1344.3 L857.3,1344.1 L860.0,1343.8 L862.7,1343.5 L865.4,1343.2 L868.1,1342.9 L870.8,1342.6 L873.4,1342.2 L876.1,1341.9 L878.8,1341.5 L881.4,1341.1 L884.1,1340.7 L886.8,1340.2 L889.4,1339.8 L892.1,1339.3 L894.7,1338.8 L897.4,1338.2 L900.0,1337.7 L902.7,1337.1 L905.3,1336.5 L908.0,1335.9 L910.6,1335.3 L913.2,1334.6 L915.8,1333.9 L918.4,1333.1 L921.0,1332.3 L923.6,1331.5 L926.1,1330.7 L928.6,1329.8 L931.2,1328.8 L933.6,1327.9 L936.1,1326.8 L938.6,1325.8 L941.0,1324.6 L943.4,1323.5 L945.8,1322.3 L948.1,1321.0 L950.4,1319.7 L952.7,1318.3 L954.9,1316.9 L957.2,1315.4 L959.4,1313.9 L961.5,1312.3 L963.7,1310.7 L965.8,1309.0 L967.9,1307.3 L969.9,1305.6 L972.0,1303.9 L974.0,1302.1 L976.0,1300.3 L977.9,1298.4 L979.9,1296.6 L981.8,1294.7 L983.7,1292.8 L985.6,1290.8 L987.5,1288.9 L989.4,1287.0 L991.2,1285.0 L993.1,1283.0 L994.9,1281.0 L996.7,1279.0 L998.4,1277.0 L1000.2,1275.0 L1002.0,1272.9 L1003.7,1270.9 L1005.4,1268.8 L1007.1,1266.7 L1008.9,1264.6 L1010.5,1262.6 L1012.2,1260.5 L1013.9,1258.3 L1015.5,1256.2 L1017.2,1254.1 L1018.8,1252.0 L1020.5,1249.8 L1022.1,1247.7 L1023.7,1245.5 L1025.3,1243.4 L1026.9,1241.2 L1028.5,1239.0 L1030.0,1236.8 L1031.6,1234.6 L1033.2,1232.5 L1034.7,1230.3 L1036.3,1228.1 L1037.9,1225.9 L1039.4,1223.7 L1040.9,1221.4 L1042.5,1219.2 L1044.0,1217.0 L1045.5,1214.8 L1047.1,1212.6 L1048.6,1210.4 L1050.1,1208.1 L1051.7,1205.9 L1053.2,1203.7 L1054.7,1201.5 L1056.2,1199.2 L1057.8,1197.0 L1059.3,1194.8 L1060.8,1192.6 L1062.3,1190.3 L1063.9,1188.1 L1065.4,1185.9 L1067.0,1183.7 L1068.5,1181.5 L1070.0,1179.3 L1071.6,1177.0 L1073.1,1174.8 L1074.7,1172.6 L1076.3,1170.4 L1077.8,1168.2 L1079.4,1166.1 L1081.0,1163.9 L1082.6,1161.7 L1084.2,1159.5 L1085.8,1157.4 L1087.4,1155.2 L1089.0,1153.1 L1090.7,1150.9 L1092.3,1148.8 L1094.0,1146.7 L1095.6,1144.5 L1097.3,1142.4 L1099.0,1140.3 L1100.7,1138.2 L1102.4,1136.1 L1104.1,1134.1 L1105.9,1132.0 L1107.6,1130.0 L1109.4,1127.9 L1111.1,1125.9 L1112.9,1123.9 L1114.7,1121.8 L1116.5,1119.8 L1118.4,1117.8 L1120.2,1115.8 L1122.0,1113.9 L1123.9,1111.9 L1125.7,1109.9 L1127.6,1107.9 L1129.4,1105.9 L1131.2,1104.0 L1133.1,1102.0 L1134.9,1100.0 L1136.8,1098.0 L1138.6,1096.1 L1140.5,1094.1 L1142.3,1092.1 L1144.1,1090.1 L1145.9,1088.1 L1147.7,1086.1 L1149.5,1084.1 L1151.3,1082.0 L1153.0,1080.0 L1154.8,1078.0 L1156.5,1075.9 L1158.2,1073.8 L1159.9,1071.8 L1161.6,1069.7 L1163.2,1067.6 L1164.8,1065.4 L1166.5,1063.3 L1168.0,1061.1 L1169.6,1059.0 L1171.1,1056.8 L1172.6,1054.5 L1174.1,1052.3 L1175.5,1050.0 L1176.9,1047.8 L1178.3,1045.5 L1179.7,1043.1 L1181.0,1040.8 L1182.3,1038.4 L1183.6,1036.1 L1184.9,1033.7 L1186.1,1031.3 L1187.4,1028.9 L1188.6,1026.5 L1189.8,1024.0 L1191.0,1021.6 L1192.2,1019.2 L1193.3,1016.7 L1194.5,1014.3 L1195.6,1011.8 L1196.8,1009.3 L1197.9,1006.9 L1199.0,1004.4 L1200.1,1001.9 L1201.3,999.4 L1202.4,997.0 L1203.5,994.5 L1204.6,992.1 L1205.8,989.6 L1206.9,987.1 L1208.0,984.7 L1209.2,982.3 L1210.3,979.8 L1211.5,977.4 L1212.7,975.0 L1213.9,972.6 L1215.1,970.2 L1216.3,967.9 L1217.5,965.5 L1217.4,968.4 L1217.2,971.3 L1216.9,974.1 L1216.5,977.0 L1216.0,979.8 L1215.5,982.6 L1214.9,985.4 L1214.3,988.2 L1213.8,991.0 L1213.2,993.8 L1212.7,996.6 L1212.2,999.5 L1211.7,1002.3 L1211.2,1005.1 L1210.7,1008.0 L1210.3,1010.8 L1209.8,1013.7 L1209.4,1016.5 L1208.9,1019.4 L1208.4,1022.2 L1207.9,1025.1 L1207.4,1027.9 L1206.9,1030.8 L1206.4,1033.6 L1205.8,1036.4 L1205.3,1039.3 L1204.7,1042.1 L1204.1,1045.0 L1203.5,1047.8 L1202.9,1050.6 L1202.2,1053.4 L1201.6,1056.3 L1200.9,1059.1 L1200.2,1061.9 L1199.5,1064.7 L1198.8,1067.5 L1198.1,1070.3 L1197.4,1073.1 L1196.6,1075.9 L1195.9,1078.7 L1195.1,1081.5 L1194.3,1084.2 L1193.5,1087.0 L1192.7,1089.8 L1191.8,1092.5 L1191.0,1095.3 L1190.1,1098.1 L1189.2,1100.8 L1188.4,1103.6 L1187.5,1106.3 L1186.6,1109.0 L1185.7,1111.8 L1184.7,1114.5 L1183.8,1117.3 L1182.9,1120.0 L1181.9,1122.7 L1181.0,1125.5 L1180.0,1128.2 L1179.0,1130.9 L1178.1,1133.6 L1177.1,1136.4 L1176.1,1139.1 L1175.1,1141.8 L1174.1,1144.5 L1173.1,1147.2 L1172.1,1149.9 L1171.1,1152.7 L1170.1,1155.4 L1169.0,1158.1 L1168.0,1160.8 L1167.0,1163.5 L1166.0,1166.2 L1164.9,1169.0 L1163.9,1171.7 L1162.9,1174.4 L1161.8,1177.1 L1160.8,1179.8 L1159.7,1182.5 L1158.7,1185.2 L1157.6,1188.0 L1156.5,1190.7 L1155.5,1193.4 L1154.4,1196.1 L1153.3,1198.7 L1152.2,1201.4 L1151.1,1204.1 L1149.9,1206.8 L1148.8,1209.4 L1147.6,1212.1 L1146.4,1214.7 L1145.2,1217.3 L1144.0,1220.0 L1142.7,1222.6 L1141.5,1225.2 L1140.2,1227.7 L1138.8,1230.3 L1137.5,1232.8 L1136.1,1235.4 L1134.7,1237.9 L1133.3,1240.4 L1131.9,1242.9 L1130.4,1245.3 L1128.8,1247.8 L1127.3,1250.2 L1125.7,1252.6 L1124.1,1255.0 L1122.4,1257.3 L1120.7,1259.6 L1119.0,1261.9 L1117.2,1264.2 L1115.4,1266.5 L1113.5,1268.7 L1111.6,1270.9 L1109.7,1273.1 L1107.7,1275.2 L1105.7,1277.4 L1103.7,1279.4 L1101.6,1281.5 L1099.5,1283.5 L1097.4,1285.5 L1095.2,1287.5 L1093.0,1289.4 L1090.8,1291.3 L1088.6,1293.2 L1086.3,1295.0 L1084.1,1296.8 L1081.8,1298.5 L1079.4,1300.3 L1077.1,1301.9 L1074.8,1303.6 L1072.4,1305.2 L1070.0,1306.8 L1067.6,1308.3 L1065.2,1309.9 L1062.8,1311.4 L1060.4,1312.9 L1057.9,1314.5 L1055.5,1316.0 L1053.0,1317.6 L1050.5,1319.1 L1048.1,1320.7 L1045.6,1322.3 L1043.0,1323.8 L1040.5,1325.3 L1038.0,1326.8 L1035.4,1328.3 L1032.8,1329.7 L1030.2,1331.0 L1027.6,1332.3 L1025.0,1333.5 L1022.3,1334.7 L1019.7,1335.8 L1017.0,1336.8 L1014.3,1337.8 L1011.6,1338.8 L1008.9,1339.7 L1006.1,1340.5 L1003.4,1341.3 L1000.6,1342.0 L997.8,1342.7 L995.1,1343.3 L992.3,1343.9 L989.5,1344.5 L986.6,1345.0 L983.8,1345.5 L981.0,1346.0 L978.1,1346.4 L975.3,1346.8 L972.4,1347.1 L969.5,1347.5 L966.7,1347.7 L963.8,1348.0 L960.9,1348.3 L958.0,1348.5 L955.1,1348.7 L952.2,1348.9 L949.3,1349.0 L946.4,1349.2 L943.5,1349.3 L940.6,1349.5 L937.7,1349.6 L934.8,1349.7 L931.8,1349.8 L928.9,1349.9 L926.0,1349.9 L923.1,1350.0 L920.2,1350.1 L917.3,1350.2 L914.4,1350.3 L911.5,1350.3 L908.6,1350.4 L905.7,1350.5 L902.8,1350.5 L899.9,1350.6 L897.0,1350.7 L894.1,1350.8 L891.2,1350.8 L888.3,1350.9 L885.4,1350.9 L882.5,1351.0 L879.6,1351.1 L876.7,1351.1 L873.8,1351.2 L870.9,1351.2 L868.0,1351.3 L865.1,1351.4 L862.3,1351.4 L859.4,1351.5 L856.5,1351.5 L853.6,1351.6 L850.7,1351.6 L847.8,1351.7 L844.9,1351.7 L842.0,1351.8 L839.1,1351.8 L836.3,1351.9 L833.4,1351.9 L830.5,1352.0 L827.6,1352.0 L824.7,1352.1 L821.8,1352.1 L818.9,1352.2 L816.0,1352.2 L813.1,1352.3 L810.3,1352.3 L807.4,1352.4 L804.5,1352.4 L801.6,1352.5 L798.7,1352.5 L795.8,1352.6 L792.9,1352.6 L790.0,1352.7 L787.1,1352.7 L784.2,1352.8 L781.3,1352.8 L778.4,1352.9 L775.5,1352.9 L772.6,1353.0 L769.8,1353.0 L766.9,1353.1 L764.0,1353.1 L761.1,1353.1 L758.2,1353.2 L755.3,1353.2 L752.4,1353.3 L749.5,1353.3 L746.6,1353.4 L743.7,1353.4 L740.8,1353.4 L737.9,1353.5 L735.0,1353.5 L732.1,1353.6 L729.2,1353.6 L726.3,1353.6 L723.4,1353.7 L720.5,1353.7 L717.6,1353.7 L714.7,1353.8 L711.8,1353.8 L708.9,1353.8 L706.0,1353.9 L703.1,1353.9 L700.2,1353.9 L697.3,1353.9 L694.4,1354.0 L691.5,1354.0 L688.6,1354.0 L685.7,1354.0 L682.8,1354.1 L679.9,1354.1 L677.0,1354.1 L674.1,1354.1 L671.2,1354.1 L668.3,1354.2 L665.5,1354.2 L662.6,1354.2 L659.7,1354.2 L656.8,1354.2 L653.9,1354.2 L651.0,1354.2 L648.1,1354.2 L645.2,1354.2 L642.3,1354.2 L639.4,1354.2 L636.5,1354.2 L633.6,1354.2 L630.7,1354.2 L627.8,1354.2 L624.9,1354.2 L622.0,1354.2 L619.1,1354.2 L616.2,1354.2 L613.3,1354.1 L610.5,1354.1 L607.6,1354.1 L604.7,1354.1 L601.8,1354.1 L598.9,1354.0 L596.0,1354.0" fill="none" stroke="#0000ff" stroke-width="9.3" stroke-linejoin="round" stroke-linecap="round"/>
<path d="M596.0,1351.4 L598.6,1351.4 L601.2,1351.4 L603.8,1351.4 L606.4,1351.4 L608.9,1351.4 L611.5,1351.4 L614.1,1351.4 L616.7,1351.4 L619.3,1351.4 L621.9,1351.4 L624.5,1351.4 L627.1,1351.4 L629.6,1351.4 L632.2,1351.4 L634.8,1351.4 L637.4,1351.3 L640.0,1351.3 L642.6,1351.3 L645.2,1351.3 L647.8,1351.3 L650.3,1351.3 L652.9,1351.2 L655.5,1351.2 L658.1,1351.2 L660.7,1351.2 L663.3,1351.2 L665.9,1351.1 L668.5,1351.1 L671.0,1351.1 L673.6,1351.1 L676.2,1351.0 L678.8,1351.0 L681.4,1351.0 L684.0,1350.9 L686.6,1350.9 L689.2,1350.9 L691.7,1350.8 L694.3,1350.8 L696.9,1350.8 L699.5,1350.7 L702.1,1350.7 L704.7,1350.6 L707.3,1350.6 L709.9,1350.6 L712.4,1350.5 L715.0,1350.5 L717.6,1350.4 L720.2,1350.4 L722.8,1350.3 L725.4,1350.3 L728.0,1350.2 L730.5,1350.2 L733.1,1350.1 L735.7,1350.1 L738.3,1350.0 L740.9,1350.0 L743.5,1349.9 L746.1,1349.8 L748.6,1349.8 L751.2,1349.7 L753.8,1349.7 L756.4,1349.6 L759.0,1349.5 L761.6,1349.5 L764.2,1349.4 L766.7,1349.4 L769.3,1349.3 L771.9,1349.2 L774.5,1349.1 L777.1,1349.1 L779.7,1349.0 L782.3,1348.9 L784.8,1348.9 L787.4,1348.8 L790.0,1348.7 L792.6,1348.6 L795.2,1348.6 L797.8,1348.5 L800.4,1348.4 L802.9,1348.3 L805.5,1348.3 L808.1,1348.2 L810.7,1348.1 L813.3,1348.0 L815.9,1347.9 L818.4,1347.8 L821.0,1347.7 L823.6,1347.6 L826.2,1347.5 L828.8,1347.4 L831.4,1347.2 L834.0,1347.1 L836.5,1347.0 L839.1,1346.8 L841.7,1346.7 L844.3,1346.6 L846.9,1346.4 L849.5,1346.2 L852.0,1346.1 L854.6,1345.9 L857.2,1345.7 L859.8,1345.5 L862.4,1345.3 L864.9,1345.1 L867.5,1344.8 L870.1,1344.6 L872.7,1344.4 L875.3,1344.1 L877.9,1343.8 L880.4,1343.6 L883.0,1343.3 L885.6,1343.0 L888.2,1342.6 L890.8,1342.3 L893.3,1342.0 L895.9,1341.6 L898.5,1341.3 L901.1,1340.9 L903.6,1340.5 L906.2,1340.0 L908.8,1339.6 L911.3,1339.1 L913.9,1338.6 L916.4,1338.1 L918.9,1337.6 L921.5,1337.0 L924.0,1336.4 L926.5,1335.7 L929.0,1335.1 L931.5,1334.4 L933.9,1333.6 L936.4,1332.9 L938.8,1332.0 L941.3,1331.2 L943.7,1330.3 L946.1,1329.4 L948.5,1328.4 L950.9,1327.4 L953.2,1326.4 L955.5,1325.3 L957.9,1324.2 L960.2,1323.0 L962.4,1321.9 L964.7,1320.6 L966.9,1319.4 L969.1,1318.1 L971.3,1316.8 L973.5,1315.4 L975.6,1314.0 L977.8,1312.6 L979.9,1311.1 L981.9,1309.6 L984.0,1308.1 L986.0,1306.5 L988.0,1304.9 L990.0,1303.3 L991.9,1301.6 L993.9,1299.9 L995.8,1298.2 L997.6,1296.5 L999.5,1294.7 L1001.3,1292.9 L1003.2,1291.1 L1005.0,1289.3 L1006.8,1287.4 L1008.5,1285.5 L1010.3,1283.6 L1012.0,1281.7 L1013.7,1279.8 L1015.4,1277.8 L1017.1,1275.8 L1018.8,1273.8 L1020.5,1271.8 L1022.1,1269.8 L1023.7,1267.8 L1025.4,1265.7 L1027.0,1263.7 L1028.6,1261.6 L1030.2,1259.5 L1031.8,1257.5 L1033.3,1255.4 L1034.9,1253.3 L1036.5,1251.2 L1038.0,1249.1 L1039.6,1246.9 L1041.1,1244.8 L1042.7,1242.7 L1044.2,1240.6 L1045.7,1238.5 L1047.3,1236.4 L1048.8,1234.2 L1050.3,1232.1 L1051.8,1230.0 L1053.4,1227.9 L1054.9,1225.8 L1056.4,1223.7 L1057.9,1221.6 L1059.5,1219.5 L1061.0,1217.4 L1062.5,1215.3 L1064.0,1213.3 L1065.6,1211.2 L1067.1,1209.1 L1068.6,1207.0 L1070.2,1204.9 L1071.7,1202.9 L1073.2,1200.8 L1074.8,1198.8 L1076.3,1196.7 L1077.9,1194.7 L1079.5,1192.6 L1081.0,1190.6 L1082.6,1188.6 L1084.2,1186.5 L1085.8,1184.5 L1087.4,1182.5 L1089.0,1180.5 L1090.6,1178.5 L1092.2,1176.5 L1093.8,1174.5 L1095.4,1172.5 L1097.1,1170.5 L1098.7,1168.6 L1100.4,1166.6 L1102.1,1164.6 L1103.8,1162.7 L1105.4,1160.8 L1107.2,1158.8 L1108.9,1156.9 L1110.6,1155.0 L1112.3,1153.1 L1114.1,1151.1 L1115.8,1149.2 L1117.6,1147.3 L1119.3,1145.4 L1121.1,1143.5 L1122.9,1141.7 L1124.6,1139.8 L1126.4,1137.9 L1128.2,1136.0 L1130.0,1134.1 L1131.8,1132.2 L1133.6,1130.3 L1135.3,1128.5 L1137.1,1126.6 L1138.9,1124.7 L1140.7,1122.8 L1142.5,1120.9 L1144.2,1119.0 L1146.0,1117.1 L1147.8,1115.2 L1149.5,1113.3 L1151.3,1111.4 L1153.0,1109.5 L1154.8,1107.5 L1156.5,1105.6 L1158.2,1103.7 L1159.9,1101.7 L1161.6,1099.8 L1163.3,1097.8 L1165.0,1095.8 L1166.7,1093.9 L1168.3,1091.9 L1169.9,1089.9 L1171.6,1087.9 L1173.2,1085.8 L1174.8,1083.8 L1176.4,1081.7 L1177.9,1079.7 L1179.5,1077.6 L1181.0,1075.5 L1182.5,1073.5 L1184.0,1071.4 L1185.5,1069.2 L1187.0,1067.1 L1188.5,1065.0 L1189.9,1062.9 L1191.3,1060.7 L1192.7,1058.5 L1194.1,1056.4 L1195.5,1054.2 L1196.9,1052.0 L1198.2,1049.8 L1199.6,1047.6 L1200.9,1045.4 L1202.2,1043.1 L1203.5,1040.9 L1204.7,1038.6 L1206.0,1036.4 L1207.2,1034.1 L1208.4,1031.8 L1209.6,1029.5 L1210.8,1027.2 L1212.0,1024.9 L1213.1,1022.6 L1214.2,1020.3 L1215.3,1017.9 L1216.4,1015.6 L1217.5,1013.2 L1217.2,1015.9 L1216.9,1018.7 L1216.5,1021.4 L1216.0,1024.1 L1215.6,1026.8 L1215.0,1029.5 L1214.5,1032.2 L1213.9,1034.9 L1213.3,1037.5 L1212.7,1040.2 L1212.1,1042.9 L1211.4,1045.6 L1210.7,1048.2 L1210.1,1050.9 L1209.4,1053.6 L1208.7,1056.3 L1208.0,1058.9 L1207.3,1061.6 L1206.6,1064.3 L1205.9,1067.0 L1205.2,1069.6 L1204.5,1072.3 L1203.8,1075.0 L1203.1,1077.7 L1202.4,1080.4 L1201.7,1083.0 L1201.0,1085.7 L1200.3,1088.4 L1199.6,1091.1 L1198.9,1093.7 L1198.2,1096.4 L1197.5,1099.1 L1196.8,1101.8 L1196.1,1104.4 L1195.3,1107.1 L1194.6,1109.8 L1193.9,1112.5 L1193.1,1115.1 L1192.4,1117.8 L1191.6,1120.4 L1190.9,1123.1 L1190.1,1125.8 L1189.3,1128.4 L1188.5,1131.1 L1187.7,1133.7 L1186.9,1136.4 L1186.1,1139.0 L1185.3,1141.7 L1184.5,1144.3 L1183.6,1146.9 L1182.8,1149.6 L1181.9,1152.2 L1181.1,1154.8 L1180.2,1157.4 L1179.3,1160.0 L1178.4,1162.7 L1177.5,1165.3 L1176.6,1167.9 L1175.6,1170.5 L1174.7,1173.1 L1173.7,1175.7 L1172.7,1178.2 L1171.7,1180.8 L1170.7,1183.4 L1169.7,1186.0 L1168.7,1188.5 L1167.6,1191.1 L1166.6,1193.7 L1165.5,1196.2 L1164.4,1198.7 L1163.3,1201.3 L1162.2,1203.8 L1161.1,1206.3 L1159.9,1208.9 L1158.8,1211.4 L1157.6,1213.9 L1156.4,1216.4 L1155.1,1218.9 L1153.9,1221.4 L1152.6,1223.9 L1151.4,1226.3 L1150.1,1228.8 L1148.8,1231.2 L1147.4,1233.7 L1146.1,1236.1 L1144.7,1238.5 L1143.3,1240.9 L1141.9,1243.2 L1140.4,1245.6 L1139.0,1248.0 L1137.5,1250.3 L1136.0,1252.6 L1134.4,1254.9 L1132.9,1257.2 L1131.3,1259.4 L1129.7,1261.7 L1128.0,1263.9 L1126.4,1266.1 L1124.7,1268.2 L1123.0,1270.4 L1121.2,1272.5 L1119.5,1274.6 L1117.7,1276.7 L1115.8,1278.7 L1114.0,1280.7 L1112.1,1282.7 L1110.2,1284.7 L1108.2,1286.6 L1106.2,1288.5 L1104.2,1290.4 L1102.2,1292.3 L1100.1,1294.1 L1098.0,1295.9 L1095.9,1297.6 L1093.7,1299.3 L1091.5,1301.0 L1089.3,1302.7 L1087.1,1304.3 L1084.8,1305.9 L1082.5,1307.5 L1080.2,1309.1 L1077.9,1310.6 L1075.5,1312.1 L1073.2,1313.5 L1070.8,1315.0 L1068.4,1316.4 L1065.9,1317.8 L1063.5,1319.2 L1061.1,1320.5 L1058.6,1321.9 L1056.1,1323.2 L1053.7,1324.5 L1051.2,1325.7 L1048.7,1327.0 L1046.2,1328.2 L1043.7,1329.4 L1041.1,1330.5 L1038.6,1331.7 L1036.1,1332.8 L1033.5,1333.8 L1030.9,1334.9 L1028.4,1335.9 L1025.8,1336.9 L1023.2,1337.8 L1020.6,1338.7 L1018.0,1339.6 L1015.4,1340.4 L1012.7,1341.2 L1010.1,1341.9 L1007.5,1342.7 L1004.8,1343.3 L1002.1,1344.0 L999.5,1344.6 L996.8,1345.1 L994.1,1345.6 L991.4,1346.1 L988.7,1346.6 L986.0,1347.0 L983.3,1347.4 L980.6,1347.8 L977.8,1348.1 L975.1,1348.4 L972.4,1348.7 L969.6,1349.0 L966.9,1349.2 L964.1,1349.4 L961.4,1349.6 L958.6,1349.8 L955.8,1350.0 L953.1,1350.1 L950.3,1350.2 L947.5,1350.3 L944.8,1350.4 L942.0,1350.5 L939.2,1350.6 L936.4,1350.6 L933.6,1350.7 L930.8,1350.7 L928.1,1350.8 L925.3,1350.8 L922.5,1350.8 L919.7,1350.9 L916.9,1350.9 L914.1,1350.9 L911.4,1350.9 L908.6,1351.0 L905.8,1351.0 L903.0,1351.0 L900.2,1351.0 L897.5,1351.1 L894.7,1351.1 L891.9,1351.2 L889.1,1351.2 L886.4,1351.2 L883.6,1351.3 L880.8,1351.3 L878.1,1351.4 L875.3,1351.4 L872.5,1351.5 L869.8,1351.5 L867.0,1351.6 L864.2,1351.7 L861.5,1351.7 L858.7,1351.8 L855.9,1351.8 L853.2,1351.9 L850.4,1352.0 L847.7,1352.0 L844.9,1352.1 L842.1,1352.1 L839.4,1352.2 L836.6,1352.3 L833.9,1352.3 L831.1,1352.4 L828.4,1352.4 L825.6,1352.5 L822.8,1352.6 L820.1,1352.6 L817.3,1352.7 L814.6,1352.7 L811.8,1352.8 L809.0,1352.9 L806.3,1352.9 L803.5,1353.0 L800.8,1353.0 L798.0,1353.1 L795.2,1353.1 L792.5,1353.1 L789.7,1353.2 L786.9,1353.2 L784.2,1353.3 L781.4,1353.3 L778.7,1353.4 L775.9,1353.4 L773.1,1353.4 L770.4,1353.5 L767.6,1353.5 L764.8,1353.5 L762.1,1353.6 L759.3,1353.6 L756.5,1353.6 L753.8,1353.6 L751.0,1353.7 L748.2,1353.7 L745.5,1353.7 L742.7,1353.7 L739.9,1353.8 L737.1,1353.8 L734.4,1353.8 L731.6,1353.8 L728.8,1353.8 L726.1,1353.9 L723.3,1353.9 L720.5,1353.9 L717.8,1353.9 L715.0,1353.9 L712.2,1353.9 L709.4,1353.9 L706.7,1354.0 L703.9,1354.0 L701.1,1354.0 L698.4,1354.0 L695.6,1354.0 L692.8,1354.0 L690.1,1354.0 L687.3,1354.0 L684.5,1354.0 L681.7,1354.0 L679.0,1354.0 L676.2,1354.0 L673.4,1354.0 L670.7,1354.0 L667.9,1354.0 L665.1,1354.0 L662.4,1354.0 L659.6,1354.0 L656.8,1354.0 L654.1,1354.0 L651.3,1354.0 L648.5,1354.0 L645.8,1354.0 L643.0,1354.0 L640.2,1354.0 L637.5,1354.0 L634.7,1354.0 L631.9,1354.0 L629.2,1354.0 L626.4,1354.0 L623.6,1354.0 L620.9,1354.0 L618.1,1354.0 L615.3,1354.0 L612.6,1354.0 L609.8,1354.0 L607.0,1354.0 L604.3,1354.0 L601.5,1354.0 L598.8,1354.0 L596.0,1354.0" fill="none" stroke="#ff00ff" stroke-width="9.3" stroke-linejoin="round" stroke-linecap="round"/>
<path d="M596.0,1352.4 L598.5,1352.4 L601.0,1352.4 L603.5,1352.4 L606.0,1352.4 L608.5,1352.3 L611.0,1352.3 L613.5,1352.3 L616.0,1352.3 L618.5,1352.3 L621.0,1352.3 L623.5,1352.3 L626.0,1352.3 L628.5,1352.3 L630.9,1352.3 L633.4,1352.3 L635.9,1352.3 L638.4,1352.3 L640.9,1352.3 L643.4,1352.3 L645.9,1352.3 L648.4,1352.3 L650.9,1352.3 L653.4,1352.3 L655.9,1352.3 L658.4,1352.3 L660.9,1352.3 L663.4,1352.3 L665.9,1352.3 L668.4,1352.3 L670.9,1352.3 L673.4,1352.3 L675.9,1352.3 L678.4,1352.3 L680.9,1352.3 L683.4,1352.2 L685.9,1352.2 L688.4,1352.2 L690.9,1352.2 L693.4,1352.2 L695.9,1352.2 L698.4,1352.1 L700.9,1352.1 L703.4,1352.1 L705.9,1352.1 L708.4,1352.0 L710.9,1352.0 L713.4,1352.0 L715.9,1351.9 L718.4,1351.9 L720.9,1351.9 L723.4,1351.8 L725.9,1351.8 L728.4,1351.8 L730.9,1351.7 L733.4,1351.7 L735.9,1351.6 L738.4,1351.6 L740.9,1351.5 L743.4,1351.5 L745.9,1351.4 L748.4,1351.4 L750.9,1351.3 L753.4,1351.3 L755.9,1351.2 L758.3,1351.1 L760.8,1351.1 L763.3,1351.0 L765.8,1351.0 L768.3,1350.9 L770.8,1350.8 L773.3,1350.8 L775.8,1350.7 L778.3,1350.6 L780.8,1350.5 L783.3,1350.5 L785.8,1350.4 L788.2,1350.3 L790.7,1350.2 L793.2,1350.2 L795.7,1350.1 L798.2,1350.0 L800.7,1349.9 L803.2,1349.8 L805.6,1349.7 L808.1,1349.7 L810.6,1349.6 L813.1,1349.5 L815.6,1349.4 L818.1,1349.3 L820.5,1349.2 L823.0,1349.1 L825.5,1349.0 L828.0,1348.9 L830.5,1348.8 L833.0,1348.7 L835.4,1348.5 L837.9,1348.4 L840.4,1348.3 L842.9,1348.2 L845.4,1348.1 L847.9,1347.9 L850.4,1347.8 L852.9,1347.7 L855.4,1347.5 L857.9,1347.4 L860.4,1347.2 L862.9,1347.1 L865.4,1346.9 L867.9,1346.8 L870.4,1346.6 L872.9,1346.5 L875.4,1346.3 L878.0,1346.1 L880.5,1345.9 L883.0,1345.8 L885.5,1345.6 L888.0,1345.4 L890.6,1345.2 L893.1,1345.0 L895.6,1344.7 L898.1,1344.5 L900.7,1344.3 L903.2,1344.0 L905.7,1343.7 L908.2,1343.4 L910.7,1343.1 L913.2,1342.8 L915.7,1342.5 L918.2,1342.1 L920.7,1341.7 L923.2,1341.3 L925.6,1340.9 L928.1,1340.5 L930.5,1340.0 L933.0,1339.5 L935.4,1339.0 L937.8,1338.5 L940.3,1337.9 L942.7,1337.3 L945.1,1336.7 L947.4,1336.0 L949.8,1335.3 L952.1,1334.6 L954.5,1333.9 L956.8,1333.1 L959.1,1332.2 L961.4,1331.4 L963.7,1330.5 L966.0,1329.5 L968.2,1328.6 L970.4,1327.6 L972.6,1326.5 L974.8,1325.4 L977.0,1324.3 L979.2,1323.1 L981.3,1321.9 L983.4,1320.7 L985.5,1319.4 L987.6,1318.1 L989.7,1316.8 L991.7,1315.4 L993.8,1314.1 L995.8,1312.6 L997.8,1311.2 L999.8,1309.7 L1001.8,1308.2 L1003.8,1306.7 L1005.7,1305.1 L1007.6,1303.5 L1009.5,1301.9 L1011.4,1300.3 L1013.3,1298.7 L1015.2,1297.0 L1017.0,1295.3 L1018.9,1293.6 L1020.7,1291.9 L1022.5,1290.1 L1024.3,1288.3 L1026.1,1286.5 L1027.9,1284.7 L1029.6,1282.9 L1031.3,1281.1 L1033.1,1279.3 L1034.8,1277.4 L1036.5,1275.5 L1038.1,1273.6 L1039.8,1271.8 L1041.5,1269.8 L1043.1,1267.9 L1044.7,1266.0 L1046.3,1264.1 L1047.9,1262.2 L1049.5,1260.2 L1051.1,1258.3 L1052.7,1256.3 L1054.2,1254.3 L1055.8,1252.4 L1057.3,1250.4 L1058.9,1248.4 L1060.4,1246.4 L1061.9,1244.5 L1063.4,1242.5 L1064.9,1240.5 L1066.4,1238.5 L1068.0,1236.5 L1069.5,1234.5 L1070.9,1232.5 L1072.4,1230.5 L1073.9,1228.5 L1075.4,1226.5 L1076.9,1224.5 L1078.4,1222.5 L1079.9,1220.5 L1081.4,1218.5 L1082.9,1216.5 L1084.4,1214.5 L1085.9,1212.5 L1087.4,1210.6 L1088.9,1208.6 L1090.5,1206.6 L1092.0,1204.6 L1093.5,1202.7 L1095.1,1200.7 L1096.6,1198.8 L1098.2,1196.8 L1099.7,1194.9 L1101.3,1193.0 L1102.9,1191.0 L1104.5,1189.1 L1106.1,1187.2 L1107.7,1185.3 L1109.3,1183.4 L1110.9,1181.5 L1112.5,1179.7 L1114.2,1177.8 L1115.8,1175.9 L1117.5,1174.0 L1119.1,1172.2 L1120.8,1170.3 L1122.5,1168.5 L1124.1,1166.6 L1125.8,1164.8 L1127.5,1162.9 L1129.2,1161.1 L1130.9,1159.2 L1132.6,1157.4 L1134.3,1155.6 L1136.0,1153.8 L1137.7,1151.9 L1139.4,1150.1 L1141.1,1148.3 L1142.8,1146.5 L1144.6,1144.7 L1146.3,1142.9 L1148.0,1141.1 L1149.7,1139.2 L1151.5,1137.4 L1153.2,1135.6 L1154.9,1133.8 L1156.7,1132.0 L1158.4,1130.2 L1160.1,1128.4 L1161.9,1126.6 L1163.6,1124.8 L1165.3,1123.0 L1167.1,1121.2 L1168.8,1119.4 L1170.5,1117.6 L1172.2,1115.8 L1174.0,1114.0 L1175.7,1112.1 L1177.4,1110.3 L1179.1,1108.5 L1180.7,1106.6 L1182.4,1104.8 L1184.1,1102.9 L1185.7,1101.1 L1187.4,1099.2 L1189.0,1097.3 L1190.6,1095.4 L1192.2,1093.5 L1193.8,1091.6 L1195.4,1089.7 L1196.9,1087.7 L1198.5,1085.8 L1200.0,1083.8 L1201.5,1081.8 L1202.9,1079.8 L1204.4,1077.8 L1205.8,1075.7 L1207.2,1073.7 L1208.6,1071.6 L1210.0,1069.5 L1211.3,1067.4 L1212.6,1065.3 L1213.9,1063.1 L1215.1,1060.9 L1216.3,1058.7 L1217.5,1056.5 L1216.9,1059.0 L1216.3,1061.6 L1215.7,1064.1 L1215.0,1066.7 L1214.4,1069.2 L1213.8,1071.8 L1213.2,1074.4 L1212.6,1076.9 L1212.0,1079.5 L1211.3,1082.0 L1210.7,1084.6 L1210.1,1087.2 L1209.5,1089.8 L1208.8,1092.3 L1208.2,1094.9 L1207.6,1097.5 L1206.9,1100.0 L1206.3,1102.6 L1205.6,1105.2 L1205.0,1107.8 L1204.3,1110.3 L1203.6,1112.9 L1202.9,1115.5 L1202.3,1118.1 L1201.6,1120.6 L1200.9,1123.2 L1200.2,1125.8 L1199.5,1128.3 L1198.8,1130.9 L1198.0,1133.5 L1197.3,1136.0 L1196.6,1138.6 L1195.8,1141.1 L1195.1,1143.7 L1194.3,1146.3 L1193.5,1148.8 L1192.7,1151.3 L1191.9,1153.9 L1191.1,1156.4 L1190.3,1159.0 L1189.5,1161.5 L1188.6,1164.0 L1187.8,1166.5 L1186.9,1169.0 L1186.0,1171.6 L1185.1,1174.1 L1184.2,1176.6 L1183.3,1179.1 L1182.4,1181.5 L1181.4,1184.0 L1180.5,1186.5 L1179.5,1189.0 L1178.5,1191.4 L1177.5,1193.9 L1176.5,1196.3 L1175.5,1198.8 L1174.4,1201.2 L1173.3,1203.7 L1172.3,1206.1 L1171.2,1208.5 L1170.0,1210.9 L1168.9,1213.3 L1167.8,1215.7 L1166.6,1218.1 L1165.4,1220.4 L1164.2,1222.8 L1163.0,1225.2 L1161.7,1227.5 L1160.4,1229.8 L1159.2,1232.2 L1157.8,1234.5 L1156.5,1236.8 L1155.2,1239.1 L1153.8,1241.4 L1152.4,1243.6 L1151.0,1245.9 L1149.6,1248.1 L1148.1,1250.4 L1146.6,1252.6 L1145.1,1254.8 L1143.6,1257.0 L1142.1,1259.2 L1140.5,1261.4 L1138.9,1263.5 L1137.3,1265.6 L1135.7,1267.8 L1134.0,1269.9 L1132.4,1271.9 L1130.7,1274.0 L1128.9,1276.0 L1127.2,1278.0 L1125.5,1280.0 L1123.7,1282.0 L1121.9,1283.9 L1120.0,1285.9 L1118.2,1287.8 L1116.3,1289.6 L1114.4,1291.5 L1112.5,1293.3 L1110.6,1295.1 L1108.6,1296.9 L1106.6,1298.6 L1104.6,1300.3 L1102.6,1302.0 L1100.6,1303.6 L1098.5,1305.2 L1096.4,1306.8 L1094.3,1308.4 L1092.2,1309.9 L1090.0,1311.3 L1087.8,1312.8 L1085.6,1314.2 L1083.4,1315.6 L1081.2,1316.9 L1078.9,1318.2 L1076.6,1319.5 L1074.3,1320.7 L1072.0,1321.9 L1069.6,1323.0 L1067.3,1324.2 L1064.9,1325.3 L1062.5,1326.3 L1060.1,1327.4 L1057.6,1328.4 L1055.2,1329.3 L1052.7,1330.3 L1050.3,1331.2 L1047.8,1332.1 L1045.3,1333.0 L1042.8,1333.8 L1040.2,1334.6 L1037.7,1335.4 L1035.2,1336.1 L1032.6,1336.9 L1030.0,1337.6 L1027.5,1338.3 L1024.9,1338.9 L1022.3,1339.6 L1019.7,1340.2 L1017.1,1340.8 L1014.5,1341.4 L1011.9,1342.0 L1009.3,1342.5 L1006.6,1343.0 L1004.0,1343.5 L1001.4,1344.0 L998.8,1344.5 L996.1,1345.0 L993.5,1345.4 L990.9,1345.9 L988.2,1346.3 L985.6,1346.7 L983.0,1347.1 L980.3,1347.5 L977.7,1347.8 L975.1,1348.2 L972.4,1348.5 L969.8,1348.8 L967.2,1349.1 L964.5,1349.4 L961.9,1349.7 L959.2,1350.0 L956.6,1350.3 L954.0,1350.5 L951.3,1350.8 L948.7,1351.0 L946.0,1351.2 L943.4,1351.4 L940.7,1351.6 L938.1,1351.8 L935.5,1352.0 L932.8,1352.2 L930.2,1352.3 L927.5,1352.5 L924.9,1352.6 L922.2,1352.8 L919.6,1352.9 L916.9,1353.0 L914.3,1353.1 L911.6,1353.2 L909.0,1353.3 L906.3,1353.4 L903.7,1353.5 L901.0,1353.6 L898.4,1353.6 L895.7,1353.7 L893.1,1353.7 L890.4,1353.8 L887.8,1353.8 L885.1,1353.9 L882.5,1353.9 L879.8,1353.9 L877.1,1354.0 L874.5,1354.0 L871.8,1354.0 L869.2,1354.0 L866.5,1354.0 L863.9,1354.0 L861.2,1354.0 L858.6,1354.0 L855.9,1354.0 L853.3,1354.0 L850.6,1354.0 L848.0,1354.0 L845.3,1354.0 L842.6,1354.0 L840.0,1353.9 L837.3,1353.9 L834.7,1353.9 L832.0,1353.9 L829.4,1353.9 L826.7,1353.9 L824.1,1353.8 L821.4,1353.8 L818.8,1353.8 L816.1,1353.8 L813.4,1353.8 L810.8,1353.7 L808.1,1353.7 L805.5,1353.7 L802.8,1353.7 L800.2,1353.7 L797.5,1353.7 L794.9,1353.7 L792.2,1353.7 L789.6,1353.7 L786.9,1353.7 L784.3,1353.7 L781.6,1353.7 L779.0,1353.7 L776.3,1353.7 L773.7,1353.7 L771.0,1353.7 L768.4,1353.7 L765.7,1353.7 L763.1,1353.7 L760.4,1353.8 L757.7,1353.8 L755.1,1353.8 L752.4,1353.8 L749.8,1353.8 L747.1,1353.8 L744.5,1353.9 L741.8,1353.9 L739.2,1353.9 L736.5,1353.9 L733.9,1354.0 L731.2,1354.0 L728.6,1354.0 L725.9,1354.0 L723.3,1354.0 L720.6,1354.1 L718.0,1354.1 L715.4,1354.1 L712.7,1354.1 L710.1,1354.2 L707.4,1354.2 L704.8,1354.2 L702.1,1354.2 L699.5,1354.3 L696.8,1354.3 L694.2,1354.3 L691.5,1354.3 L688.9,1354.4 L686.2,1354.4 L683.6,1354.4 L680.9,1354.4 L678.2,1354.4 L675.6,1354.5 L672.9,1354.5 L670.3,1354.5 L667.6,1354.5 L665.0,1354.5 L662.3,1354.5 L659.7,1354.5 L657.0,1354.5 L654.4,1354.5 L651.7,1354.6 L649.1,1354.6 L646.4,1354.6 L643.8,1354.6 L641.1,1354.6 L638.5,1354.6 L635.8,1354.6 L633.2,1354.5 L630.5,1354.5 L627.9,1354.5 L625.2,1354.5 L622.6,1354.5 L619.9,1354.5 L617.2,1354.5 L614.6,1354.4 L611.9,1354.4 L609.3,1354.4 L606.6,1354.4 L604.0,1354.3 L601.3,1354.3 L598.7,1354.2 L596.0,1354.2" fill="none" stroke="#008000" stroke-width="9.3" stroke-linejoin="round" stroke-linecap="round"/>
</g>
<line x1="594.80" y1="823.50" x2="594.80" y2="1416.50" stroke="#000" stroke-width="3.0" stroke-linecap="butt"/>
<line x1="593.30" y1="1415.00" x2="1316.60" y2="1415.00" stroke="#000" stroke-width="3.0" stroke-linecap="butt"/>
<line x1="594.80" y1="824.80" x2="1316.60" y2="824.80" stroke="#000" stroke-width="2.6" stroke-linecap="butt"/>
<line x1="1315.50" y1="824.80" x2="1315.50" y2="1415.00" stroke="#000" stroke-width="2.2" stroke-linecap="butt"/>
<line x1="582.80" y1="1352.50" x2="594.80" y2="1352.50" stroke="#000" stroke-width="3.0" stroke-linecap="round"/>
<line x1="582.80" y1="1227.00" x2="594.80" y2="1227.00" stroke="#000" stroke-width="3.0" stroke-linecap="round"/>
<line x1="582.80" y1="1101.50" x2="594.80" y2="1101.50" stroke="#000" stroke-width="3.0" stroke-linecap="round"/>
<line x1="582.80" y1="976.00" x2="594.80" y2="976.00" stroke="#000" stroke-width="3.0" stroke-linecap="round"/>
<line x1="582.80" y1="850.50" x2="594.80" y2="850.50" stroke="#000" stroke-width="3.0" stroke-linecap="round"/>
<line x1="588.80" y1="1415.25" x2="594.80" y2="1415.25" stroke="#000" stroke-width="3.0" stroke-linecap="round"/>
<line x1="588.80" y1="1289.75" x2="594.80" y2="1289.75" stroke="#000" stroke-width="3.0" stroke-linecap="round"/>
<line x1="588.80" y1="1164.25" x2="594.80" y2="1164.25" stroke="#000" stroke-width="3.0" stroke-linecap="round"/>
<line x1="588.80" y1="1038.75" x2="594.80" y2="1038.75" stroke="#000" stroke-width="3.0" stroke-linecap="round"/>
<line x1="588.80" y1="913.25" x2="594.80" y2="913.25" stroke="#000" stroke-width="3.0" stroke-linecap="round"/>
<line x1="669.30" y1="1415.00" x2="669.30" y2="1427.30" stroke="#000" stroke-width="3.0" stroke-linecap="round"/>
<line x1="768.80" y1="1415.00" x2="768.80" y2="1427.30" stroke="#000" stroke-width="3.0" stroke-linecap="round"/>
<line x1="868.30" y1="1415.00" x2="868.30" y2="1427.30" stroke="#000" stroke-width="3.0" stroke-linecap="round"/>
<line x1="967.80" y1="1415.00" x2="967.80" y2="1427.30" stroke="#000" stroke-width="3.0" stroke-linecap="round"/>
<line x1="1067.30" y1="1415.00" x2="1067.30" y2="1427.30" stroke="#000" stroke-width="3.0" stroke-linecap="round"/>
<line x1="1166.80" y1="1415.00" x2="1166.80" y2="1427.30" stroke="#000" stroke-width="3.0" stroke-linecap="round"/>
<line x1="1266.30" y1="1415.00" x2="1266.30" y2="1427.30" stroke="#000" stroke-width="3.0" stroke-linecap="round"/>
<line x1="619.55" y1="1415.00" x2="619.55" y2="1421.30" stroke="#000" stroke-width="3.0" stroke-linecap="round"/>
<line x1="719.05" y1="1415.00" x2="719.05" y2="1421.30" stroke="#000" stroke-width="3.0" stroke-linecap="round"/>
<line x1="818.55" y1="1415.00" x2="818.55" y2="1421.30" stroke="#000" stroke-width="3.0" stroke-linecap="round"/>
<line x1="918.05" y1="1415.00" x2="918.05" y2="1421.30" stroke="#000" stroke-width="3.0" stroke-linecap="round"/>
<line x1="1017.55" y1="1415.00" x2="1017.55" y2="1421.30" stroke="#000" stroke-width="3.0" stroke-linecap="round"/>
<line x1="1117.05" y1="1415.00" x2="1117.05" y2="1421.30" stroke="#000" stroke-width="3.0" stroke-linecap="round"/>
<line x1="1216.55" y1="1415.00" x2="1216.55" y2="1421.30" stroke="#000" stroke-width="3.0" stroke-linecap="round"/>
<line x1="1316.05" y1="1415.00" x2="1316.05" y2="1421.30" stroke="#000" stroke-width="3.0" stroke-linecap="round"/>
<text transform="translate(574.00,1363.80) scale(1.0,1.07)" font-family="'Liberation Serif', 'Times New Roman', serif" font-size="34.5" font-weight="bold" font-style="normal" text-anchor="end" >0</text>
<text transform="translate(574.00,1238.30) scale(1.0,1.07)" font-family="'Liberation Serif', 'Times New Roman', serif" font-size="34.5" font-weight="bold" font-style="normal" text-anchor="end" >500</text>
<text transform="translate(574.00,1112.80) scale(1.0,1.07)" font-family="'Liberation Serif', 'Times New Roman', serif" font-size="34.5" font-weight="bold" font-style="normal" text-anchor="end" >1000</text>
<text transform="translate(574.00,987.30) scale(1.0,1.07)" font-family="'Liberation Serif', 'Times New Roman', serif" font-size="34.5" font-weight="bold" font-style="normal" text-anchor="end" >1500</text>
<text transform="translate(574.00,861.80) scale(1.0,1.07)" font-family="'Liberation Serif', 'Times New Roman', serif" font-size="34.5" font-weight="bold" font-style="normal" text-anchor="end" >2000</text>
<text transform="translate(669.80,1462.80) scale(1.0,1.09)" font-family="'Liberation Serif', 'Times New Roman', serif" font-size="34" font-weight="bold" font-style="normal" text-anchor="middle" >0.4</text>
<text transform="translate(769.30,1462.80) scale(1.0,1.09)" font-family="'Liberation Serif', 'Times New Roman', serif" font-size="34" font-weight="bold" font-style="normal" text-anchor="middle" >0.6</text>
<text transform="translate(868.80,1462.80) scale(1.0,1.09)" font-family="'Liberation Serif', 'Times New Roman', serif" font-size="34" font-weight="bold" font-style="normal" text-anchor="middle" >0.8</text>
<text transform="translate(968.30,1462.80) scale(1.0,1.09)" font-family="'Liberation Serif', 'Times New Roman', serif" font-size="34" font-weight="bold" font-style="normal" text-anchor="middle" >1.0</text>
<text transform="translate(1067.80,1462.80) scale(1.0,1.09)" font-family="'Liberation Serif', 'Times New Roman', serif" font-size="34" font-weight="bold" font-style="normal" text-anchor="middle" >1.2</text>
<text transform="translate(1167.30,1462.80) scale(1.0,1.09)" font-family="'Liberation Serif', 'Times New Roman', serif" font-size="34" font-weight="bold" font-style="normal" text-anchor="middle" >1.4</text>
<text transform="translate(1266.80,1462.80) scale(1.0,1.09)" font-family="'Liberation Serif', 'Times New Roman', serif" font-size="34" font-weight="bold" font-style="normal" text-anchor="middle" >1.6</text>
<text transform="translate(955.50,1503.20) scale(1.0,1.03)" font-family="'Liberation Serif', 'Times New Roman', serif" font-size="34.2" font-weight="bold" font-style="normal" text-anchor="middle" >Potential (V) vs.Ag/AgCl (3MKCl)</text>
<text transform="translate(495.4,1115.7) rotate(-90)" font-family="'Liberation Serif', 'Times New Roman', serif" font-size="42" font-weight="bold" text-anchor="middle">I <tspan font-weight="normal">(μ</tspan>A<tspan font-weight="normal">)</tspan></text>
<text transform="translate(609.60,872.50) scale(1.0,0.98)" font-family="'Liberation Sans', Arial, sans-serif" font-size="42" font-weight="bold" font-style="normal" text-anchor="start" >(c)</text>
<text x="1069.00" y="874.60" font-family="'Liberation Serif', 'Times New Roman', serif" font-size="42.5" font-weight="bold" font-style="normal" text-anchor="start" >LNYP</text>
<line x1="630.00" y1="979.10" x2="706.60" y2="979.10" stroke="#000000" stroke-width="9.2" stroke-linecap="round"/>
<text transform="translate(717.30,991.30) scale(1.0,1.07)" font-family="'Liberation Sans', Arial, sans-serif" font-size="33.3" font-weight="bold" font-style="normal" text-anchor="start" >40 <tspan font-weight="normal">°</tspan>C</text>
<line x1="630.00" y1="1022.30" x2="706.60" y2="1022.30" stroke="#ff0000" stroke-width="9.2" stroke-linecap="round"/>
<text transform="translate(717.30,1034.50) scale(1.0,1.07)" font-family="'Liberation Sans', Arial, sans-serif" font-size="33.3" font-weight="bold" font-style="normal" text-anchor="start" >35 <tspan font-weight="normal">°</tspan>C</text>
<line x1="630.00" y1="1065.70" x2="706.60" y2="1065.70" stroke="#0000ff" stroke-width="9.2" stroke-linecap="round"/>
<text transform="translate(717.30,1077.90) scale(1.0,1.07)" font-family="'Liberation Sans', Arial, sans-serif" font-size="33.3" font-weight="bold" font-style="normal" text-anchor="start" >30 <tspan font-weight="normal">°</tspan>C</text>
<line x1="630.00" y1="1108.90" x2="706.60" y2="1108.90" stroke="#ff00ff" stroke-width="9.2" stroke-linecap="round"/>
<text transform="translate(717.30,1121.10) scale(1.0,1.07)" font-family="'Liberation Sans', Arial, sans-serif" font-size="33.3" font-weight="bold" font-style="normal" text-anchor="start" >25 <tspan font-weight="normal">°</tspan>C</text>
<line x1="630.00" y1="1151.90" x2="706.60" y2="1151.90" stroke="#008000" stroke-width="9.2" stroke-linecap="round"/>
<text transform="translate(717.30,1164.10) scale(1.0,1.07)" font-family="'Liberation Sans', Arial, sans-serif" font-size="33.3" font-weight="bold" font-style="normal" text-anchor="start" >20 <tspan font-weight="normal">°</tspan>C</text>
<text x="719.30" y="1289.60" font-family="'Liberation Serif', 'Times New Roman', serif" font-size="30.3" font-weight="bold" font-style="normal" text-anchor="start" >Scan direction</text>
<line x1="751.00" y1="1315.50" x2="848.20" y2="1315.50" stroke="#000" stroke-width="4" stroke-linecap="round"/>
<polygon points="847.20,1308.10 873.20,1315.50 847.20,1322.90" fill="#000" stroke="#000" stroke-width="1" stroke-linejoin="round"/>
</svg>
</body></html>
